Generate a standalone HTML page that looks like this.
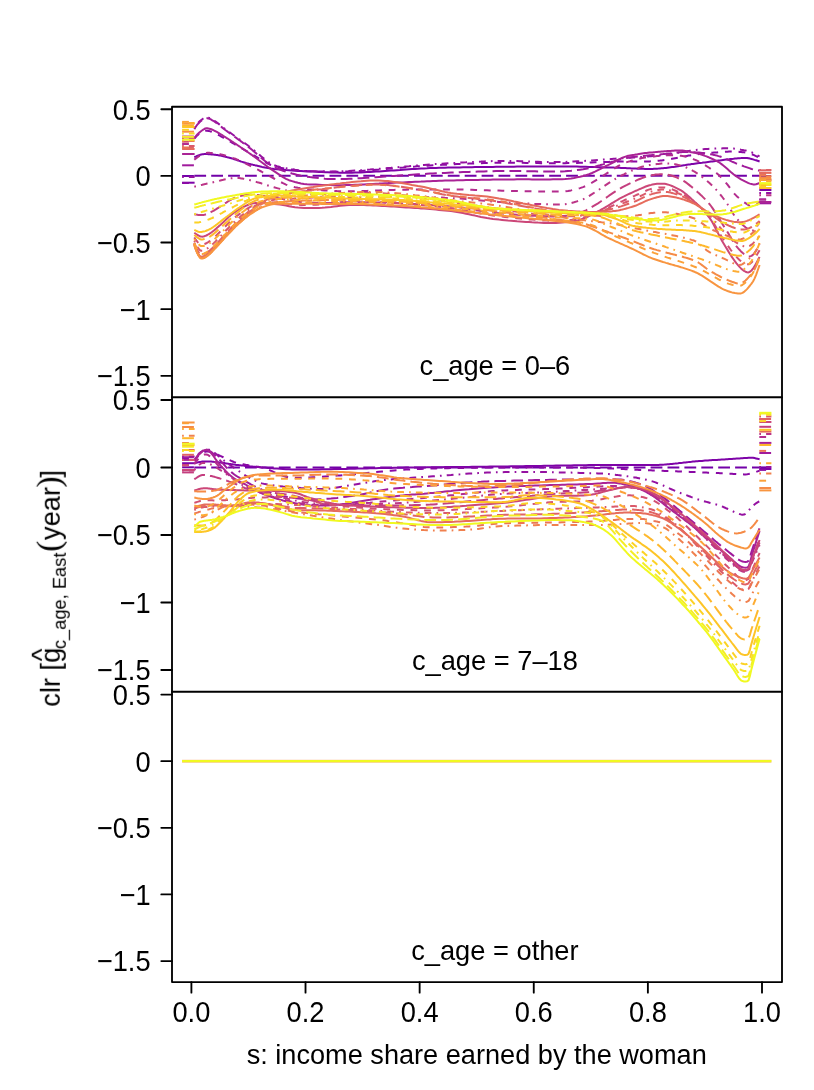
<!DOCTYPE html>
<html><head><meta charset="utf-8"><title>clr effects by year</title>
<style>html,body{margin:0;padding:0;background:#fff}svg{display:block}text{font-family:"Liberation Sans",sans-serif;font-size:27.25px;fill:#000}</style></head><body>
<svg width="814" height="1090" viewBox="0 0 814 1090">
<rect width="814" height="1090" fill="#fff"/>
<g fill="none" stroke-width="2.00" stroke-linecap="butt" stroke-linejoin="round">
<path d="M182.1 176.0H194.6" stroke="#7201A8" stroke-dasharray="11.8 5.1"/>
<path d="M194.3 175.8L195.3 175.8L196.3 175.8L197.3 175.8L198.3 175.8L199.3 175.8L200.3 175.8L201.3 175.8L202.3 175.8L203.3 175.8L204.3 175.8L205.3 175.8L206.3 175.8L207.3 175.8L208.3 175.8L209.3 175.8L210.3 175.8L211.3 175.8L212.3 175.8L213.3 175.8L214.3 175.8L215.3 175.8L216.3 175.8L217.3 175.8L218.3 175.8L219.3 175.8L220.3 175.8L221.3 175.8L222.3 175.8L223.3 175.8L224.3 175.8L225.3 175.8L226.3 175.8L227.3 175.8L228.3 175.8L229.3 175.8L230.3 175.8L231.3 175.8L232.3 175.8L233.3 175.8L234.3 175.8L235.3 175.8L236.3 175.8L237.3 175.8L238.3 175.8L239.3 175.8L240.3 175.8L241.3 175.8L242.3 175.8L243.3 175.8L244.3 175.8L245.3 175.8L246.3 175.8L247.3 175.8L248.3 175.8L249.3 175.8L250.3 175.8L251.3 175.8L252.3 175.8L253.3 175.8L254.3 175.8L255.3 175.8L256.3 175.8L257.3 175.8L258.3 175.8L259.3 175.8L260.3 175.8L261.3 175.8L262.0 175.8L265.0 175.8L268.0 175.8L271.0 175.8L274.0 175.8L277.0 175.8L280.0 175.8L283.0 175.8L286.0 175.8L289.0 175.8L292.0 175.8L295.0 175.8L298.0 175.8L301.0 175.8L304.0 175.8L307.0 175.8L310.0 175.8L313.0 175.8L316.0 175.8L319.0 175.8L322.0 175.8L325.0 175.8L328.0 175.8L331.0 175.8L334.0 175.8L337.0 175.8L340.0 175.8L343.0 175.8L346.0 175.8L349.0 175.8L352.0 175.8L355.0 175.8L358.0 175.8L361.0 175.8L364.0 175.8L367.0 175.8L370.0 175.8L373.0 175.8L376.0 175.8L379.0 175.8L382.0 175.8L385.0 175.8L388.0 175.8L391.0 175.8L394.0 175.8L397.0 175.8L400.0 175.8L403.0 175.8L406.0 175.8L409.0 175.8L412.0 175.8L415.0 175.8L418.0 175.8L421.0 175.8L424.0 175.8L427.0 175.8L430.0 175.8L433.0 175.8L436.0 175.8L439.0 175.8L442.0 175.8L445.0 175.8L448.0 175.8L451.0 175.8L454.0 175.8L457.0 175.8L460.0 175.8L463.0 175.8L466.0 175.8L469.0 175.8L472.0 175.8L475.0 175.8L478.0 175.8L481.0 175.8L484.0 175.8L487.0 175.8L490.0 175.8L493.0 175.8L496.0 175.8L499.0 175.8L502.0 175.8L505.0 175.8L508.0 175.8L511.0 175.8L514.0 175.8L517.0 175.8L520.0 175.8L523.0 175.8L526.0 175.8L529.0 175.8L532.0 175.8L535.0 175.8L538.0 175.8L541.0 175.8L544.0 175.8L547.0 175.8L550.0 175.8L553.0 175.8L556.0 175.8L559.0 175.8L562.0 175.8L565.0 175.8L568.0 175.8L571.0 175.8L574.0 175.8L577.0 175.8L580.0 175.8L583.0 175.8L586.0 175.8L589.0 175.8L592.0 175.8L595.0 175.8L598.0 175.8L600.0 175.8L601.5 175.8L603.0 175.8L604.5 175.8L606.0 175.8L607.5 175.8L609.0 175.8L610.5 175.8L612.0 175.8L613.5 175.8L615.0 175.8L616.5 175.8L618.0 175.8L619.5 175.8L621.0 175.8L622.5 175.8L624.0 175.8L625.5 175.8L627.0 175.8L628.5 175.8L630.0 175.8L631.5 175.8L633.0 175.8L634.5 175.8L636.0 175.8L637.5 175.8L639.0 175.8L640.5 175.8L642.0 175.8L643.5 175.8L645.0 175.8L646.5 175.8L648.0 175.8L649.5 175.8L651.0 175.8L652.5 175.8L654.0 175.8L655.5 175.8L657.0 175.8L658.5 175.8L660.0 175.8L661.5 175.8L663.0 175.8L664.5 175.8L666.0 175.8L667.5 175.8L669.0 175.8L670.5 175.8L672.0 175.8L673.5 175.8L675.0 175.8L676.5 175.8L678.0 175.8L679.5 175.8L681.0 175.8L682.5 175.8L684.0 175.8L685.5 175.8L687.0 175.8L688.5 175.8L690.0 175.8L691.5 175.8L693.0 175.8L694.5 175.8L696.0 175.8L697.5 175.8L699.0 175.8L700.5 175.8L702.0 175.8L703.5 175.8L705.0 175.8L706.5 175.8L708.0 175.8L709.5 175.8L711.0 175.8L712.5 175.8L714.0 175.8L715.5 175.8L717.0 175.8L718.5 175.8L720.0 175.8L721.5 175.8L723.0 175.8L724.5 175.8L726.0 175.8L727.5 175.8L729.0 175.8L730.5 175.8L732.0 175.8L733.5 175.8L735.0 175.8L736.5 175.8L738.0 175.8L739.5 175.8L741.0 175.8L742.5 175.8L744.0 175.8L745.5 175.8L747.0 175.8L748.5 175.8L750.0 175.8L751.5 175.8L753.0 175.8L754.5 175.8L756.0 175.8L757.5 175.8L759.0 175.8L759.6 175.8" stroke="#7201A8" stroke-dasharray="11.8 5.1"/>
<path d="M759.3 176.0H771.4" stroke="#7201A8" stroke-dasharray="11.8 5.1"/>
<path d="M182.1 182.7H194.6" stroke="#7E03A8"/>
<path d="M194.3 157.2L195.3 156.8L196.3 156.3L197.3 155.9L198.3 155.5L199.3 155.1L200.3 154.8L201.3 154.5L202.3 154.3L203.3 154.2L204.3 154.1L205.3 154.1L206.3 154.1L207.3 154.1L208.3 154.2L209.3 154.2L210.3 154.3L211.3 154.4L212.3 154.5L213.3 154.6L214.3 154.7L215.3 154.8L216.3 155.0L217.3 155.1L218.3 155.3L219.3 155.5L220.3 155.6L221.3 155.8L222.3 156.0L223.3 156.2L224.3 156.4L225.3 156.7L226.3 156.9L227.3 157.2L228.3 157.4L229.3 157.7L230.3 158.0L231.3 158.3L232.3 158.6L233.3 158.9L234.3 159.3L235.3 159.6L236.3 159.9L237.3 160.2L238.3 160.6L239.3 160.9L240.3 161.2L241.3 161.6L242.3 161.9L243.3 162.2L244.3 162.5L245.3 162.8L246.3 163.1L247.3 163.4L248.3 163.6L249.3 163.9L250.3 164.1L251.3 164.4L252.3 164.6L253.3 164.9L254.3 165.1L255.3 165.4L256.3 165.6L257.3 165.8L258.3 166.1L259.3 166.3L260.3 166.5L261.3 166.7L262.0 166.9L265.0 167.5L268.0 168.0L271.0 168.5L274.0 168.9L277.0 169.2L280.0 169.4L283.0 169.7L286.0 170.0L289.0 170.2L292.0 170.4L295.0 170.7L298.0 170.9L301.0 171.0L304.0 171.2L307.0 171.4L310.0 171.5L313.0 171.6L316.0 171.8L319.0 171.9L322.0 172.0L325.0 172.2L328.0 172.3L331.0 172.4L334.0 172.5L337.0 172.6L340.0 172.7L343.0 172.7L346.0 172.7L349.0 172.7L352.0 172.7L355.0 172.6L358.0 172.5L361.0 172.4L364.0 172.2L367.0 172.1L370.0 172.0L373.0 171.8L376.0 171.6L379.0 171.4L382.0 171.2L385.0 171.0L388.0 170.8L391.0 170.6L394.0 170.4L397.0 170.2L400.0 170.0L403.0 169.7L406.0 169.5L409.0 169.3L412.0 169.1L415.0 168.9L418.0 168.8L421.0 168.6L424.0 168.4L427.0 168.3L430.0 168.1L433.0 168.0L436.0 167.9L439.0 167.8L442.0 167.8L445.0 167.7L448.0 167.6L451.0 167.6L454.0 167.5L457.0 167.4L460.0 167.4L463.0 167.3L466.0 167.3L469.0 167.2L472.0 167.2L475.0 167.1L478.0 167.1L481.0 167.0L484.0 167.0L487.0 166.9L490.0 166.9L493.0 166.9L496.0 166.8L499.0 166.8L502.0 166.8L505.0 166.7L508.0 166.7L511.0 166.7L514.0 166.7L517.0 166.6L520.0 166.6L523.0 166.6L526.0 166.5L529.0 166.5L532.0 166.5L535.0 166.5L538.0 166.4L541.0 166.4L544.0 166.4L547.0 166.4L550.0 166.4L553.0 166.4L556.0 166.4L559.0 166.4L562.0 166.4L565.0 166.4L568.0 166.5L571.0 166.5L574.0 166.6L577.0 166.6L580.0 166.7L583.0 166.8L586.0 166.8L589.0 166.9L592.0 167.0L595.0 167.1L598.0 167.2L600.0 167.2L601.5 167.3L603.0 167.3L604.5 167.4L606.0 167.4L607.5 167.4L609.0 167.5L610.5 167.5L612.0 167.6L613.5 167.6L615.0 167.7L616.5 167.7L618.0 167.8L619.5 167.8L621.0 167.9L622.5 168.0L624.0 168.1L625.5 168.1L627.0 168.2L628.5 168.3L630.0 168.3L631.5 168.4L633.0 168.5L634.5 168.5L636.0 168.6L637.5 168.7L639.0 168.7L640.5 168.8L642.0 168.8L643.5 168.8L645.0 168.9L646.5 168.9L648.0 168.9L649.5 168.9L651.0 168.9L652.5 168.9L654.0 168.8L655.5 168.7L657.0 168.7L658.5 168.6L660.0 168.4L661.5 168.3L663.0 168.2L664.5 168.0L666.0 167.9L667.5 167.7L669.0 167.5L670.5 167.3L672.0 167.1L673.5 166.9L675.0 166.7L676.5 166.4L678.0 166.2L679.5 166.0L681.0 165.8L682.5 165.5L684.0 165.3L685.5 165.1L687.0 164.8L688.5 164.6L690.0 164.4L691.5 164.1L693.0 163.9L694.5 163.7L696.0 163.5L697.5 163.3L699.0 163.1L700.5 162.9L702.0 162.8L703.5 162.6L705.0 162.4L706.5 162.2L708.0 162.0L709.5 161.8L711.0 161.6L712.5 161.4L714.0 161.2L715.5 161.0L717.0 160.8L718.5 160.6L720.0 160.4L721.5 160.2L723.0 160.0L724.5 159.8L726.0 159.6L727.5 159.4L729.0 159.3L730.5 159.1L732.0 158.9L733.5 158.8L735.0 158.6L736.5 158.4L738.0 158.3L739.5 158.2L741.0 158.1L742.5 157.9L744.0 157.9L745.5 157.9L747.0 158.0L748.5 158.3L750.0 158.6L751.5 159.0L753.0 159.4L754.5 159.9L756.0 160.3L757.5 160.8L759.0 161.3L759.6 161.5" stroke="#7E03A8"/>
<path d="M759.3 190.0H771.4" stroke="#7E03A8"/>
<path d="M182.1 183.0H194.6" stroke="#8A09A5" stroke-dasharray="6.8 6.8"/>
<path d="M194.3 138.6L195.3 137.5L196.3 136.4L197.3 135.4L198.3 134.5L199.3 133.7L200.3 133.0L201.3 132.4L202.3 131.9L203.3 131.4L204.3 131.0L205.3 130.8L206.3 130.7L207.3 130.7L208.3 130.9L209.3 131.1L210.3 131.4L211.3 131.7L212.3 132.1L213.3 132.5L214.3 132.9L215.3 133.4L216.3 133.9L217.3 134.4L218.3 134.9L219.3 135.4L220.3 136.0L221.3 136.6L222.3 137.1L223.3 137.7L224.3 138.3L225.3 138.8L226.3 139.4L227.3 139.9L228.3 140.5L229.3 141.1L230.3 141.6L231.3 142.2L232.3 142.8L233.3 143.4L234.3 144.0L235.3 144.6L236.3 145.1L237.3 145.7L238.3 146.3L239.3 146.9L240.3 147.5L241.3 148.1L242.3 148.7L243.3 149.2L244.3 149.8L245.3 150.4L246.3 151.0L247.3 151.5L248.3 152.1L249.3 152.6L250.3 153.2L251.3 153.8L252.3 154.4L253.3 154.9L254.3 155.6L255.3 156.2L256.3 156.8L257.3 157.4L258.3 158.0L259.3 158.7L260.3 159.3L261.3 159.9L262.0 160.3L265.0 162.1L268.0 163.7L271.0 165.1L274.0 166.2L277.0 167.0L280.0 167.7L283.0 168.2L286.0 168.7L289.0 169.1L292.0 169.6L295.0 170.0L298.0 170.4L301.0 170.7L304.0 170.9L307.0 171.1L310.0 171.2L313.0 171.3L316.0 171.4L319.0 171.5L322.0 171.5L325.0 171.6L328.0 171.7L331.0 171.7L334.0 171.7L337.0 171.7L340.0 171.7L343.0 171.6L346.0 171.6L349.0 171.5L352.0 171.3L355.0 171.2L358.0 171.0L361.0 170.9L364.0 170.7L367.0 170.5L370.0 170.3L373.0 170.0L376.0 169.8L379.0 169.6L382.0 169.3L385.0 169.1L388.0 168.8L391.0 168.6L394.0 168.3L397.0 168.1L400.0 167.8L403.0 167.6L406.0 167.3L409.0 167.1L412.0 166.8L415.0 166.6L418.0 166.3L421.0 166.1L424.0 165.9L427.0 165.7L430.0 165.5L433.0 165.3L436.0 165.1L439.0 165.0L442.0 164.8L445.0 164.7L448.0 164.6L451.0 164.4L454.0 164.3L457.0 164.1L460.0 164.0L463.0 163.9L466.0 163.7L469.0 163.6L472.0 163.5L475.0 163.4L478.0 163.3L481.0 163.2L484.0 163.1L487.0 163.0L490.0 162.9L493.0 162.9L496.0 162.8L499.0 162.7L502.0 162.7L505.0 162.7L508.0 162.7L511.0 162.7L514.0 162.7L517.0 162.8L520.0 162.8L523.0 162.8L526.0 162.9L529.0 163.0L532.0 163.0L535.0 163.1L538.0 163.1L541.0 163.2L544.0 163.2L547.0 163.2L550.0 163.3L553.0 163.3L556.0 163.3L559.0 163.3L562.0 163.2L565.0 163.2L568.0 163.1L571.0 163.0L574.0 163.0L577.0 162.9L580.0 162.8L583.0 162.7L586.0 162.6L589.0 162.5L592.0 162.4L595.0 162.3L598.0 162.2L600.0 162.2L601.5 162.1L603.0 162.1L604.5 162.0L606.0 162.0L607.5 161.9L609.0 161.9L610.5 161.8L612.0 161.8L613.5 161.7L615.0 161.7L616.5 161.7L618.0 161.6L619.5 161.6L621.0 161.6L622.5 161.6L624.0 161.5L625.5 161.5L627.0 161.5L628.5 161.6L630.0 161.6L631.5 161.6L633.0 161.6L634.5 161.6L636.0 161.6L637.5 161.6L639.0 161.6L640.5 161.6L642.0 161.6L643.5 161.6L645.0 161.5L646.5 161.5L648.0 161.4L649.5 161.4L651.0 161.3L652.5 161.2L654.0 161.1L655.5 161.0L657.0 160.9L658.5 160.7L660.0 160.6L661.5 160.4L663.0 160.2L664.5 160.0L666.0 159.8L667.5 159.6L669.0 159.4L670.5 159.1L672.0 158.8L673.5 158.5L675.0 158.2L676.5 157.9L678.0 157.6L679.5 157.3L681.0 157.0L682.5 156.7L684.0 156.4L685.5 156.2L687.0 155.9L688.5 155.6L690.0 155.4L691.5 155.2L693.0 154.9L694.5 154.7L696.0 154.5L697.5 154.3L699.0 154.1L700.5 153.9L702.0 153.8L703.5 153.6L705.0 153.5L706.5 153.3L708.0 153.2L709.5 153.0L711.0 152.9L712.5 152.7L714.0 152.6L715.5 152.5L717.0 152.4L718.5 152.2L720.0 152.1L721.5 152.0L723.0 151.9L724.5 151.8L726.0 151.7L727.5 151.7L729.0 151.6L730.5 151.6L732.0 151.6L733.5 151.6L735.0 151.7L736.5 151.7L738.0 151.8L739.5 151.9L741.0 152.0L742.5 152.2L744.0 152.3L745.5 152.5L747.0 152.7L748.5 153.1L750.0 153.6L751.5 154.1L753.0 154.7L754.5 155.4L756.0 156.1L757.5 156.8L759.0 157.5L759.6 157.8" stroke="#8A09A5" stroke-dasharray="6.8 6.8"/>
<path d="M759.3 199.5H771.4" stroke="#8A09A5" stroke-dasharray="6.8 6.8"/>
<path d="M182.1 177.0H194.6" stroke="#9511A1" stroke-dasharray="1.7 5.1 6.8 5.1"/>
<path d="M194.3 128.3L195.3 126.8L196.3 125.3L197.3 123.9L198.3 122.7L199.3 121.6L200.3 120.8L201.3 120.0L202.3 119.2L203.3 118.5L204.3 117.9L205.3 117.5L206.3 117.3L207.3 117.4L208.3 117.6L209.3 117.9L210.3 118.4L211.3 118.9L212.3 119.5L213.3 120.1L214.3 120.7L215.3 121.4L216.3 122.1L217.3 122.8L218.3 123.6L219.3 124.4L220.3 125.2L221.3 126.0L222.3 126.8L223.3 127.6L224.3 128.4L225.3 129.1L226.3 129.9L227.3 130.6L228.3 131.4L229.3 132.1L230.3 132.8L231.3 133.5L232.3 134.3L233.3 135.0L234.3 135.7L235.3 136.4L236.3 137.1L237.3 137.9L238.3 138.6L239.3 139.3L240.3 140.0L241.3 140.7L242.3 141.4L243.3 142.2L244.3 142.9L245.3 143.6L246.3 144.3L247.3 145.0L248.3 145.8L249.3 146.5L250.3 147.2L251.3 148.0L252.3 148.8L253.3 149.6L254.3 150.4L255.3 151.3L256.3 152.1L257.3 153.0L258.3 153.9L259.3 154.7L260.3 155.6L261.3 156.5L262.0 157.0L265.0 159.5L268.0 161.7L271.0 163.6L274.0 165.1L277.0 166.2L280.0 167.0L283.0 167.7L286.0 168.2L289.0 168.7L292.0 169.2L295.0 169.8L298.0 170.2L301.0 170.6L304.0 170.9L307.0 171.0L310.0 171.1L313.0 171.2L316.0 171.3L319.0 171.3L322.0 171.4L325.0 171.4L328.0 171.4L331.0 171.4L334.0 171.4L337.0 171.4L340.0 171.3L343.0 171.2L346.0 171.1L349.0 171.0L352.0 170.8L355.0 170.6L358.0 170.4L361.0 170.2L364.0 170.0L367.0 169.8L370.0 169.6L373.0 169.3L376.0 169.1L379.0 168.8L382.0 168.6L385.0 168.3L388.0 168.0L391.0 167.8L394.0 167.5L397.0 167.2L400.0 167.0L403.0 166.7L406.0 166.4L409.0 166.2L412.0 165.9L415.0 165.6L418.0 165.4L421.0 165.1L424.0 164.9L427.0 164.7L430.0 164.5L433.0 164.2L436.0 164.0L439.0 163.9L442.0 163.7L445.0 163.5L448.0 163.3L451.0 163.1L454.0 163.0L457.0 162.8L460.0 162.6L463.0 162.4L466.0 162.3L469.0 162.1L472.0 162.0L475.0 161.8L478.0 161.7L481.0 161.6L484.0 161.4L487.0 161.3L490.0 161.2L493.0 161.1L496.0 161.1L499.0 161.0L502.0 161.0L505.0 161.0L508.0 161.0L511.0 161.0L514.0 161.1L517.0 161.1L520.0 161.2L523.0 161.3L526.0 161.4L529.0 161.5L532.0 161.6L535.0 161.7L538.0 161.8L541.0 161.9L544.0 162.0L547.0 162.0L550.0 162.0L553.0 162.1L556.0 162.1L559.0 162.0L562.0 162.0L565.0 161.9L568.0 161.8L571.0 161.6L574.0 161.5L577.0 161.3L580.0 161.2L583.0 161.0L586.0 160.8L589.0 160.6L592.0 160.4L595.0 160.2L598.0 160.0L600.0 159.8L601.5 159.7L603.0 159.6L604.5 159.5L606.0 159.4L607.5 159.3L609.0 159.2L610.5 159.1L612.0 158.9L613.5 158.8L615.0 158.7L616.5 158.6L618.0 158.5L619.5 158.4L621.0 158.3L622.5 158.2L624.0 158.1L625.5 158.0L627.0 157.9L628.5 157.8L630.0 157.7L631.5 157.6L633.0 157.5L634.5 157.4L636.0 157.3L637.5 157.2L639.0 157.1L640.5 157.0L642.0 156.9L643.5 156.8L645.0 156.7L646.5 156.6L648.0 156.5L649.5 156.3L651.0 156.2L652.5 156.1L654.0 156.0L655.5 155.8L657.0 155.7L658.5 155.5L660.0 155.4L661.5 155.2L663.0 155.1L664.5 154.9L666.0 154.7L667.5 154.5L669.0 154.3L670.5 154.0L672.0 153.8L673.5 153.6L675.0 153.3L676.5 153.1L678.0 152.8L679.5 152.5L681.0 152.3L682.5 152.0L684.0 151.8L685.5 151.5L687.0 151.3L688.5 151.0L690.0 150.8L691.5 150.6L693.0 150.4L694.5 150.2L696.0 150.0L697.5 149.8L699.0 149.7L700.5 149.5L702.0 149.4L703.5 149.3L705.0 149.1L706.5 149.0L708.0 148.9L709.5 148.8L711.0 148.8L712.5 148.7L714.0 148.6L715.5 148.6L717.0 148.5L718.5 148.5L720.0 148.4L721.5 148.4L723.0 148.3L724.5 148.3L726.0 148.3L727.5 148.3L729.0 148.3L730.5 148.4L732.0 148.5L733.5 148.6L735.0 148.8L736.5 149.0L738.0 149.2L739.5 149.4L741.0 149.7L742.5 149.9L744.0 150.2L745.5 150.4L747.0 150.7L748.5 151.1L750.0 151.7L751.5 152.3L753.0 152.9L754.5 153.7L756.0 154.5L757.5 155.3L759.0 156.1L759.6 156.4" stroke="#9511A1" stroke-dasharray="1.7 5.1 6.8 5.1"/>
<path d="M759.3 193.0H771.4" stroke="#9511A1" stroke-dasharray="1.7 5.1 6.8 5.1"/>
<path d="M182.1 165.3H194.6" stroke="#A01A9C" stroke-dasharray="11.8 5.1"/>
<path d="M194.3 129.1L195.3 127.5L196.3 126.0L197.3 124.7L198.3 123.6L199.3 122.5L200.3 121.6L201.3 120.7L202.3 119.9L203.3 119.3L204.3 118.7L205.3 118.3L206.3 118.1L207.3 118.2L208.3 118.4L209.3 118.7L210.3 119.2L211.3 119.7L212.3 120.3L213.3 120.8L214.3 121.5L215.3 122.2L216.3 122.9L217.3 123.6L218.3 124.4L219.3 125.2L220.3 126.0L221.3 126.8L222.3 127.6L223.3 128.4L224.3 129.2L225.3 130.0L226.3 130.7L227.3 131.4L228.3 132.2L229.3 132.9L230.3 133.6L231.3 134.3L232.3 135.1L233.3 135.8L234.3 136.5L235.3 137.2L236.3 137.9L237.3 138.7L238.3 139.4L239.3 140.1L240.3 140.8L241.3 141.6L242.3 142.3L243.3 143.1L244.3 143.8L245.3 144.6L246.3 145.4L247.3 146.1L248.3 146.9L249.3 147.7L250.3 148.4L251.3 149.2L252.3 150.0L253.3 150.9L254.3 151.8L255.3 152.6L256.3 153.5L257.3 154.4L258.3 155.3L259.3 156.2L260.3 157.0L261.3 157.9L262.0 158.5L265.0 161.0L268.0 163.3L271.0 165.3L274.0 167.0L277.0 168.4L280.0 169.6L283.0 170.7L286.0 171.7L289.0 172.6L292.0 173.5L295.0 174.3L298.0 175.1L301.0 175.7L304.0 176.2L307.0 176.7L310.0 177.1L313.0 177.4L316.0 177.7L319.0 178.0L322.0 178.3L325.0 178.7L328.0 179.0L331.0 179.1L334.0 179.1L337.0 179.1L340.0 179.0L343.0 179.0L346.0 178.9L349.0 178.8L352.0 178.7L355.0 178.5L358.0 178.3L361.0 178.2L364.0 178.0L367.0 177.8L370.0 177.6L373.0 177.4L376.0 177.2L379.0 177.0L382.0 176.8L385.0 176.6L388.0 176.4L391.0 176.1L394.0 175.9L397.0 175.7L400.0 175.5L403.0 175.3L406.0 175.1L409.0 174.9L412.0 174.7L415.0 174.5L418.0 174.3L421.0 174.2L424.0 174.0L427.0 173.8L430.0 173.6L433.0 173.5L436.0 173.3L439.0 173.2L442.0 173.0L445.0 172.9L448.0 172.7L451.0 172.6L454.0 172.5L457.0 172.4L460.0 172.2L463.0 172.1L466.0 172.0L469.0 171.9L472.0 171.8L475.0 171.7L478.0 171.6L481.0 171.5L484.0 171.4L487.0 171.3L490.0 171.3L493.0 171.2L496.0 171.1L499.0 171.1L502.0 171.0L505.0 171.0L508.0 171.0L511.0 171.0L514.0 171.0L517.0 171.0L520.0 171.1L523.0 171.1L526.0 171.2L529.0 171.2L532.0 171.3L535.0 171.3L538.0 171.4L541.0 171.4L544.0 171.5L547.0 171.5L550.0 171.5L553.0 171.5L556.0 171.5L559.0 171.5L562.0 171.4L565.0 171.3L568.0 171.0L571.0 170.8L574.0 170.5L577.0 170.1L580.0 169.7L583.0 169.3L586.0 168.8L589.0 168.2L592.0 167.5L595.0 166.7L598.0 165.8L600.0 165.3L601.5 164.8L603.0 164.4L604.5 163.9L606.0 163.5L607.5 163.1L609.0 162.7L610.5 162.3L612.0 161.8L613.5 161.4L615.0 160.9L616.5 160.5L618.0 160.0L619.5 159.6L621.0 159.2L622.5 158.8L624.0 158.4L625.5 158.1L627.0 157.9L628.5 157.6L630.0 157.4L631.5 157.2L633.0 157.0L634.5 156.8L636.0 156.7L637.5 156.5L639.0 156.3L640.5 156.2L642.0 156.0L643.5 155.9L645.0 155.7L646.5 155.6L648.0 155.4L649.5 155.3L651.0 155.2L652.5 155.0L654.0 154.9L655.5 154.7L657.0 154.6L658.5 154.5L660.0 154.4L661.5 154.2L663.0 154.1L664.5 153.9L666.0 153.8L667.5 153.6L669.0 153.4L670.5 153.3L672.0 153.1L673.5 152.9L675.0 152.8L676.5 152.6L678.0 152.5L679.5 152.3L681.0 152.2L682.5 152.1L684.0 152.1L685.5 152.1L687.0 152.1L688.5 152.1L690.0 152.1L691.5 152.2L693.0 152.2L694.5 152.3L696.0 152.4L697.5 152.5L699.0 152.6L700.5 152.7L702.0 152.9L703.5 153.1L705.0 153.3L706.5 153.5L708.0 153.8L709.5 154.1L711.0 154.3L712.5 154.6L714.0 154.9L715.5 155.3L717.0 155.6L718.5 156.1L720.0 156.5L721.5 157.0L723.0 157.6L724.5 158.2L726.0 158.9L727.5 159.5L729.0 160.2L730.5 160.9L732.0 161.6L733.5 162.2L735.0 162.9L736.5 163.6L738.0 164.1L739.5 164.7L741.0 165.3L742.5 165.8L744.0 166.4L745.5 166.9L747.0 167.4L748.5 167.9L750.0 168.4L751.5 169.0L753.0 169.4L754.5 169.9L756.0 170.2L757.5 170.4L759.0 170.5L759.6 170.5" stroke="#A01A9C" stroke-dasharray="11.8 5.1"/>
<path d="M759.3 203.3H771.4" stroke="#A01A9C" stroke-dasharray="11.8 5.1"/>
<path d="M182.1 154.0H194.6" stroke="#AA2395"/>
<path d="M194.3 138.2L195.3 136.9L196.3 135.7L197.3 134.5L198.3 133.5L199.3 132.6L200.3 131.8L201.3 131.0L202.3 130.3L203.3 129.6L204.3 129.0L205.3 128.5L206.3 128.3L207.3 128.3L208.3 128.5L209.3 128.7L210.3 129.0L211.3 129.3L212.3 129.7L213.3 130.2L214.3 130.7L215.3 131.1L216.3 131.7L217.3 132.2L218.3 132.8L219.3 133.4L220.3 134.0L221.3 134.6L222.3 135.2L223.3 135.9L224.3 136.5L225.3 137.1L226.3 137.8L227.3 138.4L228.3 139.0L229.3 139.7L230.3 140.3L231.3 141.0L232.3 141.7L233.3 142.3L234.3 143.0L235.3 143.6L236.3 144.3L237.3 145.0L238.3 145.7L239.3 146.3L240.3 147.0L241.3 147.7L242.3 148.4L243.3 149.1L244.3 149.8L245.3 150.4L246.3 151.1L247.3 151.8L248.3 152.5L249.3 153.2L250.3 153.9L251.3 154.6L252.3 155.3L253.3 156.1L254.3 156.8L255.3 157.5L256.3 158.3L257.3 159.0L258.3 159.8L259.3 160.5L260.3 161.3L261.3 162.0L262.0 162.5L265.0 164.8L268.0 167.0L271.0 169.1L274.0 171.1L277.0 173.1L280.0 175.1L283.0 177.1L286.0 178.8L289.0 180.2L292.0 181.1L295.0 182.0L298.0 182.8L301.0 183.4L304.0 183.9L307.0 184.3L310.0 184.4L313.0 184.5L316.0 184.6L319.0 184.7L322.0 184.9L325.0 184.9L328.0 185.0L331.0 185.1L334.0 185.2L337.0 185.2L340.0 185.2L343.0 185.2L346.0 185.1L349.0 185.0L352.0 184.9L355.0 184.8L358.0 184.7L361.0 184.5L364.0 184.4L367.0 184.2L370.0 184.0L373.0 183.9L376.0 183.7L379.0 183.6L382.0 183.4L385.0 183.2L388.0 183.1L391.0 182.9L394.0 182.8L397.0 182.6L400.0 182.5L403.0 182.4L406.0 182.2L409.0 182.1L412.0 182.0L415.0 181.8L418.0 181.7L421.0 181.6L424.0 181.4L427.0 181.3L430.0 181.2L433.0 181.1L436.0 181.0L439.0 180.8L442.0 180.7L445.0 180.6L448.0 180.6L451.0 180.5L454.0 180.4L457.0 180.3L460.0 180.3L463.0 180.2L466.0 180.1L469.0 180.1L472.0 180.0L475.0 179.9L478.0 179.9L481.0 179.8L484.0 179.8L487.0 179.7L490.0 179.7L493.0 179.6L496.0 179.6L499.0 179.5L502.0 179.5L505.0 179.4L508.0 179.4L511.0 179.4L514.0 179.4L517.0 179.3L520.0 179.3L523.0 179.3L526.0 179.3L529.0 179.3L532.0 179.4L535.0 179.4L538.0 179.4L541.0 179.4L544.0 179.4L547.0 179.4L550.0 179.4L553.0 179.3L556.0 179.3L559.0 179.3L562.0 179.3L565.0 179.1L568.0 178.8L571.0 178.4L574.0 177.9L577.0 177.3L580.0 176.7L583.0 176.0L586.0 175.2L589.0 174.2L592.0 173.0L595.0 171.6L598.0 170.1L600.0 169.1L601.5 168.3L603.0 167.6L604.5 166.8L606.0 166.0L607.5 165.3L609.0 164.6L610.5 163.9L612.0 163.1L613.5 162.3L615.0 161.5L616.5 160.7L618.0 159.9L619.5 159.1L621.0 158.4L622.5 157.7L624.0 157.1L625.5 156.6L627.0 156.1L628.5 155.8L630.0 155.5L631.5 155.2L633.0 154.9L634.5 154.7L636.0 154.4L637.5 154.2L639.0 153.9L640.5 153.7L642.0 153.5L643.5 153.3L645.0 153.1L646.5 153.0L648.0 152.8L649.5 152.6L651.0 152.5L652.5 152.4L654.0 152.2L655.5 152.1L657.0 151.9L658.5 151.8L660.0 151.7L661.5 151.6L663.0 151.5L664.5 151.3L666.0 151.2L667.5 151.1L669.0 151.0L670.5 150.9L672.0 150.8L673.5 150.7L675.0 150.6L676.5 150.6L678.0 150.5L679.5 150.5L681.0 150.5L682.5 150.6L684.0 150.8L685.5 151.0L687.0 151.2L688.5 151.5L690.0 151.9L691.5 152.2L693.0 152.5L694.5 152.8L696.0 153.1L697.5 153.5L699.0 153.9L700.5 154.4L702.0 154.8L703.5 155.3L705.0 155.9L706.5 156.4L708.0 157.0L709.5 157.7L711.0 158.3L712.5 159.0L714.0 159.7L715.5 160.4L717.0 161.2L718.5 162.0L720.0 163.0L721.5 164.1L723.0 165.3L724.5 166.5L726.0 167.8L727.5 169.1L729.0 170.4L730.5 171.8L732.0 173.0L733.5 174.3L735.0 175.4L736.5 176.5L738.0 177.5L739.5 178.4L741.0 179.3L742.5 180.1L744.0 180.9L745.5 181.7L747.0 182.4L748.5 183.1L750.0 183.6L751.5 184.0L753.0 184.4L754.5 184.5L756.0 184.3L757.5 183.8L759.0 183.2L759.6 183.0" stroke="#AA2395"/>
<path d="M759.3 202.0H771.4" stroke="#AA2395"/>
<path d="M182.1 144.0H194.6" stroke="#B32C8E" stroke-dasharray="6.8 6.8"/>
<path d="M194.3 159.7L195.3 158.9L196.3 158.1L197.3 157.4L198.3 156.7L199.3 156.0L200.3 155.5L201.3 155.0L202.3 154.4L203.3 153.9L204.3 153.5L205.3 153.1L206.3 152.9L207.3 152.8L208.3 152.8L209.3 152.8L210.3 152.9L211.3 152.9L212.3 153.1L213.3 153.2L214.3 153.3L215.3 153.5L216.3 153.6L217.3 153.8L218.3 154.0L219.3 154.1L220.3 154.3L221.3 154.6L222.3 154.8L223.3 155.0L224.3 155.3L225.3 155.6L226.3 155.8L227.3 156.1L228.3 156.4L229.3 156.7L230.3 157.1L231.3 157.4L232.3 157.7L233.3 158.1L234.3 158.4L235.3 158.8L236.3 159.2L237.3 159.6L238.3 160.0L239.3 160.4L240.3 160.9L241.3 161.3L242.3 161.8L243.3 162.3L244.3 162.8L245.3 163.3L246.3 163.8L247.3 164.3L248.3 164.8L249.3 165.3L250.3 165.9L251.3 166.4L252.3 166.9L253.3 167.4L254.3 167.9L255.3 168.4L256.3 168.9L257.3 169.4L258.3 169.9L259.3 170.5L260.3 171.0L261.3 171.5L262.0 171.9L265.0 173.5L268.0 175.2L271.0 176.9L274.0 178.5L277.0 180.1L280.0 181.7L283.0 183.2L286.0 184.6L289.0 185.6L292.0 186.5L295.0 187.2L298.0 187.8L301.0 188.3L304.0 188.8L307.0 189.1L310.0 189.4L313.0 189.6L316.0 189.8L319.0 190.0L322.0 190.2L325.0 190.4L328.0 190.6L331.0 190.7L334.0 190.9L337.0 191.1L340.0 191.2L343.0 191.3L346.0 191.3L349.0 191.3L352.0 191.3L355.0 191.2L358.0 191.2L361.0 191.1L364.0 191.0L367.0 190.9L370.0 190.7L373.0 190.6L376.0 190.5L379.0 190.4L382.0 190.3L385.0 190.2L388.0 190.1L391.0 190.0L394.0 189.9L397.0 189.8L400.0 189.7L403.0 189.7L406.0 189.7L409.0 189.6L412.0 189.6L415.0 189.5L418.0 189.5L421.0 189.5L424.0 189.5L427.0 189.4L430.0 189.4L433.0 189.4L436.0 189.4L439.0 189.4L442.0 189.4L445.0 189.4L448.0 189.4L451.0 189.4L454.0 189.5L457.0 189.5L460.0 189.6L463.0 189.6L466.0 189.7L469.0 189.8L472.0 189.8L475.0 189.9L478.0 190.0L481.0 190.1L484.0 190.2L487.0 190.3L490.0 190.4L493.0 190.5L496.0 190.6L499.0 190.6L502.0 190.7L505.0 190.8L508.0 190.8L511.0 190.9L514.0 191.0L517.0 191.0L520.0 191.1L523.0 191.1L526.0 191.2L529.0 191.3L532.0 191.3L535.0 191.3L538.0 191.4L541.0 191.4L544.0 191.5L547.0 191.5L550.0 191.5L553.0 191.5L556.0 191.6L559.0 191.6L562.0 191.6L565.0 191.4L568.0 191.0L571.0 190.4L574.0 189.7L577.0 188.9L580.0 188.1L583.0 187.1L586.0 185.9L589.0 184.4L592.0 182.7L595.0 180.9L598.0 179.1L600.0 177.8L601.5 176.8L603.0 175.8L604.5 174.8L606.0 173.9L607.5 172.9L609.0 172.0L610.5 171.1L612.0 170.1L613.5 169.1L615.0 168.2L616.5 167.2L618.0 166.2L619.5 165.4L621.0 164.7L622.5 163.9L624.0 163.3L625.5 162.6L627.0 162.1L628.5 161.6L630.0 161.2L631.5 160.7L633.0 160.3L634.5 159.9L636.0 159.5L637.5 159.1L639.0 158.8L640.5 158.4L642.0 158.1L643.5 157.8L645.0 157.6L646.5 157.4L648.0 157.2L649.5 157.0L651.0 156.8L652.5 156.6L654.0 156.4L655.5 156.3L657.0 156.1L658.5 156.0L660.0 155.8L661.5 155.7L663.0 155.6L664.5 155.5L666.0 155.4L667.5 155.3L669.0 155.2L670.5 155.2L672.0 155.2L673.5 155.2L675.0 155.3L676.5 155.4L678.0 155.5L679.5 155.6L681.0 155.8L682.5 156.0L684.0 156.3L685.5 156.6L687.0 157.0L688.5 157.4L690.0 157.8L691.5 158.3L693.0 159.0L694.5 159.6L696.0 160.2L697.5 160.9L699.0 161.7L700.5 162.5L702.0 163.4L703.5 164.3L705.0 165.2L706.5 166.1L708.0 167.0L709.5 168.0L711.0 169.1L712.5 170.1L714.0 171.2L715.5 172.3L717.0 173.5L718.5 174.8L720.0 176.3L721.5 177.8L723.0 179.4L724.5 181.1L726.0 182.9L727.5 184.7L729.0 186.7L730.5 188.7L732.0 190.7L733.5 192.6L735.0 194.4L736.5 195.9L738.0 197.3L739.5 198.6L741.0 199.8L742.5 201.0L744.0 202.2L745.5 203.2L747.0 204.2L748.5 205.1L750.0 205.8L751.5 206.3L753.0 206.6L754.5 206.4L756.0 205.4L757.5 203.8L759.0 202.1L759.6 201.3" stroke="#B32C8E" stroke-dasharray="6.8 6.8"/>
<path d="M759.3 199.5H771.4" stroke="#B32C8E" stroke-dasharray="6.8 6.8"/>
<path d="M182.1 138.3H194.6" stroke="#BC3587" stroke-dasharray="1.7 5.1 6.8 5.1"/>
<path d="M194.3 186.7L195.3 186.4L196.3 186.2L197.3 186.0L198.3 185.7L199.3 185.5L200.3 185.2L201.3 185.0L202.3 184.8L203.3 184.5L204.3 184.3L205.3 184.1L206.3 183.8L207.3 183.6L208.3 183.4L209.3 183.2L210.3 182.9L211.3 182.7L212.3 182.5L213.3 182.2L214.3 182.0L215.3 181.7L216.3 181.5L217.3 181.2L218.3 181.0L219.3 180.7L220.3 180.5L221.3 180.2L222.3 180.0L223.3 179.8L224.3 179.5L225.3 179.3L226.3 179.1L227.3 178.9L228.3 178.8L229.3 178.6L230.3 178.4L231.3 178.3L232.3 178.2L233.3 178.1L234.3 178.0L235.3 178.0L236.3 178.0L237.3 178.0L238.3 178.0L239.3 178.1L240.3 178.2L241.3 178.4L242.3 178.5L243.3 178.7L244.3 178.9L245.3 179.1L246.3 179.3L247.3 179.6L248.3 179.8L249.3 180.1L250.3 180.3L251.3 180.6L252.3 180.9L253.3 181.1L254.3 181.4L255.3 181.7L256.3 181.9L257.3 182.2L258.3 182.4L259.3 182.7L260.3 183.0L261.3 183.3L262.0 183.6L265.0 184.5L268.0 185.5L271.0 186.5L274.0 187.3L277.0 188.1L280.0 188.9L283.0 189.6L286.0 190.4L289.0 191.1L292.0 191.7L295.0 192.3L298.0 192.7L301.0 193.1L304.0 193.5L307.0 193.8L310.0 194.2L313.0 194.5L316.0 194.8L319.0 195.1L322.0 195.4L325.0 195.7L328.0 196.0L331.0 196.2L334.0 196.4L337.0 196.6L340.0 196.8L343.0 196.9L346.0 197.0L349.0 197.0L352.0 197.0L355.0 197.0L358.0 197.0L361.0 196.9L364.0 196.9L367.0 196.8L370.0 196.8L373.0 196.7L376.0 196.7L379.0 196.6L382.0 196.6L385.0 196.5L388.0 196.5L391.0 196.5L394.0 196.5L397.0 196.5L400.0 196.5L403.0 196.5L406.0 196.6L409.0 196.6L412.0 196.7L415.0 196.8L418.0 196.8L421.0 196.9L424.0 197.0L427.0 197.1L430.0 197.2L433.0 197.3L436.0 197.4L439.0 197.5L442.0 197.6L445.0 197.8L448.0 197.9L451.0 198.0L454.0 198.2L457.0 198.4L460.0 198.6L463.0 198.8L466.0 199.1L469.0 199.3L472.0 199.6L475.0 199.9L478.0 200.1L481.0 200.4L484.0 200.7L487.0 200.9L490.0 201.2L493.0 201.5L496.0 201.7L499.0 201.9L502.0 202.1L505.0 202.3L508.0 202.5L511.0 202.7L514.0 202.9L517.0 203.1L520.0 203.2L523.0 203.4L526.0 203.5L529.0 203.6L532.0 203.8L535.0 203.9L538.0 204.0L541.0 204.1L544.0 204.2L547.0 204.3L550.0 204.3L553.0 204.4L556.0 204.4L559.0 204.5L562.0 204.5L565.0 204.2L568.0 203.7L571.0 203.1L574.0 202.3L577.0 201.4L580.0 200.5L583.0 199.4L586.0 197.9L589.0 196.1L592.0 194.2L595.0 192.2L598.0 190.3L600.0 189.0L601.5 188.0L603.0 187.0L604.5 185.9L606.0 184.9L607.5 183.9L609.0 182.9L610.5 181.9L612.0 181.0L613.5 180.1L615.0 179.2L616.5 178.3L618.0 177.5L619.5 176.6L621.0 175.8L622.5 175.0L624.0 174.3L625.5 173.5L627.0 172.8L628.5 172.1L630.0 171.5L631.5 170.8L633.0 170.2L634.5 169.6L636.0 169.0L637.5 168.4L639.0 167.8L640.5 167.3L642.0 166.8L643.5 166.4L645.0 166.0L646.5 165.7L648.0 165.4L649.5 165.1L651.0 164.9L652.5 164.6L654.0 164.4L655.5 164.2L657.0 164.0L658.5 163.9L660.0 163.7L661.5 163.6L663.0 163.5L664.5 163.5L666.0 163.4L667.5 163.4L669.0 163.5L670.5 163.5L672.0 163.7L673.5 163.9L675.0 164.2L676.5 164.5L678.0 164.9L679.5 165.3L681.0 165.8L682.5 166.2L684.0 166.7L685.5 167.2L687.0 167.8L688.5 168.5L690.0 169.2L691.5 170.0L693.0 170.9L694.5 171.7L696.0 172.6L697.5 173.6L699.0 174.6L700.5 175.8L702.0 176.9L703.5 178.1L705.0 179.3L706.5 180.5L708.0 181.8L709.5 183.1L711.0 184.5L712.5 185.9L714.0 187.4L715.5 189.0L717.0 190.6L718.5 192.3L720.0 194.2L721.5 196.0L723.0 198.0L724.5 200.0L726.0 202.0L727.5 204.2L729.0 206.7L730.5 209.3L732.0 211.9L733.5 214.3L735.0 216.5L736.5 218.3L738.0 220.0L739.5 221.7L741.0 223.2L742.5 224.7L744.0 226.0L745.5 227.2L747.0 228.3L748.5 229.3L750.0 230.0L751.5 230.4L753.0 230.4L754.5 229.7L756.0 227.9L757.5 225.4L759.0 222.6L759.6 221.5" stroke="#BC3587" stroke-dasharray="1.7 5.1 6.8 5.1"/>
<path d="M759.3 195.3H771.4" stroke="#BC3587" stroke-dasharray="1.7 5.1 6.8 5.1"/>
<path d="M182.1 136.5H194.6" stroke="#C43E7F" stroke-dasharray="11.8 5.1"/>
<path d="M194.3 214.3L195.3 214.4L196.3 214.6L197.3 214.7L198.3 214.9L199.3 215.0L200.3 215.0L201.3 215.1L202.3 215.1L203.3 215.0L204.3 214.8L205.3 214.5L206.3 214.1L207.3 213.8L208.3 213.3L209.3 212.9L210.3 212.4L211.3 211.9L212.3 211.4L213.3 210.9L214.3 210.3L215.3 209.7L216.3 209.1L217.3 208.4L218.3 207.8L219.3 207.2L220.3 206.5L221.3 205.9L222.3 205.2L223.3 204.6L224.3 203.9L225.3 203.2L226.3 202.6L227.3 201.9L228.3 201.2L229.3 200.6L230.3 200.0L231.3 199.5L232.3 198.9L233.3 198.5L234.3 198.0L235.3 197.7L236.3 197.3L237.3 197.0L238.3 196.6L239.3 196.3L240.3 196.1L241.3 195.8L242.3 195.6L243.3 195.4L244.3 195.2L245.3 195.0L246.3 194.8L247.3 194.7L248.3 194.6L249.3 194.5L250.3 194.5L251.3 194.5L252.3 194.5L253.3 194.5L254.3 194.6L255.3 194.7L256.3 194.8L257.3 195.0L258.3 195.1L259.3 195.3L260.3 195.5L261.3 195.8L262.0 195.8L265.0 196.3L268.0 196.7L271.0 197.2L274.0 197.6L277.0 198.1L280.0 198.6L283.0 199.1L286.0 199.6L289.0 200.2L292.0 200.8L295.0 201.3L298.0 201.7L301.0 201.9L304.0 202.2L307.0 202.4L310.0 202.6L313.0 202.7L316.0 202.9L319.0 203.0L322.0 203.0L325.0 203.1L328.0 203.0L331.0 203.0L334.0 202.8L337.0 202.7L340.0 202.5L343.0 202.4L346.0 202.3L349.0 202.2L352.0 202.2L355.0 202.2L358.0 202.2L361.0 202.2L364.0 202.2L367.0 202.3L370.0 202.3L373.0 202.4L376.0 202.5L379.0 202.5L382.0 202.6L385.0 202.7L388.0 202.8L391.0 202.9L394.0 203.0L397.0 203.1L400.0 203.2L403.0 203.4L406.0 203.5L409.0 203.6L412.0 203.8L415.0 203.9L418.0 204.1L421.0 204.3L424.0 204.5L427.0 204.6L430.0 204.8L433.0 205.0L436.0 205.3L439.0 205.5L442.0 205.7L445.0 205.9L448.0 206.2L451.0 206.5L454.0 206.8L457.0 207.1L460.0 207.5L463.0 208.0L466.0 208.4L469.0 208.9L472.0 209.4L475.0 209.9L478.0 210.4L481.0 210.9L484.0 211.4L487.0 211.8L490.0 212.2L493.0 212.6L496.0 212.9L499.0 213.2L502.0 213.5L505.0 213.8L508.0 214.0L511.0 214.3L514.0 214.5L517.0 214.7L520.0 214.9L523.0 215.1L526.0 215.3L529.0 215.5L532.0 215.7L535.0 215.8L538.0 215.9L541.0 216.1L544.0 216.2L547.0 216.3L550.0 216.4L553.0 216.4L556.0 216.4L559.0 216.3L562.0 216.1L565.0 215.9L568.0 215.5L571.0 215.0L574.0 214.4L577.0 213.7L580.0 212.8L583.0 211.7L586.0 210.3L589.0 208.7L592.0 206.9L595.0 205.1L598.0 203.3L600.0 202.0L601.5 201.0L603.0 200.0L604.5 198.9L606.0 197.9L607.5 196.8L609.0 195.7L610.5 194.7L612.0 193.7L613.5 192.7L615.0 191.7L616.5 190.7L618.0 189.8L619.5 188.9L621.0 188.0L622.5 187.2L624.0 186.4L625.5 185.6L627.0 184.9L628.5 184.1L630.0 183.4L631.5 182.7L633.0 181.9L634.5 181.2L636.0 180.6L637.5 179.9L639.0 179.3L640.5 178.7L642.0 178.1L643.5 177.5L645.0 177.0L646.5 176.5L648.0 176.1L649.5 175.7L651.0 175.4L652.5 175.1L654.0 174.9L655.5 174.6L657.0 174.5L658.5 174.4L660.0 174.3L661.5 174.2L663.0 174.2L664.5 174.3L666.0 174.4L667.5 174.7L669.0 175.0L670.5 175.3L672.0 175.7L673.5 176.2L675.0 176.8L676.5 177.4L678.0 178.1L679.5 178.8L681.0 179.5L682.5 180.3L684.0 181.2L685.5 182.2L687.0 183.2L688.5 184.4L690.0 185.6L691.5 186.8L693.0 188.0L694.5 189.3L696.0 190.5L697.5 191.9L699.0 193.2L700.5 194.7L702.0 196.1L703.5 197.6L705.0 199.1L706.5 200.7L708.0 202.4L709.5 204.1L711.0 206.0L712.5 208.1L714.0 210.4L715.5 212.7L717.0 215.1L718.5 217.6L720.0 220.1L721.5 222.6L723.0 225.0L724.5 227.3L726.0 229.6L727.5 232.1L729.0 234.6L730.5 237.2L732.0 239.7L733.5 242.1L735.0 244.3L736.5 246.3L738.0 248.1L739.5 249.8L741.0 251.4L742.5 252.8L744.0 254.1L745.5 255.1L747.0 255.9L748.5 256.4L750.0 256.4L751.5 255.9L753.0 254.8L754.5 253.1L756.0 250.8L757.5 248.0L759.0 245.0L759.6 243.8" stroke="#C43E7F" stroke-dasharray="11.8 5.1"/>
<path d="M759.3 188.0H771.4" stroke="#C43E7F" stroke-dasharray="11.8 5.1"/>
<path d="M182.1 137.5H194.6" stroke="#CC4778"/>
<path d="M194.3 232.8L195.3 233.5L196.3 234.2L197.3 234.8L198.3 235.4L199.3 236.0L200.3 236.4L201.3 236.6L202.3 236.7L203.3 236.5L204.3 236.3L205.3 235.9L206.3 235.5L207.3 235.0L208.3 234.4L209.3 233.8L210.3 233.2L211.3 232.5L212.3 231.8L213.3 231.0L214.3 230.2L215.3 229.4L216.3 228.5L217.3 227.6L218.3 226.7L219.3 225.8L220.3 225.0L221.3 224.1L222.3 223.1L223.3 222.2L224.3 221.2L225.3 220.3L226.3 219.3L227.3 218.3L228.3 217.4L229.3 216.4L230.3 215.6L231.3 214.7L232.3 213.9L233.3 213.1L234.3 212.4L235.3 211.8L236.3 211.2L237.3 210.6L238.3 210.0L239.3 209.4L240.3 208.8L241.3 208.2L242.3 207.7L243.3 207.1L244.3 206.6L245.3 206.1L246.3 205.6L247.3 205.2L248.3 204.8L249.3 204.4L250.3 204.1L251.3 203.8L252.3 203.5L253.3 203.3L254.3 203.2L255.3 203.1L256.3 203.0L257.3 203.0L258.3 203.0L259.3 203.0L260.3 203.0L261.3 203.0L262.0 203.1L265.0 203.2L268.0 203.4L271.0 203.6L274.0 203.9L277.0 204.2L280.0 204.6L283.0 205.1L286.0 205.6L289.0 206.2L292.0 206.8L295.0 207.3L298.0 207.6L301.0 207.8L304.0 208.0L307.0 208.1L310.0 208.1L313.0 208.1L316.0 208.0L319.0 207.9L322.0 207.8L325.0 207.6L328.0 207.3L331.0 207.0L334.0 206.6L337.0 206.2L340.0 205.8L343.0 205.5L346.0 205.2L349.0 205.0L352.0 205.0L355.0 205.0L358.0 205.0L361.0 205.0L364.0 205.1L367.0 205.2L370.0 205.3L373.0 205.4L376.0 205.6L379.0 205.8L382.0 205.9L385.0 206.1L388.0 206.3L391.0 206.5L394.0 206.6L397.0 206.8L400.0 207.0L403.0 207.2L406.0 207.4L409.0 207.5L412.0 207.7L415.0 207.9L418.0 208.1L421.0 208.4L424.0 208.6L427.0 208.8L430.0 209.1L433.0 209.3L436.0 209.6L439.0 209.9L442.0 210.2L445.0 210.5L448.0 210.8L451.0 211.1L454.0 211.5L457.0 212.0L460.0 212.5L463.0 213.1L466.0 213.7L469.0 214.3L472.0 215.0L475.0 215.6L478.0 216.3L481.0 216.9L484.0 217.4L487.0 218.0L490.0 218.5L493.0 218.9L496.0 219.2L499.0 219.6L502.0 219.9L505.0 220.2L508.0 220.5L511.0 220.7L514.0 221.0L517.0 221.3L520.0 221.5L523.0 221.7L526.0 221.9L529.0 222.1L532.0 222.3L535.0 222.4L538.0 222.6L541.0 222.7L544.0 222.9L547.0 223.0L550.0 223.0L553.0 223.0L556.0 222.9L559.0 222.8L562.0 222.5L565.0 222.2L568.0 221.9L571.0 221.5L574.0 221.1L577.0 220.6L580.0 219.8L583.0 218.8L586.0 217.5L589.0 216.1L592.0 214.5L595.0 212.9L598.0 211.3L600.0 210.3L601.5 209.5L603.0 208.7L604.5 207.8L606.0 206.9L607.5 206.0L609.0 205.1L610.5 204.2L612.0 203.2L613.5 202.3L615.0 201.4L616.5 200.5L618.0 199.6L619.5 198.7L621.0 197.9L622.5 197.1L624.0 196.4L625.5 195.6L627.0 194.9L628.5 194.2L630.0 193.5L631.5 192.8L633.0 192.1L634.5 191.4L636.0 190.7L637.5 190.1L639.0 189.4L640.5 188.8L642.0 188.1L643.5 187.5L645.0 186.8L646.5 186.2L648.0 185.7L649.5 185.2L651.0 184.9L652.5 184.5L654.0 184.2L655.5 184.0L657.0 183.8L658.5 183.7L660.0 183.7L661.5 183.7L663.0 183.7L664.5 183.8L666.0 184.1L667.5 184.4L669.0 184.9L670.5 185.4L672.0 186.0L673.5 186.7L675.0 187.4L676.5 188.1L678.0 188.8L679.5 189.6L681.0 190.4L682.5 191.4L684.0 192.5L685.5 193.7L687.0 194.9L688.5 196.2L690.0 197.6L691.5 199.0L693.0 200.3L694.5 201.7L696.0 203.0L697.5 204.4L699.0 205.8L700.5 207.3L702.0 208.8L703.5 210.4L705.0 212.1L706.5 213.9L708.0 215.8L709.5 217.8L711.0 220.1L712.5 222.6L714.0 225.3L715.5 228.2L717.0 231.1L718.5 234.1L720.0 237.0L721.5 239.9L723.0 242.5L724.5 245.0L726.0 247.5L727.5 249.9L729.0 252.4L730.5 254.8L732.0 257.1L733.5 259.3L735.0 261.4L736.5 263.4L738.0 265.2L739.5 266.9L741.0 268.4L742.5 269.8L744.0 270.9L745.5 271.7L747.0 272.2L748.5 272.4L750.0 271.8L751.5 270.5L753.0 268.7L754.5 266.4L756.0 263.7L757.5 260.9L759.0 258.0L759.6 256.9" stroke="#CC4778"/>
<path d="M759.3 180.0H771.4" stroke="#CC4778"/>
<path d="M182.1 141.7H194.6" stroke="#D35171" stroke-dasharray="6.8 6.8"/>
<path d="M194.3 237.4L195.3 239.0L196.3 240.4L197.3 241.7L198.3 242.8L199.3 243.7L200.3 244.4L201.3 244.7L202.3 244.7L203.3 244.5L204.3 244.1L205.3 243.7L206.3 243.3L207.3 242.7L208.3 242.1L209.3 241.4L210.3 240.7L211.3 239.9L212.3 239.1L213.3 238.3L214.3 237.4L215.3 236.4L216.3 235.5L217.3 234.5L218.3 233.5L219.3 232.5L220.3 231.6L221.3 230.6L222.3 229.6L223.3 228.5L224.3 227.5L225.3 226.5L226.3 225.5L227.3 224.4L228.3 223.4L229.3 222.4L230.3 221.5L231.3 220.5L232.3 219.6L233.3 218.8L234.3 217.9L235.3 217.1L236.3 216.4L237.3 215.6L238.3 214.9L239.3 214.1L240.3 213.4L241.3 212.7L242.3 211.9L243.3 211.2L244.3 210.6L245.3 209.9L246.3 209.3L247.3 208.6L248.3 208.0L249.3 207.5L250.3 206.9L251.3 206.4L252.3 206.0L253.3 205.5L254.3 205.1L255.3 204.7L256.3 204.4L257.3 204.1L258.3 203.8L259.3 203.5L260.3 203.3L261.3 203.0L262.0 203.0L265.0 202.8L268.0 202.7L271.0 202.6L274.0 202.6L277.0 202.7L280.0 202.8L283.0 203.1L286.0 203.5L289.0 203.9L292.0 204.2L295.0 204.6L298.0 204.8L301.0 204.9L304.0 204.9L307.0 204.9L310.0 204.9L313.0 204.8L316.0 204.7L319.0 204.5L322.0 204.3L325.0 204.1L328.0 203.8L331.0 203.5L334.0 203.1L337.0 202.7L340.0 202.3L343.0 202.0L346.0 201.7L349.0 201.5L352.0 201.4L355.0 201.3L358.0 201.3L361.0 201.3L364.0 201.3L367.0 201.4L370.0 201.5L373.0 201.6L376.0 201.7L379.0 201.8L382.0 202.0L385.0 202.2L388.0 202.4L391.0 202.6L394.0 202.8L397.0 203.0L400.0 203.2L403.0 203.4L406.0 203.7L409.0 203.9L412.0 204.2L415.0 204.4L418.0 204.7L421.0 205.0L424.0 205.2L427.0 205.5L430.0 205.8L433.0 206.2L436.0 206.5L439.0 206.8L442.0 207.2L445.0 207.6L448.0 207.9L451.0 208.3L454.0 208.7L457.0 209.1L460.0 209.6L463.0 210.2L466.0 210.7L469.0 211.3L472.0 211.9L475.0 212.5L478.0 213.0L481.0 213.6L484.0 214.1L487.0 214.7L490.0 215.1L493.0 215.5L496.0 215.9L499.0 216.3L502.0 216.6L505.0 217.0L508.0 217.3L511.0 217.6L514.0 218.0L517.0 218.3L520.0 218.6L523.0 218.8L526.0 219.1L529.0 219.4L532.0 219.6L535.0 219.8L538.0 220.1L541.0 220.3L544.0 220.5L547.0 220.6L550.0 220.8L553.0 220.9L556.0 220.8L559.0 220.8L562.0 220.6L565.0 220.4L568.0 220.2L571.0 219.9L574.0 219.6L577.0 219.2L580.0 218.6L583.0 217.7L586.0 216.6L589.0 215.4L592.0 214.1L595.0 212.8L598.0 211.6L600.0 210.9L601.5 210.3L603.0 209.8L604.5 209.2L606.0 208.6L607.5 208.0L609.0 207.3L610.5 206.6L612.0 206.0L613.5 205.3L615.0 204.6L616.5 203.8L618.0 203.1L619.5 202.4L621.0 201.7L622.5 201.1L624.0 200.4L625.5 199.7L627.0 199.1L628.5 198.4L630.0 197.8L631.5 197.1L633.0 196.5L634.5 195.9L636.0 195.2L637.5 194.5L639.0 193.9L640.5 193.2L642.0 192.5L643.5 191.8L645.0 191.2L646.5 190.5L648.0 189.9L649.5 189.4L651.0 189.0L652.5 188.6L654.0 188.3L655.5 188.0L657.0 187.8L658.5 187.6L660.0 187.5L661.5 187.4L663.0 187.4L664.5 187.5L666.0 187.7L667.5 188.0L669.0 188.3L670.5 188.8L672.0 189.3L673.5 189.9L675.0 190.5L676.5 191.1L678.0 191.8L679.5 192.4L681.0 193.1L682.5 194.0L684.0 194.9L685.5 195.8L687.0 196.9L688.5 198.0L690.0 199.1L691.5 200.2L693.0 201.4L694.5 202.5L696.0 203.6L697.5 204.8L699.0 206.1L700.5 207.4L702.0 208.8L703.5 210.3L705.0 211.9L706.5 213.5L708.0 215.2L709.5 217.0L711.0 219.1L712.5 221.3L714.0 223.7L715.5 226.3L717.0 228.9L718.5 231.5L720.0 234.0L721.5 236.5L723.0 238.8L724.5 241.0L726.0 243.2L727.5 245.3L729.0 247.4L730.5 249.5L732.0 251.5L733.5 253.4L735.0 255.2L736.5 256.9L738.0 258.5L739.5 259.9L741.0 261.2L742.5 262.3L744.0 263.2L745.5 263.8L747.0 264.2L748.5 264.3L750.0 263.7L751.5 262.5L753.0 260.8L754.5 258.7L756.0 256.3L757.5 253.8L759.0 251.3L759.6 250.3" stroke="#D35171" stroke-dasharray="6.8 6.8"/>
<path d="M759.3 172.9H771.4" stroke="#D35171" stroke-dasharray="6.8 6.8"/>
<path d="M182.1 146.1H194.6" stroke="#DA5A6A" stroke-dasharray="1.7 5.1 6.8 5.1"/>
<path d="M194.3 240.6L195.3 242.9L196.3 245.0L197.3 246.7L198.3 248.2L199.3 249.5L200.3 250.5L201.3 250.7L202.3 250.6L203.3 250.3L204.3 249.9L205.3 249.5L206.3 249.0L207.3 248.4L208.3 247.8L209.3 247.1L210.3 246.3L211.3 245.5L212.3 244.6L213.3 243.6L214.3 242.6L215.3 241.7L216.3 240.6L217.3 239.6L218.3 238.6L219.3 237.5L220.3 236.5L221.3 235.4L222.3 234.3L223.3 233.3L224.3 232.2L225.3 231.1L226.3 230.0L227.3 229.0L228.3 228.0L229.3 226.9L230.3 225.9L231.3 224.9L232.3 223.9L233.3 222.9L234.3 222.0L235.3 221.1L236.3 220.2L237.3 219.3L238.3 218.4L239.3 217.6L240.3 216.7L241.3 215.8L242.3 215.0L243.3 214.2L244.3 213.4L245.3 212.6L246.3 211.8L247.3 211.0L248.3 210.3L249.3 209.6L250.3 208.9L251.3 208.2L252.3 207.5L253.3 206.9L254.3 206.3L255.3 205.7L256.3 205.2L257.3 204.7L258.3 204.2L259.3 203.8L260.3 203.4L261.3 203.0L262.0 202.8L265.0 202.0L268.0 201.2L271.0 200.5L274.0 199.8L277.0 199.3L280.0 199.0L283.0 198.8L286.0 198.7L289.0 198.7L292.0 198.7L295.0 198.6L298.0 198.5L301.0 198.4L304.0 198.2L307.0 198.0L310.0 197.8L313.0 197.5L316.0 197.3L319.0 197.0L322.0 196.8L325.0 196.5L328.0 196.1L331.0 195.8L334.0 195.4L337.0 195.0L340.0 194.6L343.0 194.3L346.0 194.0L349.0 193.7L352.0 193.5L355.0 193.4L358.0 193.3L361.0 193.1L364.0 193.1L367.0 193.0L370.0 193.0L373.0 193.0L376.0 193.0L379.0 193.1L382.0 193.3L385.0 193.5L388.0 193.7L391.0 194.0L394.0 194.3L397.0 194.6L400.0 194.9L403.0 195.2L406.0 195.6L409.0 195.9L412.0 196.3L415.0 196.7L418.0 197.1L421.0 197.4L424.0 197.8L427.0 198.3L430.0 198.7L433.0 199.2L436.0 199.7L439.0 200.2L442.0 200.7L445.0 201.2L448.0 201.6L451.0 202.0L454.0 202.5L457.0 202.9L460.0 203.3L463.0 203.8L466.0 204.2L469.0 204.6L472.0 205.1L475.0 205.5L478.0 206.0L481.0 206.4L484.0 206.9L487.0 207.3L490.0 207.7L493.0 208.2L496.0 208.6L499.0 209.0L502.0 209.4L505.0 209.9L508.0 210.3L511.0 210.8L514.0 211.2L517.0 211.7L520.0 212.1L523.0 212.5L526.0 213.0L529.0 213.4L532.0 213.7L535.0 214.1L538.0 214.5L541.0 214.8L544.0 215.2L547.0 215.5L550.0 215.8L553.0 216.1L556.0 216.2L559.0 216.3L562.0 216.4L565.0 216.4L568.0 216.3L571.0 216.3L574.0 216.2L577.0 216.0L580.0 215.7L583.0 215.3L586.0 214.7L589.0 214.0L592.0 213.3L595.0 212.5L598.0 211.6L600.0 211.1L601.5 210.7L603.0 210.3L604.5 209.9L606.0 209.4L607.5 208.9L609.0 208.5L610.5 208.0L612.0 207.5L613.5 207.0L615.0 206.4L616.5 205.9L618.0 205.3L619.5 204.7L621.0 204.1L622.5 203.5L624.0 202.9L625.5 202.3L627.0 201.7L628.5 201.1L630.0 200.5L631.5 199.9L633.0 199.3L634.5 198.7L636.0 198.1L637.5 197.4L639.0 196.7L640.5 196.0L642.0 195.3L643.5 194.6L645.0 193.9L646.5 193.2L648.0 192.6L649.5 192.1L651.0 191.6L652.5 191.2L654.0 190.8L655.5 190.5L657.0 190.2L658.5 189.9L660.0 189.7L661.5 189.6L663.0 189.5L664.5 189.6L666.0 189.7L667.5 189.9L669.0 190.3L670.5 190.6L672.0 191.1L673.5 191.6L675.0 192.1L676.5 192.7L678.0 193.3L679.5 193.8L681.0 194.5L682.5 195.2L684.0 196.0L685.5 196.9L687.0 197.8L688.5 198.7L690.0 199.7L691.5 200.8L693.0 201.8L694.5 202.8L696.0 203.9L697.5 205.0L699.0 206.2L700.5 207.4L702.0 208.6L703.5 209.9L705.0 211.3L706.5 212.6L708.0 214.0L709.5 215.4L711.0 216.9L712.5 218.5L714.0 220.2L715.5 222.0L717.0 223.8L718.5 225.6L720.0 227.4L721.5 229.1L723.0 230.7L724.5 232.2L726.0 233.7L727.5 235.1L729.0 236.5L730.5 237.9L732.0 239.2L733.5 240.5L735.0 241.6L736.5 242.7L738.0 243.7L739.5 244.6L741.0 245.3L742.5 245.9L744.0 246.3L745.5 246.5L747.0 246.6L748.5 246.3L750.0 245.7L751.5 244.7L753.0 243.4L754.5 241.8L756.0 240.1L757.5 238.3L759.0 236.4L759.6 235.7" stroke="#DA5A6A" stroke-dasharray="1.7 5.1 6.8 5.1"/>
<path d="M759.3 170.0H771.4" stroke="#DA5A6A" stroke-dasharray="1.7 5.1 6.8 5.1"/>
<path d="M182.1 148.0H194.6" stroke="#E06363" stroke-dasharray="11.8 5.1"/>
<path d="M194.3 242.6L195.3 245.4L196.3 247.9L197.3 250.0L198.3 251.7L199.3 253.4L200.3 254.5L201.3 254.8L202.3 254.6L203.3 254.2L204.3 253.8L205.3 253.3L206.3 252.8L207.3 252.3L208.3 251.6L209.3 250.9L210.3 250.0L211.3 249.1L212.3 248.1L213.3 247.1L214.3 246.1L215.3 245.1L216.3 244.0L217.3 243.0L218.3 241.9L219.3 240.8L220.3 239.7L221.3 238.6L222.3 237.5L223.3 236.4L224.3 235.3L225.3 234.2L226.3 233.1L227.3 232.0L228.3 231.0L229.3 229.9L230.3 228.9L231.3 227.8L232.3 226.8L233.3 225.8L234.3 224.8L235.3 223.8L236.3 222.8L237.3 221.8L238.3 220.8L239.3 219.9L240.3 219.0L241.3 218.0L242.3 217.1L243.3 216.2L244.3 215.3L245.3 214.4L246.3 213.6L247.3 212.7L248.3 211.9L249.3 211.0L250.3 210.2L251.3 209.4L252.3 208.7L253.3 207.9L254.3 207.2L255.3 206.5L256.3 205.8L257.3 205.1L258.3 204.5L259.3 204.0L260.3 203.4L261.3 203.0L262.0 202.6L265.0 201.1L268.0 199.7L271.0 198.3L274.0 197.1L277.0 196.0L280.0 195.1L283.0 194.5L286.0 194.0L289.0 193.6L292.0 193.1L295.0 192.7L298.0 192.3L301.0 191.9L304.0 191.5L307.0 191.0L310.0 190.6L313.0 190.3L316.0 189.9L319.0 189.5L322.0 189.2L325.0 188.8L328.0 188.5L331.0 188.1L334.0 187.7L337.0 187.3L340.0 186.9L343.0 186.6L346.0 186.3L349.0 186.0L352.0 185.7L355.0 185.4L358.0 185.2L361.0 185.0L364.0 184.8L367.0 184.6L370.0 184.5L373.0 184.4L376.0 184.4L379.0 184.5L382.0 184.6L385.0 184.8L388.0 185.1L391.0 185.4L394.0 185.7L397.0 186.1L400.0 186.5L403.0 187.0L406.0 187.5L409.0 188.0L412.0 188.4L415.0 188.9L418.0 189.4L421.0 189.9L424.0 190.4L427.0 191.0L430.0 191.6L433.0 192.2L436.0 192.9L439.0 193.5L442.0 194.2L445.0 194.8L448.0 195.3L451.0 195.8L454.0 196.2L457.0 196.6L460.0 197.0L463.0 197.3L466.0 197.7L469.0 198.0L472.0 198.3L475.0 198.6L478.0 198.9L481.0 199.3L484.0 199.6L487.0 200.0L490.0 200.4L493.0 200.8L496.0 201.3L499.0 201.8L502.0 202.3L505.0 202.8L508.0 203.4L511.0 203.9L514.0 204.5L517.0 205.1L520.0 205.7L523.0 206.2L526.0 206.8L529.0 207.4L532.0 207.9L535.0 208.4L538.0 208.9L541.0 209.4L544.0 209.9L547.0 210.4L550.0 210.8L553.0 211.3L556.0 211.6L559.0 211.9L562.0 212.1L565.0 212.3L568.0 212.5L571.0 212.6L574.0 212.8L577.0 212.9L580.0 212.9L583.0 212.8L586.0 212.8L589.0 212.6L592.0 212.4L595.0 212.2L598.0 211.7L600.0 211.4L601.5 211.1L603.0 210.8L604.5 210.5L606.0 210.2L607.5 209.9L609.0 209.5L610.5 209.2L612.0 208.9L613.5 208.5L615.0 208.2L616.5 207.8L618.0 207.3L619.5 206.8L621.0 206.4L622.5 205.9L624.0 205.4L625.5 204.8L627.0 204.3L628.5 203.8L630.0 203.2L631.5 202.7L633.0 202.1L634.5 201.6L636.0 201.0L637.5 200.3L639.0 199.6L640.5 198.9L642.0 198.1L643.5 197.4L645.0 196.7L646.5 196.0L648.0 195.4L649.5 194.8L651.0 194.4L652.5 193.9L654.0 193.5L655.5 193.1L657.0 192.7L658.5 192.4L660.0 192.2L661.5 192.0L663.0 191.9L664.5 191.8L666.0 191.9L667.5 192.1L669.0 192.3L670.5 192.6L672.0 193.0L673.5 193.4L675.0 193.9L676.5 194.3L678.0 194.8L679.5 195.3L681.0 195.9L682.5 196.5L684.0 197.1L685.5 197.9L687.0 198.7L688.5 199.5L690.0 200.4L691.5 201.3L693.0 202.2L694.5 203.1L696.0 204.1L697.5 205.1L699.0 206.2L700.5 207.4L702.0 208.5L703.5 209.6L705.0 210.7L706.5 211.7L708.0 212.7L709.5 213.7L711.0 214.7L712.5 215.7L714.0 216.7L715.5 217.8L717.0 218.8L718.5 219.8L720.0 220.8L721.5 221.7L723.0 222.6L724.5 223.4L726.0 224.2L727.5 225.0L729.0 225.7L730.5 226.3L732.0 227.0L733.5 227.5L735.0 228.1L736.5 228.5L738.0 228.9L739.5 229.2L741.0 229.4L742.5 229.5L744.0 229.4L745.5 229.2L747.0 228.9L748.5 228.4L750.0 227.8L751.5 227.0L753.0 226.0L754.5 225.0L756.0 223.8L757.5 222.7L759.0 221.5L759.6 221.0" stroke="#E06363" stroke-dasharray="11.8 5.1"/>
<path d="M759.3 170.3H771.4" stroke="#E06363" stroke-dasharray="11.8 5.1"/>
<path d="M182.1 149.0H194.6" stroke="#E66C5C"/>
<path d="M194.3 243.5L195.3 246.6L196.3 249.3L197.3 251.6L198.3 253.5L199.3 255.3L200.3 256.5L201.3 256.8L202.3 256.6L203.3 256.3L204.3 255.8L205.3 255.3L206.3 254.8L207.3 254.2L208.3 253.6L209.3 252.8L210.3 251.9L211.3 250.9L212.3 249.9L213.3 248.9L214.3 247.8L215.3 246.8L216.3 245.7L217.3 244.6L218.3 243.5L219.3 242.4L220.3 241.3L221.3 240.2L222.3 239.1L223.3 237.9L224.3 236.8L225.3 235.7L226.3 234.6L227.3 233.6L228.3 232.5L229.3 231.5L230.3 230.4L231.3 229.4L232.3 228.3L233.3 227.3L234.3 226.3L235.3 225.2L236.3 224.2L237.3 223.2L238.3 222.3L239.3 221.3L240.3 220.4L241.3 219.4L242.3 218.5L243.3 217.5L244.3 216.6L245.3 215.7L246.3 214.8L247.3 213.9L248.3 213.1L249.3 212.2L250.3 211.4L251.3 210.6L252.3 209.8L253.3 209.0L254.3 208.2L255.3 207.4L256.3 206.6L257.3 205.8L258.3 205.1L259.3 204.4L260.3 203.7L261.3 203.0L262.0 202.5L265.0 200.7L268.0 199.0L271.0 197.3L274.0 195.8L277.0 194.4L280.0 193.3L283.0 192.6L286.0 191.9L289.0 191.2L292.0 190.6L295.0 190.0L298.0 189.5L301.0 188.9L304.0 188.4L307.0 187.9L310.0 187.4L313.0 187.0L316.0 186.5L319.0 186.1L322.0 185.7L325.0 185.3L328.0 185.0L331.0 184.6L334.0 184.2L337.0 183.8L340.0 183.5L343.0 183.1L346.0 182.8L349.0 182.4L352.0 182.1L355.0 181.8L358.0 181.5L361.0 181.3L364.0 181.0L367.0 180.8L370.0 180.6L373.0 180.5L376.0 180.5L379.0 180.5L382.0 180.7L385.0 180.9L388.0 181.1L391.0 181.5L394.0 181.9L397.0 182.3L400.0 182.8L403.0 183.3L406.0 183.8L409.0 184.3L412.0 184.9L415.0 185.4L418.0 186.0L421.0 186.5L424.0 187.1L427.0 187.7L430.0 188.4L433.0 189.1L436.0 189.8L439.0 190.5L442.0 191.2L445.0 191.9L448.0 192.5L451.0 193.0L454.0 193.4L457.0 193.8L460.0 194.1L463.0 194.4L466.0 194.7L469.0 195.0L472.0 195.2L475.0 195.5L478.0 195.7L481.0 196.0L484.0 196.3L487.0 196.6L490.0 197.0L493.0 197.4L496.0 197.9L499.0 198.5L502.0 199.0L505.0 199.6L508.0 200.2L511.0 200.8L514.0 201.5L517.0 202.1L520.0 202.7L523.0 203.4L526.0 204.0L529.0 204.6L532.0 205.2L535.0 205.8L538.0 206.3L541.0 206.9L544.0 207.5L547.0 208.1L550.0 208.6L553.0 209.1L556.0 209.5L559.0 209.9L562.0 210.2L565.0 210.5L568.0 210.8L571.0 211.0L574.0 211.2L577.0 211.4L580.0 211.6L583.0 211.7L586.0 211.9L589.0 212.0L592.0 212.0L595.0 212.0L598.0 212.0L600.0 211.9L601.5 211.9L603.0 211.8L604.5 211.7L606.0 211.7L607.5 211.6L609.0 211.5L610.5 211.4L612.0 211.3L613.5 211.1L615.0 211.0L616.5 210.7L618.0 210.5L619.5 210.2L621.0 209.8L622.5 209.5L624.0 209.1L625.5 208.7L627.0 208.3L628.5 207.9L630.0 207.4L631.5 207.0L633.0 206.5L634.5 206.0L636.0 205.5L637.5 204.9L639.0 204.2L640.5 203.5L642.0 202.8L643.5 202.1L645.0 201.4L646.5 200.7L648.0 200.1L649.5 199.6L651.0 199.1L652.5 198.6L654.0 198.1L655.5 197.7L657.0 197.3L658.5 196.9L660.0 196.6L661.5 196.3L663.0 196.1L664.5 196.0L666.0 196.0L667.5 196.1L669.0 196.2L670.5 196.4L672.0 196.7L673.5 197.0L675.0 197.3L676.5 197.6L678.0 198.0L679.5 198.4L681.0 198.8L682.5 199.2L684.0 199.6L685.5 200.2L687.0 200.7L688.5 201.3L690.0 201.9L691.5 202.6L693.0 203.2L694.5 203.9L696.0 204.7L697.5 205.6L699.0 206.5L700.5 207.5L702.0 208.5L703.5 209.4L705.0 210.4L706.5 211.3L708.0 212.2L709.5 212.9L711.0 213.7L712.5 214.4L714.0 215.1L715.5 215.8L717.0 216.5L718.5 217.2L720.0 217.8L721.5 218.4L723.0 218.9L724.5 219.4L726.0 219.9L727.5 220.3L729.0 220.7L730.5 221.1L732.0 221.4L733.5 221.7L735.0 221.9L736.5 222.0L738.0 222.2L739.5 222.2L741.0 222.2L742.5 222.0L744.0 221.8L745.5 221.4L747.0 220.9L748.5 220.3L750.0 219.6L751.5 218.9L753.0 218.1L754.5 217.3L756.0 216.5L757.5 215.6L759.0 214.7L759.6 214.4" stroke="#E66C5C"/>
<path d="M759.3 172.9H771.4" stroke="#E66C5C"/>
<path d="M182.1 147.5H194.6" stroke="#EB7655" stroke-dasharray="6.8 6.8"/>
<path d="M194.3 243.8L195.3 246.9L196.3 249.9L197.3 252.2L198.3 254.2L199.3 256.0L200.3 257.2L201.3 257.6L202.3 257.4L203.3 257.2L204.3 256.8L205.3 256.3L206.3 255.8L207.3 255.2L208.3 254.4L209.3 253.6L210.3 252.7L211.3 251.7L212.3 250.6L213.3 249.5L214.3 248.4L215.3 247.4L216.3 246.3L217.3 245.2L218.3 244.1L219.3 243.0L220.3 241.9L221.3 240.7L222.3 239.6L223.3 238.5L224.3 237.4L225.3 236.3L226.3 235.2L227.3 234.2L228.3 233.1L229.3 232.1L230.3 231.1L231.3 230.0L232.3 229.0L233.3 228.0L234.3 227.0L235.3 226.0L236.3 225.0L237.3 224.0L238.3 223.1L239.3 222.1L240.3 221.2L241.3 220.3L242.3 219.4L243.3 218.4L244.3 217.5L245.3 216.7L246.3 215.8L247.3 214.9L248.3 214.1L249.3 213.3L250.3 212.5L251.3 211.7L252.3 211.0L253.3 210.2L254.3 209.4L255.3 208.7L256.3 208.0L257.3 207.2L258.3 206.5L259.3 205.8L260.3 205.0L261.3 204.3L262.0 203.9L265.0 202.2L268.0 200.6L271.0 199.0L274.0 197.5L277.0 196.2L280.0 195.2L283.0 194.5L286.0 193.9L289.0 193.4L292.0 192.8L295.0 192.3L298.0 191.9L301.0 191.4L304.0 191.0L307.0 190.5L310.0 190.1L313.0 189.8L316.0 189.4L319.0 189.1L322.0 188.8L325.0 188.5L328.0 188.2L331.0 187.9L334.0 187.6L337.0 187.3L340.0 187.0L343.0 186.7L346.0 186.4L349.0 186.2L352.0 185.9L355.0 185.7L358.0 185.5L361.0 185.3L364.0 185.1L367.0 184.9L370.0 184.8L373.0 184.7L376.0 184.7L379.0 184.8L382.0 184.9L385.0 185.1L388.0 185.3L391.0 185.6L394.0 185.9L397.0 186.3L400.0 186.7L403.0 187.1L406.0 187.6L409.0 188.0L412.0 188.5L415.0 189.0L418.0 189.5L421.0 189.9L424.0 190.4L427.0 190.9L430.0 191.5L433.0 192.1L436.0 192.7L439.0 193.3L442.0 193.9L445.0 194.5L448.0 195.0L451.0 195.5L454.0 195.9L457.0 196.3L460.0 196.6L463.0 196.9L466.0 197.2L469.0 197.5L472.0 197.8L475.0 198.1L478.0 198.3L481.0 198.6L484.0 199.0L487.0 199.3L490.0 199.7L493.0 200.1L496.0 200.6L499.0 201.1L502.0 201.6L505.0 202.1L508.0 202.7L511.0 203.3L514.0 203.9L517.0 204.5L520.0 205.1L523.0 205.7L526.0 206.3L529.0 206.9L532.0 207.5L535.0 208.1L538.0 208.7L541.0 209.3L544.0 209.9L547.0 210.5L550.0 211.1L553.0 211.7L556.0 212.2L559.0 212.7L562.0 213.1L565.0 213.4L568.0 213.8L571.0 214.1L574.0 214.4L577.0 214.7L580.0 214.9L583.0 215.1L586.0 215.3L589.0 215.5L592.0 215.6L595.0 215.7L598.0 215.8L600.0 215.9L601.5 216.0L603.0 216.0L604.5 216.1L606.0 216.2L607.5 216.2L609.0 216.3L610.5 216.4L612.0 216.5L613.5 216.5L615.0 216.6L616.5 216.6L618.0 216.6L619.5 216.6L621.0 216.6L622.5 216.5L624.0 216.5L625.5 216.4L627.0 216.3L628.5 216.3L630.0 216.2L631.5 216.1L633.0 215.9L634.5 215.8L636.0 215.6L637.5 215.4L639.0 215.1L640.5 214.9L642.0 214.6L643.5 214.3L645.0 214.0L646.5 213.7L648.0 213.5L649.5 213.3L651.0 213.1L652.5 213.0L654.0 212.8L655.5 212.6L657.0 212.5L658.5 212.4L660.0 212.3L661.5 212.2L663.0 212.2L664.5 212.2L666.0 212.3L667.5 212.4L669.0 212.6L670.5 212.8L672.0 213.0L673.5 213.3L675.0 213.5L676.5 213.8L678.0 214.1L679.5 214.4L681.0 214.7L682.5 215.0L684.0 215.4L685.5 215.8L687.0 216.2L688.5 216.6L690.0 217.0L691.5 217.5L693.0 218.0L694.5 218.5L696.0 219.1L697.5 220.0L699.0 221.0L700.5 222.0L702.0 223.2L703.5 224.4L705.0 225.5L706.5 226.6L708.0 227.6L709.5 228.4L711.0 229.1L712.5 229.8L714.0 230.5L715.5 231.2L717.0 231.9L718.5 232.5L720.0 233.1L721.5 233.7L723.0 234.3L724.5 234.8L726.0 235.4L727.5 236.0L729.0 236.5L730.5 237.1L732.0 237.7L733.5 238.2L735.0 238.6L736.5 239.0L738.0 239.3L739.5 239.4L741.0 239.2L742.5 238.8L744.0 238.2L745.5 237.4L747.0 236.6L748.5 235.7L750.0 234.8L751.5 233.8L753.0 232.6L754.5 231.4L756.0 230.0L757.5 228.6L759.0 227.2L759.6 226.7" stroke="#EB7655" stroke-dasharray="6.8 6.8"/>
<path d="M759.3 175.0H771.4" stroke="#EB7655" stroke-dasharray="6.8 6.8"/>
<path d="M182.1 141.0H194.6" stroke="#F0804E" stroke-dasharray="1.7 5.1 6.8 5.1"/>
<path d="M194.3 244.0L195.3 247.3L196.3 250.2L197.3 252.6L198.3 254.5L199.3 256.4L200.3 257.7L201.3 258.0L202.3 257.9L203.3 257.7L204.3 257.3L205.3 256.8L206.3 256.3L207.3 255.6L208.3 254.9L209.3 254.0L210.3 253.1L211.3 252.1L212.3 251.0L213.3 249.9L214.3 248.8L215.3 247.8L216.3 246.7L217.3 245.6L218.3 244.5L219.3 243.4L220.3 242.2L221.3 241.1L222.3 240.0L223.3 238.9L224.3 237.8L225.3 236.7L226.3 235.6L227.3 234.6L228.3 233.5L229.3 232.5L230.3 231.5L231.3 230.4L232.3 229.4L233.3 228.4L234.3 227.4L235.3 226.4L236.3 225.4L237.3 224.5L238.3 223.5L239.3 222.6L240.3 221.7L241.3 220.8L242.3 219.9L243.3 219.0L244.3 218.1L245.3 217.3L246.3 216.4L247.3 215.6L248.3 214.8L249.3 214.0L250.3 213.3L251.3 212.6L252.3 211.9L253.3 211.2L254.3 210.5L255.3 209.8L256.3 209.2L257.3 208.5L258.3 207.9L259.3 207.3L260.3 206.8L261.3 206.2L262.0 205.8L265.0 204.4L268.0 203.0L271.0 201.6L274.0 200.3L277.0 199.2L280.0 198.4L283.0 197.9L286.0 197.5L289.0 197.1L292.0 196.7L295.0 196.4L298.0 196.0L301.0 195.7L304.0 195.4L307.0 195.2L310.0 194.9L313.0 194.7L316.0 194.5L319.0 194.3L322.0 194.1L325.0 193.9L328.0 193.8L331.0 193.6L334.0 193.4L337.0 193.3L340.0 193.1L343.0 192.9L346.0 192.8L349.0 192.6L352.0 192.5L355.0 192.4L358.0 192.2L361.0 192.1L364.0 192.1L367.0 192.0L370.0 192.0L373.0 192.0L376.0 192.0L379.0 192.0L382.0 192.1L385.0 192.3L388.0 192.4L391.0 192.6L394.0 192.9L397.0 193.2L400.0 193.5L403.0 193.8L406.0 194.1L409.0 194.5L412.0 194.8L415.0 195.2L418.0 195.5L421.0 195.9L424.0 196.2L427.0 196.6L430.0 197.1L433.0 197.5L436.0 198.0L439.0 198.4L442.0 198.9L445.0 199.3L448.0 199.7L451.0 200.1L454.0 200.5L457.0 200.9L460.0 201.2L463.0 201.5L466.0 201.8L469.0 202.1L472.0 202.4L475.0 202.8L478.0 203.1L481.0 203.4L484.0 203.7L487.0 204.1L490.0 204.5L493.0 204.9L496.0 205.3L499.0 205.7L502.0 206.2L505.0 206.7L508.0 207.2L511.0 207.7L514.0 208.2L517.0 208.8L520.0 209.3L523.0 209.9L526.0 210.4L529.0 211.0L532.0 211.5L535.0 212.1L538.0 212.7L541.0 213.3L544.0 213.9L547.0 214.5L550.0 215.1L553.0 215.7L556.0 216.3L559.0 216.8L562.0 217.3L565.0 217.8L568.0 218.2L571.0 218.6L574.0 219.0L577.0 219.4L580.0 219.8L583.0 220.1L586.0 220.5L589.0 220.9L592.0 221.2L595.0 221.6L598.0 221.9L600.0 222.1L601.5 222.3L603.0 222.4L604.5 222.6L606.0 222.8L607.5 222.9L609.0 223.1L610.5 223.3L612.0 223.6L613.5 223.8L615.0 224.1L616.5 224.3L618.0 224.6L619.5 225.0L621.0 225.3L622.5 225.6L624.0 225.9L625.5 226.3L627.0 226.6L628.5 226.9L630.0 227.2L631.5 227.6L633.0 227.9L634.5 228.2L636.0 228.4L637.5 228.7L639.0 229.0L640.5 229.3L642.0 229.6L643.5 229.9L645.0 230.1L646.5 230.4L648.0 230.7L649.5 231.0L651.0 231.3L652.5 231.6L654.0 231.9L655.5 232.1L657.0 232.4L658.5 232.7L660.0 232.9L661.5 233.2L663.0 233.5L664.5 233.8L666.0 234.0L667.5 234.3L669.0 234.6L670.5 234.9L672.0 235.2L673.5 235.5L675.0 235.8L676.5 236.1L678.0 236.4L679.5 236.7L681.0 237.1L682.5 237.4L684.0 237.8L685.5 238.2L687.0 238.6L688.5 239.0L690.0 239.4L691.5 239.9L693.0 240.3L694.5 240.8L696.0 241.5L697.5 242.4L699.0 243.6L700.5 244.9L702.0 246.2L703.5 247.6L705.0 248.9L706.5 250.1L708.0 251.2L709.5 252.1L711.0 252.9L712.5 253.6L714.0 254.3L715.5 255.0L717.0 255.7L718.5 256.3L720.0 257.0L721.5 257.6L723.0 258.3L724.5 258.9L726.0 259.6L727.5 260.3L729.0 261.0L730.5 261.8L732.0 262.6L733.5 263.3L735.0 264.0L736.5 264.6L738.0 265.0L739.5 265.1L741.0 264.8L742.5 264.1L744.0 263.1L745.5 261.9L747.0 260.6L748.5 259.3L750.0 258.0L751.5 256.6L753.0 254.9L754.5 252.9L756.0 250.7L757.5 248.4L759.0 246.0L759.6 245.0" stroke="#F0804E" stroke-dasharray="1.7 5.1 6.8 5.1"/>
<path d="M759.3 176.2H771.4" stroke="#F0804E" stroke-dasharray="1.7 5.1 6.8 5.1"/>
<path d="M182.1 131.7H194.6" stroke="#F58B47" stroke-dasharray="11.8 5.1"/>
<path d="M194.3 244.8L195.3 247.9L196.3 250.7L197.3 253.0L198.3 254.9L199.3 256.7L200.3 258.0L201.3 258.4L202.3 258.3L203.3 258.1L204.3 257.7L205.3 257.2L206.3 256.5L207.3 255.8L208.3 255.0L209.3 254.2L210.3 253.2L211.3 252.3L212.3 251.2L213.3 250.2L214.3 249.1L215.3 248.1L216.3 247.0L217.3 245.9L218.3 244.9L219.3 243.7L220.3 242.6L221.3 241.5L222.3 240.4L223.3 239.3L224.3 238.2L225.3 237.1L226.3 236.0L227.3 235.0L228.3 233.9L229.3 232.9L230.3 231.8L231.3 230.8L232.3 229.8L233.3 228.7L234.3 227.7L235.3 226.7L236.3 225.8L237.3 224.8L238.3 223.9L239.3 223.0L240.3 222.1L241.3 221.2L242.3 220.3L243.3 219.4L244.3 218.6L245.3 217.7L246.3 216.9L247.3 216.1L248.3 215.4L249.3 214.6L250.3 213.9L251.3 213.2L252.3 212.6L253.3 211.9L254.3 211.3L255.3 210.6L256.3 210.0L257.3 209.4L258.3 208.8L259.3 208.3L260.3 207.7L261.3 207.2L262.0 206.9L265.0 205.7L268.0 204.5L271.0 203.5L274.0 202.6L277.0 202.1L280.0 201.7L283.0 201.5L286.0 201.4L289.0 201.2L292.0 201.1L295.0 200.9L298.0 200.8L301.0 200.7L304.0 200.6L307.0 200.5L310.0 200.4L313.0 200.3L316.0 200.2L319.0 200.2L322.0 200.1L325.0 200.1L328.0 200.0L331.0 200.0L334.0 199.9L337.0 199.9L340.0 199.8L343.0 199.7L346.0 199.7L349.0 199.7L352.0 199.6L355.0 199.6L358.0 199.6L361.0 199.6L364.0 199.6L367.0 199.6L370.0 199.7L373.0 199.7L376.0 199.8L379.0 199.9L382.0 200.0L385.0 200.2L388.0 200.3L391.0 200.5L394.0 200.7L397.0 200.9L400.0 201.1L403.0 201.3L406.0 201.5L409.0 201.8L412.0 202.0L415.0 202.3L418.0 202.6L421.0 202.9L424.0 203.1L427.0 203.5L430.0 203.8L433.0 204.1L436.0 204.5L439.0 204.8L442.0 205.1L445.0 205.5L448.0 205.8L451.0 206.2L454.0 206.5L457.0 206.8L460.0 207.1L463.0 207.5L466.0 207.8L469.0 208.1L472.0 208.4L475.0 208.8L478.0 209.1L481.0 209.5L484.0 209.8L487.0 210.1L490.0 210.5L493.0 210.9L496.0 211.2L499.0 211.6L502.0 212.0L505.0 212.4L508.0 212.7L511.0 213.1L514.0 213.5L517.0 213.9L520.0 214.3L523.0 214.7L526.0 215.1L529.0 215.5L532.0 215.9L535.0 216.3L538.0 216.7L541.0 217.2L544.0 217.6L547.0 218.1L550.0 218.5L553.0 219.0L556.0 219.4L559.0 219.8L562.0 220.2L565.0 220.6L568.0 221.1L571.0 221.5L574.0 222.0L577.0 222.5L580.0 223.1L583.0 223.7L586.0 224.3L589.0 225.2L592.0 226.2L595.0 227.2L598.0 228.3L600.0 229.1L601.5 229.6L603.0 230.2L604.5 230.8L606.0 231.3L607.5 231.8L609.0 232.4L610.5 232.9L612.0 233.4L613.5 233.9L615.0 234.4L616.5 235.0L618.0 235.5L619.5 236.1L621.0 236.6L622.5 237.2L624.0 237.7L625.5 238.3L627.0 238.9L628.5 239.5L630.0 240.0L631.5 240.6L633.0 241.2L634.5 241.8L636.0 242.4L637.5 243.0L639.0 243.6L640.5 244.2L642.0 244.8L643.5 245.4L645.0 246.0L646.5 246.6L648.0 247.2L649.5 247.7L651.0 248.2L652.5 248.7L654.0 249.2L655.5 249.6L657.0 250.1L658.5 250.5L660.0 250.9L661.5 251.4L663.0 251.8L664.5 252.2L666.0 252.6L667.5 252.9L669.0 253.3L670.5 253.7L672.0 254.1L673.5 254.4L675.0 254.8L676.5 255.2L678.0 255.5L679.5 255.9L681.0 256.3L682.5 256.7L684.0 257.2L685.5 257.6L687.0 258.0L688.5 258.5L690.0 259.0L691.5 259.5L693.0 260.0L694.5 260.5L696.0 261.2L697.5 262.0L699.0 263.0L700.5 264.0L702.0 265.1L703.5 266.2L705.0 267.4L706.5 268.5L708.0 269.5L709.5 270.5L711.0 271.4L712.5 272.3L714.0 273.2L715.5 274.1L717.0 274.9L718.5 275.7L720.0 276.5L721.5 277.3L723.0 278.0L724.5 278.7L726.0 279.3L727.5 280.0L729.0 280.6L730.5 281.2L732.0 281.8L733.5 282.3L735.0 282.8L736.5 283.2L738.0 283.5L739.5 283.6L741.0 283.4L742.5 282.7L744.0 281.7L745.5 280.5L747.0 279.0L748.5 277.4L750.0 275.8L751.5 274.0L753.0 272.1L754.5 269.5L756.0 266.4L757.5 263.0L759.0 259.5L759.6 258.0" stroke="#F58B47" stroke-dasharray="11.8 5.1"/>
<path d="M759.3 177.4H771.4" stroke="#F58B47" stroke-dasharray="11.8 5.1"/>
<path d="M182.1 123.7H194.6" stroke="#F89540"/>
<path d="M194.3 245.5L195.3 248.3L196.3 250.9L197.3 253.1L198.3 255.0L199.3 256.8L200.3 258.1L201.3 258.5L202.3 258.5L203.3 258.3L204.3 257.9L205.3 257.3L206.3 256.7L207.3 255.9L208.3 255.1L209.3 254.2L210.3 253.3L211.3 252.3L212.3 251.3L213.3 250.3L214.3 249.3L215.3 248.3L216.3 247.2L217.3 246.1L218.3 245.0L219.3 243.9L220.3 242.8L221.3 241.7L222.3 240.6L223.3 239.5L224.3 238.4L225.3 237.3L226.3 236.2L227.3 235.2L228.3 234.1L229.3 233.1L230.3 232.0L231.3 231.0L232.3 229.9L233.3 228.9L234.3 227.9L235.3 226.9L236.3 225.9L237.3 225.0L238.3 224.0L239.3 223.1L240.3 222.2L241.3 221.4L242.3 220.5L243.3 219.6L244.3 218.8L245.3 218.0L246.3 217.2L247.3 216.4L248.3 215.6L249.3 214.9L250.3 214.2L251.3 213.6L252.3 212.9L253.3 212.3L254.3 211.6L255.3 211.0L256.3 210.4L257.3 209.8L258.3 209.2L259.3 208.7L260.3 208.2L261.3 207.7L262.0 207.4L265.0 206.4L268.0 205.4L271.0 204.5L274.0 203.9L277.0 203.8L280.0 203.8L283.0 203.8L286.0 203.8L289.0 203.8L292.0 203.8L295.0 203.8L298.0 203.8L301.0 203.8L304.0 203.8L307.0 203.8L310.0 203.8L313.0 203.8L316.0 203.8L319.0 203.8L322.0 203.9L325.0 203.9L328.0 203.9L331.0 203.9L334.0 203.9L337.0 203.9L340.0 203.9L343.0 204.0L346.0 204.0L349.0 204.0L352.0 204.0L355.0 204.1L358.0 204.1L361.0 204.2L364.0 204.2L367.0 204.3L370.0 204.4L373.0 204.5L376.0 204.7L379.0 204.8L382.0 204.9L385.0 205.1L388.0 205.2L391.0 205.3L394.0 205.5L397.0 205.6L400.0 205.8L403.0 206.0L406.0 206.1L409.0 206.3L412.0 206.5L415.0 206.8L418.0 207.0L421.0 207.3L424.0 207.5L427.0 207.8L430.0 208.1L433.0 208.4L436.0 208.6L439.0 208.9L442.0 209.2L445.0 209.5L448.0 209.8L451.0 210.1L454.0 210.4L457.0 210.7L460.0 211.0L463.0 211.3L466.0 211.7L469.0 212.0L472.0 212.3L475.0 212.7L478.0 213.0L481.0 213.4L484.0 213.7L487.0 214.1L490.0 214.4L493.0 214.7L496.0 215.1L499.0 215.4L502.0 215.7L505.0 216.0L508.0 216.3L511.0 216.6L514.0 216.9L517.0 217.2L520.0 217.5L523.0 217.8L526.0 218.1L529.0 218.4L532.0 218.6L535.0 218.9L538.0 219.2L541.0 219.5L544.0 219.8L547.0 220.1L550.0 220.4L553.0 220.7L556.0 221.1L559.0 221.4L562.0 221.7L565.0 222.1L568.0 222.5L571.0 223.0L574.0 223.5L577.0 224.1L580.0 224.8L583.0 225.6L586.0 226.4L589.0 227.6L592.0 229.0L595.0 230.5L598.0 232.2L600.0 233.4L601.5 234.3L603.0 235.1L604.5 236.0L606.0 236.8L607.5 237.6L609.0 238.3L610.5 239.0L612.0 239.7L613.5 240.4L615.0 241.1L616.5 241.8L618.0 242.4L619.5 243.1L621.0 243.8L622.5 244.4L624.0 245.1L625.5 245.8L627.0 246.4L628.5 247.1L630.0 247.8L631.5 248.5L633.0 249.2L634.5 249.9L636.0 250.6L637.5 251.4L639.0 252.1L640.5 252.9L642.0 253.7L643.5 254.5L645.0 255.2L646.5 255.9L648.0 256.6L649.5 257.3L651.0 257.9L652.5 258.5L654.0 259.0L655.5 259.5L657.0 260.0L658.5 260.5L660.0 261.0L661.5 261.5L663.0 262.0L664.5 262.4L666.0 262.9L667.5 263.3L669.0 263.8L670.5 264.2L672.0 264.6L673.5 265.0L675.0 265.5L676.5 265.9L678.0 266.3L679.5 266.7L681.0 267.2L682.5 267.6L684.0 268.1L685.5 268.6L687.0 269.1L688.5 269.6L690.0 270.1L691.5 270.6L693.0 271.2L694.5 271.8L696.0 272.5L697.5 273.2L699.0 274.0L700.5 274.8L702.0 275.7L703.5 276.7L705.0 277.6L706.5 278.6L708.0 279.6L709.5 280.6L711.0 281.7L712.5 282.7L714.0 283.7L715.5 284.7L717.0 285.6L718.5 286.6L720.0 287.4L721.5 288.3L723.0 289.1L724.5 289.8L726.0 290.4L727.5 291.0L729.0 291.5L730.5 292.0L732.0 292.4L733.5 292.7L735.0 293.0L736.5 293.2L738.0 293.4L739.5 293.5L741.0 293.4L742.5 292.9L744.0 291.9L745.5 290.6L747.0 289.1L748.5 287.3L750.0 285.5L751.5 283.6L753.0 281.5L754.5 278.6L756.0 275.1L757.5 271.0L759.0 266.7L759.6 265.0" stroke="#F89540"/>
<path d="M759.3 178.8H771.4" stroke="#F89540"/>
<path d="M182.1 121.9H194.6" stroke="#FBA139" stroke-dasharray="6.8 6.8"/>
<path d="M194.3 243.2L195.3 245.5L196.3 247.5L197.3 249.3L198.3 250.9L199.3 252.4L200.3 253.5L201.3 254.0L202.3 254.0L203.3 253.8L204.3 253.5L205.3 253.0L206.3 252.5L207.3 251.8L208.3 251.1L209.3 250.4L210.3 249.5L211.3 248.6L212.3 247.7L213.3 246.7L214.3 245.7L215.3 244.7L216.3 243.7L217.3 242.7L218.3 241.6L219.3 240.6L220.3 239.5L221.3 238.4L222.3 237.4L223.3 236.3L224.3 235.2L225.3 234.1L226.3 233.1L227.3 232.1L228.3 231.0L229.3 230.0L230.3 228.9L231.3 227.9L232.3 226.8L233.3 225.8L234.3 224.7L235.3 223.7L236.3 222.7L237.3 221.8L238.3 220.9L239.3 220.0L240.3 219.1L241.3 218.2L242.3 217.3L243.3 216.5L244.3 215.7L245.3 214.9L246.3 214.1L247.3 213.4L248.3 212.6L249.3 211.9L250.3 211.3L251.3 210.7L252.3 210.0L253.3 209.4L254.3 208.8L255.3 208.2L256.3 207.6L257.3 207.0L258.3 206.4L259.3 205.9L260.3 205.4L261.3 205.0L262.0 204.8L265.0 203.9L268.0 203.2L271.0 202.5L274.0 202.1L277.0 201.9L280.0 201.9L283.0 202.0L286.0 202.0L289.0 202.1L292.0 202.2L295.0 202.3L298.0 202.3L301.0 202.4L304.0 202.4L307.0 202.5L310.0 202.5L313.0 202.5L316.0 202.6L319.0 202.6L322.0 202.7L325.0 202.7L328.0 202.8L331.0 202.8L334.0 202.8L337.0 202.9L340.0 202.9L343.0 203.0L346.0 203.0L349.0 203.1L352.0 203.1L355.0 203.2L358.0 203.2L361.0 203.3L364.0 203.4L367.0 203.5L370.0 203.6L373.0 203.7L376.0 203.8L379.0 203.9L382.0 204.0L385.0 204.1L388.0 204.2L391.0 204.4L394.0 204.5L397.0 204.6L400.0 204.8L403.0 204.9L406.0 205.1L409.0 205.3L412.0 205.5L415.0 205.7L418.0 206.0L421.0 206.3L424.0 206.5L427.0 206.8L430.0 207.1L433.0 207.4L436.0 207.7L439.0 208.0L442.0 208.3L445.0 208.6L448.0 208.9L451.0 209.2L454.0 209.5L457.0 209.8L460.0 210.1L463.0 210.4L466.0 210.8L469.0 211.1L472.0 211.4L475.0 211.7L478.0 212.1L481.0 212.4L484.0 212.7L487.0 213.0L490.0 213.4L493.0 213.7L496.0 214.0L499.0 214.3L502.0 214.6L505.0 214.9L508.0 215.2L511.0 215.5L514.0 215.8L517.0 216.0L520.0 216.3L523.0 216.6L526.0 216.9L529.0 217.1L532.0 217.4L535.0 217.7L538.0 218.0L541.0 218.2L544.0 218.5L547.0 218.8L550.0 219.1L553.0 219.4L556.0 219.6L559.0 219.9L562.0 220.2L565.0 220.5L568.0 220.8L571.0 221.1L574.0 221.5L577.0 221.8L580.0 222.3L583.0 222.7L586.0 223.3L589.0 224.1L592.0 225.1L595.0 226.3L598.0 227.8L600.0 228.9L601.5 229.7L603.0 230.5L604.5 231.3L606.0 232.1L607.5 232.8L609.0 233.5L610.5 234.2L612.0 234.8L613.5 235.5L615.0 236.1L616.5 236.8L618.0 237.4L619.5 238.1L621.0 238.7L622.5 239.4L624.0 240.0L625.5 240.7L627.0 241.3L628.5 241.9L630.0 242.6L631.5 243.2L633.0 243.9L634.5 244.5L636.0 245.2L637.5 245.9L639.0 246.6L640.5 247.3L642.0 248.0L643.5 248.6L645.0 249.3L646.5 250.0L648.0 250.6L649.5 251.2L651.0 251.8L652.5 252.3L654.0 252.9L655.5 253.4L657.0 253.9L658.5 254.5L660.0 255.0L661.5 255.5L663.0 256.0L664.5 256.6L666.0 257.1L667.5 257.6L669.0 258.0L670.5 258.5L672.0 259.0L673.5 259.5L675.0 260.0L676.5 260.4L678.0 260.9L679.5 261.4L681.0 261.9L682.5 262.4L684.0 262.9L685.5 263.4L687.0 263.9L688.5 264.4L690.0 265.0L691.5 265.5L693.0 266.1L694.5 266.7L696.0 267.3L697.5 268.0L699.0 268.6L700.5 269.4L702.0 270.1L703.5 270.9L705.0 271.7L706.5 272.5L708.0 273.4L709.5 274.2L711.0 275.0L712.5 275.9L714.0 276.8L715.5 277.6L717.0 278.4L718.5 279.3L720.0 280.0L721.5 280.8L723.0 281.5L724.5 282.2L726.0 282.8L727.5 283.4L729.0 283.9L730.5 284.3L732.0 284.7L733.5 285.1L735.0 285.3L736.5 285.6L738.0 285.7L739.5 285.8L741.0 285.5L742.5 284.8L744.0 283.7L745.5 282.4L747.0 280.8L748.5 279.0L750.0 277.2L751.5 275.3L753.0 272.9L754.5 269.8L756.0 266.1L757.5 262.1L759.0 257.9L759.6 256.1" stroke="#FBA139" stroke-dasharray="6.8 6.8"/>
<path d="M759.3 180.0H771.4" stroke="#FBA139" stroke-dasharray="6.8 6.8"/>
<path d="M182.1 123.0H194.6" stroke="#FDAC33" stroke-dasharray="1.7 5.1 6.8 5.1"/>
<path d="M194.3 239.0L195.3 240.4L196.3 241.6L197.3 242.8L198.3 243.9L199.3 244.9L200.3 245.7L201.3 246.1L202.3 246.1L203.3 246.1L204.3 245.8L205.3 245.5L206.3 245.1L207.3 244.6L208.3 244.1L209.3 243.4L210.3 242.7L211.3 241.9L212.3 241.1L213.3 240.2L214.3 239.3L215.3 238.4L216.3 237.4L217.3 236.5L218.3 235.5L219.3 234.6L220.3 233.6L221.3 232.6L222.3 231.6L223.3 230.6L224.3 229.6L225.3 228.6L226.3 227.6L227.3 226.6L228.3 225.6L229.3 224.6L230.3 223.6L231.3 222.5L232.3 221.5L233.3 220.5L234.3 219.5L235.3 218.5L236.3 217.5L237.3 216.6L238.3 215.7L239.3 214.8L240.3 214.0L241.3 213.2L242.3 212.3L243.3 211.5L244.3 210.8L245.3 210.0L246.3 209.3L247.3 208.6L248.3 207.9L249.3 207.2L250.3 206.6L251.3 206.1L252.3 205.5L253.3 204.9L254.3 204.4L255.3 203.8L256.3 203.3L257.3 202.8L258.3 202.3L259.3 201.8L260.3 201.4L261.3 201.1L262.0 200.9L265.0 200.3L268.0 199.9L271.0 199.5L274.0 199.2L277.0 199.0L280.0 199.0L283.0 199.1L286.0 199.3L289.0 199.5L292.0 199.6L295.0 199.8L298.0 199.9L301.0 200.0L304.0 200.1L307.0 200.2L310.0 200.3L313.0 200.4L316.0 200.5L319.0 200.6L322.0 200.7L325.0 200.8L328.0 200.9L331.0 200.9L334.0 201.0L337.0 201.1L340.0 201.2L343.0 201.3L346.0 201.4L349.0 201.5L352.0 201.6L355.0 201.6L358.0 201.7L361.0 201.8L364.0 201.9L367.0 202.0L370.0 202.0L373.0 202.1L376.0 202.2L379.0 202.3L382.0 202.4L385.0 202.5L388.0 202.5L391.0 202.6L394.0 202.8L397.0 202.9L400.0 203.0L403.0 203.1L406.0 203.3L409.0 203.5L412.0 203.7L415.0 204.0L418.0 204.3L421.0 204.5L424.0 204.8L427.0 205.1L430.0 205.4L433.0 205.8L436.0 206.1L439.0 206.4L442.0 206.7L445.0 207.0L448.0 207.3L451.0 207.6L454.0 207.9L457.0 208.2L460.0 208.5L463.0 208.8L466.0 209.1L469.0 209.4L472.0 209.7L475.0 210.0L478.0 210.3L481.0 210.6L484.0 210.9L487.0 211.2L490.0 211.5L493.0 211.8L496.0 212.1L499.0 212.4L502.0 212.7L505.0 213.0L508.0 213.2L511.0 213.5L514.0 213.7L517.0 214.0L520.0 214.3L523.0 214.5L526.0 214.8L529.0 215.0L532.0 215.3L535.0 215.5L538.0 215.8L541.0 216.0L544.0 216.2L547.0 216.5L550.0 216.7L553.0 217.0L556.0 217.2L559.0 217.4L562.0 217.6L565.0 217.8L568.0 217.9L571.0 218.0L574.0 218.1L577.0 218.2L580.0 218.3L583.0 218.4L586.0 218.6L589.0 218.9L592.0 219.3L595.0 220.1L598.0 221.2L600.0 222.1L601.5 222.7L603.0 223.4L604.5 224.1L606.0 224.7L607.5 225.4L609.0 226.0L610.5 226.6L612.0 227.2L613.5 227.8L615.0 228.4L616.5 229.0L618.0 229.7L619.5 230.3L621.0 230.9L622.5 231.5L624.0 232.2L625.5 232.8L627.0 233.4L628.5 234.0L630.0 234.6L631.5 235.2L633.0 235.7L634.5 236.3L636.0 236.8L637.5 237.4L639.0 237.9L640.5 238.4L642.0 238.9L643.5 239.5L645.0 240.0L646.5 240.5L648.0 241.0L649.5 241.5L651.0 242.0L652.5 242.5L654.0 243.0L655.5 243.5L657.0 244.0L658.5 244.5L660.0 245.0L661.5 245.5L663.0 246.0L664.5 246.5L666.0 247.1L667.5 247.6L669.0 248.1L670.5 248.6L672.0 249.1L673.5 249.6L675.0 250.1L676.5 250.6L678.0 251.1L679.5 251.6L681.0 252.1L682.5 252.7L684.0 253.2L685.5 253.7L687.0 254.2L688.5 254.7L690.0 255.2L691.5 255.7L693.0 256.3L694.5 256.8L696.0 257.3L697.5 257.8L699.0 258.4L700.5 258.9L702.0 259.4L703.5 260.0L705.0 260.5L706.5 261.1L708.0 261.6L709.5 262.2L711.0 262.8L712.5 263.4L714.0 264.0L715.5 264.6L717.0 265.3L718.5 265.9L720.0 266.5L721.5 267.2L723.0 267.7L724.5 268.3L726.0 268.9L727.5 269.4L729.0 269.8L730.5 270.2L732.0 270.6L733.5 271.0L735.0 271.2L736.5 271.5L738.0 271.7L739.5 271.7L741.0 271.2L742.5 270.4L744.0 269.2L745.5 267.8L747.0 266.3L748.5 264.6L750.0 263.0L751.5 261.0L753.0 258.5L754.5 255.4L756.0 252.0L757.5 248.3L759.0 244.5L759.6 243.0" stroke="#FDAC33" stroke-dasharray="1.7 5.1 6.8 5.1"/>
<path d="M759.3 181.0H771.4" stroke="#FDAC33" stroke-dasharray="1.7 5.1 6.8 5.1"/>
<path d="M182.1 125.6H194.6" stroke="#FEB82C" stroke-dasharray="11.8 5.1"/>
<path d="M194.3 234.9L195.3 235.8L196.3 236.6L197.3 237.4L198.3 238.1L199.3 238.8L200.3 239.2L201.3 239.4L202.3 239.4L203.3 239.3L204.3 239.1L205.3 238.8L206.3 238.4L207.3 238.0L208.3 237.5L209.3 236.9L210.3 236.3L211.3 235.6L212.3 234.9L213.3 234.1L214.3 233.3L215.3 232.4L216.3 231.6L217.3 230.7L218.3 229.8L219.3 228.9L220.3 228.0L221.3 227.1L222.3 226.2L223.3 225.2L224.3 224.3L225.3 223.4L226.3 222.6L227.3 221.7L228.3 220.8L229.3 219.8L230.3 218.9L231.3 218.0L232.3 217.1L233.3 216.2L234.3 215.3L235.3 214.4L236.3 213.5L237.3 212.7L238.3 211.8L239.3 211.1L240.3 210.3L241.3 209.5L242.3 208.8L243.3 208.0L244.3 207.3L245.3 206.5L246.3 205.8L247.3 205.1L248.3 204.5L249.3 203.8L250.3 203.2L251.3 202.6L252.3 202.1L253.3 201.6L254.3 201.1L255.3 200.7L256.3 200.3L257.3 200.0L258.3 199.6L259.3 199.3L260.3 199.1L261.3 198.8L262.0 198.7L265.0 198.2L268.0 197.8L271.0 197.4L274.0 197.2L277.0 197.0L280.0 197.1L283.0 197.2L286.0 197.4L289.0 197.6L292.0 197.7L295.0 197.9L298.0 198.1L301.0 198.2L304.0 198.3L307.0 198.4L310.0 198.6L313.0 198.7L316.0 198.8L319.0 198.9L322.0 199.0L325.0 199.1L328.0 199.2L331.0 199.3L334.0 199.4L337.0 199.5L340.0 199.6L343.0 199.8L346.0 199.9L349.0 200.0L352.0 200.1L355.0 200.2L358.0 200.3L361.0 200.3L364.0 200.4L367.0 200.5L370.0 200.6L373.0 200.6L376.0 200.7L379.0 200.8L382.0 200.9L385.0 200.9L388.0 201.0L391.0 201.1L394.0 201.2L397.0 201.4L400.0 201.5L403.0 201.6L406.0 201.8L409.0 202.0L412.0 202.2L415.0 202.4L418.0 202.7L421.0 202.9L424.0 203.2L427.0 203.5L430.0 203.8L433.0 204.1L436.0 204.4L439.0 204.7L442.0 204.9L445.0 205.2L448.0 205.5L451.0 205.8L454.0 206.1L457.0 206.4L460.0 206.6L463.0 206.9L466.0 207.2L469.0 207.5L472.0 207.8L475.0 208.1L478.0 208.4L481.0 208.7L484.0 209.0L487.0 209.3L490.0 209.6L493.0 209.8L496.0 210.1L499.0 210.4L502.0 210.6L505.0 210.9L508.0 211.1L511.0 211.4L514.0 211.6L517.0 211.9L520.0 212.1L523.0 212.3L526.0 212.6L529.0 212.8L532.0 213.0L535.0 213.2L538.0 213.4L541.0 213.7L544.0 213.9L547.0 214.1L550.0 214.3L553.0 214.5L556.0 214.7L559.0 214.9L562.0 215.0L565.0 215.1L568.0 215.2L571.0 215.2L574.0 215.2L577.0 215.2L580.0 215.2L583.0 215.2L586.0 215.2L589.0 215.3L592.0 215.5L595.0 215.9L598.0 216.4L600.0 216.9L601.5 217.3L603.0 217.8L604.5 218.3L606.0 218.9L607.5 219.5L609.0 220.1L610.5 220.7L612.0 221.3L613.5 221.8L615.0 222.4L616.5 223.0L618.0 223.7L619.5 224.4L621.0 225.1L622.5 225.8L624.0 226.6L625.5 227.3L627.0 228.0L628.5 228.7L630.0 229.3L631.5 229.8L633.0 230.3L634.5 230.7L636.0 231.1L637.5 231.5L639.0 231.8L640.5 232.2L642.0 232.5L643.5 232.8L645.0 233.1L646.5 233.5L648.0 233.8L649.5 234.1L651.0 234.4L652.5 234.7L654.0 235.0L655.5 235.3L657.0 235.6L658.5 235.9L660.0 236.2L661.5 236.5L663.0 236.9L664.5 237.2L666.0 237.5L667.5 237.8L669.0 238.1L670.5 238.4L672.0 238.7L673.5 239.0L675.0 239.3L676.5 239.6L678.0 239.9L679.5 240.2L681.0 240.5L682.5 240.8L684.0 241.1L685.5 241.4L687.0 241.8L688.5 242.1L690.0 242.4L691.5 242.7L693.0 243.1L694.5 243.4L696.0 243.8L697.5 244.2L699.0 244.6L700.5 245.0L702.0 245.4L703.5 245.8L705.0 246.3L706.5 246.7L708.0 247.2L709.5 247.6L711.0 248.1L712.5 248.6L714.0 249.1L715.5 249.6L717.0 250.1L718.5 250.6L720.0 251.1L721.5 251.6L723.0 252.1L724.5 252.5L726.0 253.0L727.5 253.4L729.0 253.8L730.5 254.2L732.0 254.6L733.5 254.9L735.0 255.2L736.5 255.5L738.0 255.7L739.5 255.8L741.0 255.6L742.5 255.2L744.0 254.4L745.5 253.4L747.0 252.2L748.5 251.0L750.0 249.7L751.5 248.2L753.0 246.4L754.5 244.2L756.0 241.8L757.5 239.2L759.0 236.6L759.6 235.5" stroke="#FEB82C" stroke-dasharray="11.8 5.1"/>
<path d="M759.3 185.0H771.4" stroke="#FEB82C" stroke-dasharray="11.8 5.1"/>
<path d="M182.1 127.0H194.6" stroke="#FDC527"/>
<path d="M194.3 229.8L195.3 230.3L196.3 230.8L197.3 231.3L198.3 231.7L199.3 231.9L200.3 232.0L201.3 232.0L202.3 231.8L203.3 231.6L204.3 231.4L205.3 231.1L206.3 230.7L207.3 230.3L208.3 229.8L209.3 229.4L210.3 228.8L211.3 228.3L212.3 227.7L213.3 227.0L214.3 226.3L215.3 225.6L216.3 224.8L217.3 224.1L218.3 223.3L219.3 222.5L220.3 221.7L221.3 220.9L222.3 220.1L223.3 219.3L224.3 218.5L225.3 217.8L226.3 217.0L227.3 216.3L228.3 215.5L229.3 214.8L230.3 214.0L231.3 213.2L232.3 212.5L233.3 211.7L234.3 211.0L235.3 210.2L236.3 209.5L237.3 208.8L238.3 208.1L239.3 207.5L240.3 206.8L241.3 206.2L242.3 205.5L243.3 204.8L244.3 204.2L245.3 203.5L246.3 202.8L247.3 202.2L248.3 201.6L249.3 201.0L250.3 200.4L251.3 199.9L252.3 199.4L253.3 199.0L254.3 198.6L255.3 198.3L256.3 198.1L257.3 197.9L258.3 197.7L259.3 197.5L260.3 197.3L261.3 197.2L262.0 197.0L265.0 196.6L268.0 196.1L271.0 195.8L274.0 195.6L277.0 195.5L280.0 195.5L283.0 195.6L286.0 195.8L289.0 195.9L292.0 196.1L295.0 196.3L298.0 196.4L301.0 196.5L304.0 196.7L307.0 196.8L310.0 196.9L313.0 197.0L316.0 197.2L319.0 197.3L322.0 197.4L325.0 197.5L328.0 197.7L331.0 197.8L334.0 197.9L337.0 198.0L340.0 198.1L343.0 198.2L346.0 198.4L349.0 198.5L352.0 198.6L355.0 198.7L358.0 198.8L361.0 198.8L364.0 198.9L367.0 199.0L370.0 199.1L373.0 199.2L376.0 199.2L379.0 199.3L382.0 199.4L385.0 199.5L388.0 199.6L391.0 199.7L394.0 199.8L397.0 199.9L400.0 200.0L403.0 200.1L406.0 200.3L409.0 200.5L412.0 200.7L415.0 200.9L418.0 201.1L421.0 201.4L424.0 201.6L427.0 201.9L430.0 202.2L433.0 202.4L436.0 202.7L439.0 203.0L442.0 203.3L445.0 203.5L448.0 203.8L451.0 204.1L454.0 204.4L457.0 204.7L460.0 205.0L463.0 205.3L466.0 205.6L469.0 205.9L472.0 206.2L475.0 206.5L478.0 206.9L481.0 207.2L484.0 207.5L487.0 207.8L490.0 208.1L493.0 208.4L496.0 208.7L499.0 208.9L502.0 209.2L505.0 209.4L508.0 209.6L511.0 209.9L514.0 210.1L517.0 210.3L520.0 210.5L523.0 210.7L526.0 210.9L529.0 211.1L532.0 211.3L535.0 211.5L538.0 211.7L541.0 211.9L544.0 212.1L547.0 212.3L550.0 212.4L553.0 212.6L556.0 212.8L559.0 212.9L562.0 213.1L565.0 213.2L568.0 213.3L571.0 213.3L574.0 213.3L577.0 213.3L580.0 213.3L583.0 213.3L586.0 213.4L589.0 213.4L592.0 213.5L595.0 213.6L598.0 213.8L600.0 214.1L601.5 214.3L603.0 214.7L604.5 215.1L606.0 215.5L607.5 216.0L609.0 216.5L610.5 217.0L612.0 217.5L613.5 218.0L615.0 218.5L616.5 219.0L618.0 219.6L619.5 220.3L621.0 220.9L622.5 221.7L624.0 222.4L625.5 223.1L627.0 223.8L628.5 224.4L630.0 225.0L631.5 225.5L633.0 225.9L634.5 226.1L636.0 226.4L637.5 226.6L639.0 226.9L640.5 227.1L642.0 227.3L643.5 227.5L645.0 227.6L646.5 227.8L648.0 227.9L649.5 228.1L651.0 228.2L652.5 228.4L654.0 228.5L655.5 228.6L657.0 228.8L658.5 228.9L660.0 229.0L661.5 229.1L663.0 229.2L664.5 229.3L666.0 229.4L667.5 229.5L669.0 229.5L670.5 229.6L672.0 229.7L673.5 229.7L675.0 229.8L676.5 229.9L678.0 229.9L679.5 230.0L681.0 230.1L682.5 230.1L684.0 230.2L685.5 230.3L687.0 230.4L688.5 230.5L690.0 230.7L691.5 230.8L693.0 231.0L694.5 231.1L696.0 231.3L697.5 231.6L699.0 231.8L700.5 232.1L702.0 232.4L703.5 232.8L705.0 233.1L706.5 233.5L708.0 233.9L709.5 234.2L711.0 234.6L712.5 235.0L714.0 235.4L715.5 235.8L717.0 236.2L718.5 236.6L720.0 237.0L721.5 237.3L723.0 237.6L724.5 238.0L726.0 238.3L727.5 238.6L729.0 239.0L730.5 239.3L732.0 239.6L733.5 239.9L735.0 240.2L736.5 240.4L738.0 240.7L739.5 240.8L741.0 241.0L742.5 241.0L744.0 240.6L745.5 240.0L747.0 239.2L748.5 238.3L750.0 237.3L751.5 236.3L753.0 235.3L754.5 234.1L756.0 232.7L757.5 231.2L759.0 229.6L759.6 228.9" stroke="#FDC527"/>
<path d="M759.3 188.0H771.4" stroke="#FDC527"/>
<path d="M182.1 129.8H194.6" stroke="#FCD225" stroke-dasharray="6.8 6.8"/>
<path d="M194.3 222.4L195.3 222.4L196.3 222.4L197.3 222.4L198.3 222.4L199.3 222.3L200.3 222.1L201.3 221.8L202.3 221.6L203.3 221.3L204.3 221.0L205.3 220.7L206.3 220.4L207.3 220.0L208.3 219.6L209.3 219.2L210.3 218.8L211.3 218.4L212.3 218.0L213.3 217.5L214.3 217.0L215.3 216.5L216.3 216.0L217.3 215.5L218.3 214.9L219.3 214.4L220.3 213.8L221.3 213.3L222.3 212.8L223.3 212.2L224.3 211.7L225.3 211.2L226.3 210.7L227.3 210.2L228.3 209.6L229.3 209.1L230.3 208.6L231.3 208.0L232.3 207.5L233.3 207.0L234.3 206.4L235.3 205.9L236.3 205.4L237.3 204.9L238.3 204.4L239.3 203.9L240.3 203.4L241.3 202.9L242.3 202.5L243.3 202.0L244.3 201.5L245.3 201.0L246.3 200.6L247.3 200.1L248.3 199.7L249.3 199.2L250.3 198.8L251.3 198.5L252.3 198.1L253.3 197.8L254.3 197.5L255.3 197.3L256.3 197.0L257.3 196.9L258.3 196.7L259.3 196.5L260.3 196.4L261.3 196.2L262.0 196.1L265.0 195.6L268.0 195.1L271.0 194.8L274.0 194.5L277.0 194.4L280.0 194.4L283.0 194.4L286.0 194.5L289.0 194.7L292.0 194.8L295.0 194.9L298.0 195.0L301.0 195.1L304.0 195.3L307.0 195.4L310.0 195.5L313.0 195.6L316.0 195.7L319.0 195.9L322.0 196.0L325.0 196.1L328.0 196.2L331.0 196.4L334.0 196.5L337.0 196.6L340.0 196.8L343.0 196.9L346.0 197.0L349.0 197.1L352.0 197.3L355.0 197.4L358.0 197.5L361.0 197.5L364.0 197.6L367.0 197.7L370.0 197.8L373.0 197.8L376.0 197.9L379.0 198.0L382.0 198.1L385.0 198.1L388.0 198.2L391.0 198.3L394.0 198.4L397.0 198.5L400.0 198.7L403.0 198.8L406.0 199.0L409.0 199.2L412.0 199.4L415.0 199.6L418.0 199.8L421.0 200.1L424.0 200.4L427.0 200.6L430.0 200.9L433.0 201.2L436.0 201.5L439.0 201.8L442.0 202.1L445.0 202.4L448.0 202.7L451.0 203.0L454.0 203.3L457.0 203.7L460.0 204.0L463.0 204.3L466.0 204.7L469.0 205.0L472.0 205.4L475.0 205.8L478.0 206.2L481.0 206.6L484.0 206.9L487.0 207.3L490.0 207.7L493.0 208.0L496.0 208.3L499.0 208.6L502.0 208.8L505.0 209.0L508.0 209.2L511.0 209.5L514.0 209.7L517.0 209.9L520.0 210.0L523.0 210.2L526.0 210.4L529.0 210.6L532.0 210.8L535.0 211.0L538.0 211.2L541.0 211.3L544.0 211.5L547.0 211.7L550.0 211.8L553.0 212.0L556.0 212.2L559.0 212.4L562.0 212.5L565.0 212.7L568.0 212.8L571.0 212.9L574.0 213.0L577.0 213.1L580.0 213.2L583.0 213.3L586.0 213.4L589.0 213.5L592.0 213.7L595.0 213.8L598.0 214.1L600.0 214.3L601.5 214.5L603.0 214.7L604.5 215.0L606.0 215.4L607.5 215.7L609.0 216.1L610.5 216.4L612.0 216.8L613.5 217.2L615.0 217.6L616.5 218.0L618.0 218.4L619.5 218.8L621.0 219.3L622.5 219.8L624.0 220.3L625.5 220.7L627.0 221.2L628.5 221.6L630.0 222.0L631.5 222.4L633.0 222.6L634.5 222.8L636.0 223.0L637.5 223.2L639.0 223.4L640.5 223.6L642.0 223.7L643.5 223.9L645.0 224.1L646.5 224.2L648.0 224.4L649.5 224.5L651.0 224.6L652.5 224.8L654.0 224.9L655.5 225.0L657.0 225.1L658.5 225.2L660.0 225.2L661.5 225.3L663.0 225.3L664.5 225.3L666.0 225.3L667.5 225.2L669.0 225.2L670.5 225.1L672.0 225.1L673.5 225.1L675.0 225.0L676.5 225.0L678.0 225.0L679.5 225.1L681.0 225.1L682.5 225.2L684.0 225.2L685.5 225.3L687.0 225.4L688.5 225.4L690.0 225.5L691.5 225.6L693.0 225.7L694.5 225.9L696.0 226.0L697.5 226.1L699.0 226.3L700.5 226.5L702.0 226.7L703.5 226.9L705.0 227.1L706.5 227.3L708.0 227.5L709.5 227.7L711.0 227.9L712.5 228.2L714.0 228.4L715.5 228.7L717.0 228.9L718.5 229.2L720.0 229.5L721.5 229.7L723.0 230.0L724.5 230.3L726.0 230.5L727.5 230.8L729.0 231.1L730.5 231.4L732.0 231.6L733.5 231.9L735.0 232.1L736.5 232.3L738.0 232.5L739.5 232.7L741.0 232.8L742.5 232.8L744.0 232.6L745.5 232.0L747.0 231.3L748.5 230.5L750.0 229.6L751.5 228.7L753.0 227.9L754.5 227.0L756.0 225.9L757.5 224.8L759.0 223.6L759.6 223.1" stroke="#FCD225" stroke-dasharray="6.8 6.8"/>
<path d="M759.3 186.6H771.4" stroke="#FCD225" stroke-dasharray="6.8 6.8"/>
<path d="M182.1 133.4H194.6" stroke="#F8DF25" stroke-dasharray="1.7 5.1 6.8 5.1"/>
<path d="M194.3 214.3L195.3 214.0L196.3 213.7L197.3 213.4L198.3 213.1L199.3 212.7L200.3 212.4L201.3 212.1L202.3 211.8L203.3 211.5L204.3 211.2L205.3 210.9L206.3 210.6L207.3 210.3L208.3 210.0L209.3 209.7L210.3 209.4L211.3 209.1L212.3 208.8L213.3 208.5L214.3 208.2L215.3 207.9L216.3 207.6L217.3 207.3L218.3 207.0L219.3 206.7L220.3 206.4L221.3 206.1L222.3 205.8L223.3 205.5L224.3 205.2L225.3 204.9L226.3 204.6L227.3 204.3L228.3 204.0L229.3 203.7L230.3 203.4L231.3 203.1L232.3 202.7L233.3 202.4L234.3 202.1L235.3 201.8L236.3 201.5L237.3 201.1L238.3 200.8L239.3 200.5L240.3 200.2L241.3 199.9L242.3 199.6L243.3 199.3L244.3 199.0L245.3 198.7L246.3 198.4L247.3 198.1L248.3 197.9L249.3 197.6L250.3 197.3L251.3 197.1L252.3 196.9L253.3 196.7L254.3 196.4L255.3 196.3L256.3 196.1L257.3 195.9L258.3 195.7L259.3 195.6L260.3 195.4L261.3 195.2L262.0 195.1L265.0 194.7L268.0 194.3L271.0 193.9L274.0 193.7L277.0 193.5L280.0 193.5L283.0 193.5L286.0 193.6L289.0 193.7L292.0 193.7L295.0 193.8L298.0 193.9L301.0 194.0L304.0 194.2L307.0 194.3L310.0 194.4L313.0 194.5L316.0 194.6L319.0 194.8L322.0 194.9L325.0 195.0L328.0 195.1L331.0 195.2L334.0 195.4L337.0 195.5L340.0 195.6L343.0 195.7L346.0 195.8L349.0 196.0L352.0 196.1L355.0 196.2L358.0 196.3L361.0 196.4L364.0 196.4L367.0 196.5L370.0 196.6L373.0 196.7L376.0 196.7L379.0 196.8L382.0 196.9L385.0 197.0L388.0 197.1L391.0 197.2L394.0 197.3L397.0 197.4L400.0 197.5L403.0 197.6L406.0 197.8L409.0 198.0L412.0 198.2L415.0 198.5L418.0 198.7L421.0 199.0L424.0 199.3L427.0 199.6L430.0 199.9L433.0 200.2L436.0 200.5L439.0 200.8L442.0 201.1L445.0 201.5L448.0 201.8L451.0 202.1L454.0 202.5L457.0 202.8L460.0 203.2L463.0 203.7L466.0 204.1L469.0 204.5L472.0 205.0L475.0 205.4L478.0 205.9L481.0 206.3L484.0 206.7L487.0 207.1L490.0 207.5L493.0 207.8L496.0 208.1L499.0 208.4L502.0 208.7L505.0 208.9L508.0 209.1L511.0 209.3L514.0 209.5L517.0 209.7L520.0 209.9L523.0 210.0L526.0 210.2L529.0 210.3L532.0 210.5L535.0 210.7L538.0 210.8L541.0 211.0L544.0 211.1L547.0 211.3L550.0 211.4L553.0 211.6L556.0 211.8L559.0 211.9L562.0 212.1L565.0 212.3L568.0 212.5L571.0 212.6L574.0 212.8L577.0 212.9L580.0 213.1L583.0 213.3L586.0 213.5L589.0 213.7L592.0 213.9L595.0 214.1L598.0 214.3L600.0 214.5L601.5 214.6L603.0 214.8L604.5 215.0L606.0 215.2L607.5 215.4L609.0 215.7L610.5 215.9L612.0 216.2L613.5 216.5L615.0 216.8L616.5 217.1L618.0 217.4L619.5 217.7L621.0 217.9L622.5 218.2L624.0 218.5L625.5 218.8L627.0 219.0L628.5 219.3L630.0 219.5L631.5 219.7L633.0 219.9L634.5 220.1L636.0 220.3L637.5 220.4L639.0 220.6L640.5 220.8L642.0 220.9L643.5 221.1L645.0 221.3L646.5 221.4L648.0 221.5L649.5 221.6L651.0 221.8L652.5 221.8L654.0 221.9L655.5 222.0L657.0 222.0L658.5 222.0L660.0 222.0L661.5 222.0L663.0 221.9L664.5 221.8L666.0 221.6L667.5 221.5L669.0 221.3L670.5 221.1L672.0 221.0L673.5 220.8L675.0 220.7L676.5 220.6L678.0 220.5L679.5 220.5L681.0 220.5L682.5 220.5L684.0 220.5L685.5 220.5L687.0 220.6L688.5 220.6L690.0 220.6L691.5 220.7L693.0 220.8L694.5 220.8L696.0 220.9L697.5 221.0L699.0 221.0L700.5 221.1L702.0 221.2L703.5 221.2L705.0 221.3L706.5 221.4L708.0 221.5L709.5 221.5L711.0 221.6L712.5 221.7L714.0 221.8L715.5 221.9L717.0 222.1L718.5 222.2L720.0 222.3L721.5 222.5L723.0 222.6L724.5 222.8L726.0 222.9L727.5 223.1L729.0 223.2L730.5 223.4L732.0 223.5L733.5 223.6L735.0 223.7L736.5 223.8L738.0 223.9L739.5 224.0L741.0 224.0L742.5 223.9L744.0 223.6L745.5 223.1L747.0 222.5L748.5 221.7L750.0 221.0L751.5 220.2L753.0 219.5L754.5 218.8L756.0 218.0L757.5 217.2L759.0 216.3L759.6 216.0" stroke="#F8DF25" stroke-dasharray="1.7 5.1 6.8 5.1"/>
<path d="M759.3 185.0H771.4" stroke="#F8DF25" stroke-dasharray="1.7 5.1 6.8 5.1"/>
<path d="M182.1 136.9H194.6" stroke="#F4ED27" stroke-dasharray="11.8 5.1"/>
<path d="M194.3 207.7L195.3 207.4L196.3 207.2L197.3 206.9L198.3 206.7L199.3 206.4L200.3 206.1L201.3 205.9L202.3 205.6L203.3 205.4L204.3 205.1L205.3 204.9L206.3 204.6L207.3 204.4L208.3 204.1L209.3 203.9L210.3 203.6L211.3 203.4L212.3 203.2L213.3 202.9L214.3 202.7L215.3 202.5L216.3 202.2L217.3 202.0L218.3 201.8L219.3 201.6L220.3 201.3L221.3 201.1L222.3 200.9L223.3 200.7L224.3 200.5L225.3 200.3L226.3 200.0L227.3 199.8L228.3 199.6L229.3 199.4L230.3 199.2L231.3 199.0L232.3 198.8L233.3 198.6L234.3 198.4L235.3 198.2L236.3 198.0L237.3 197.8L238.3 197.5L239.3 197.3L240.3 197.1L241.3 196.9L242.3 196.7L243.3 196.5L244.3 196.3L245.3 196.1L246.3 195.9L247.3 195.7L248.3 195.5L249.3 195.3L250.3 195.1L251.3 195.0L252.3 194.8L253.3 194.6L254.3 194.5L255.3 194.3L256.3 194.2L257.3 194.1L258.3 194.0L259.3 193.9L260.3 193.8L261.3 193.7L262.0 193.6L265.0 193.5L268.0 193.3L271.0 193.2L274.0 193.1L277.0 193.0L280.0 192.9L283.0 192.9L286.0 192.9L289.0 193.0L292.0 193.1L295.0 193.2L298.0 193.3L301.0 193.4L304.0 193.5L307.0 193.6L310.0 193.7L313.0 193.9L316.0 194.0L319.0 194.1L322.0 194.2L325.0 194.3L328.0 194.4L331.0 194.5L334.0 194.6L337.0 194.7L340.0 194.8L343.0 194.8L346.0 194.9L349.0 195.0L352.0 195.1L355.0 195.1L358.0 195.2L361.0 195.3L364.0 195.4L367.0 195.5L370.0 195.6L373.0 195.7L376.0 195.7L379.0 195.8L382.0 195.9L385.0 196.0L388.0 196.1L391.0 196.3L394.0 196.4L397.0 196.5L400.0 196.6L403.0 196.8L406.0 196.9L409.0 197.1L412.0 197.3L415.0 197.5L418.0 197.8L421.0 198.0L424.0 198.3L427.0 198.6L430.0 198.9L433.0 199.2L436.0 199.5L439.0 199.8L442.0 200.1L445.0 200.4L448.0 200.8L451.0 201.1L454.0 201.5L457.0 202.0L460.0 202.5L463.0 203.1L466.0 203.7L469.0 204.4L472.0 205.0L475.0 205.6L478.0 206.2L481.0 206.8L484.0 207.3L487.0 207.8L490.0 208.1L493.0 208.4L496.0 208.6L499.0 208.8L502.0 209.0L505.0 209.2L508.0 209.3L511.0 209.5L514.0 209.6L517.0 209.7L520.0 209.9L523.0 210.0L526.0 210.1L529.0 210.2L532.0 210.3L535.0 210.5L538.0 210.6L541.0 210.7L544.0 210.8L547.0 211.0L550.0 211.1L553.0 211.2L556.0 211.4L559.0 211.5L562.0 211.6L565.0 211.7L568.0 211.8L571.0 212.0L574.0 212.1L577.0 212.2L580.0 212.3L583.0 212.5L586.0 212.6L589.0 212.7L592.0 212.9L595.0 213.1L598.0 213.2L600.0 213.4L601.5 213.5L603.0 213.6L604.5 213.7L606.0 213.8L607.5 214.0L609.0 214.2L610.5 214.4L612.0 214.6L613.5 214.8L615.0 215.0L616.5 215.2L618.0 215.5L619.5 215.7L621.0 215.9L622.5 216.1L624.0 216.3L625.5 216.6L627.0 216.8L628.5 216.9L630.0 217.1L631.5 217.3L633.0 217.5L634.5 217.7L636.0 217.9L637.5 218.1L639.0 218.3L640.5 218.4L642.0 218.6L643.5 218.7L645.0 218.8L646.5 218.9L648.0 219.0L649.5 219.0L651.0 219.0L652.5 218.9L654.0 218.8L655.5 218.6L657.0 218.4L658.5 218.2L660.0 217.9L661.5 217.7L663.0 217.3L664.5 217.0L666.0 216.7L667.5 216.3L669.0 215.9L670.5 215.5L672.0 215.1L673.5 214.8L675.0 214.4L676.5 214.0L678.0 213.7L679.5 213.3L681.0 213.0L682.5 212.7L684.0 212.4L685.5 212.2L687.0 212.0L688.5 211.8L690.0 211.7L691.5 211.6L693.0 211.5L694.5 211.4L696.0 211.4L697.5 211.4L699.0 211.3L700.5 211.3L702.0 211.3L703.5 211.3L705.0 211.4L706.5 211.4L708.0 211.4L709.5 211.4L711.0 211.4L712.5 211.3L714.0 211.3L715.5 211.3L717.0 211.2L718.5 211.1L720.0 210.9L721.5 210.8L723.0 210.6L724.5 210.4L726.0 210.1L727.5 209.7L729.0 209.3L730.5 208.8L732.0 208.3L733.5 207.8L735.0 207.2L736.5 206.7L738.0 206.1L739.5 205.6L741.0 205.1L742.5 204.6L744.0 204.2L745.5 203.9L747.0 203.5L748.5 203.2L750.0 202.9L751.5 202.7L753.0 202.4L754.5 202.2L756.0 202.0L757.5 201.8L759.0 201.6L759.6 201.6" stroke="#F4ED27" stroke-dasharray="11.8 5.1"/>
<path d="M759.3 183.6H771.4" stroke="#F4ED27" stroke-dasharray="11.8 5.1"/>
<path d="M182.1 139.7H194.6" stroke="#F0F921"/>
<path d="M194.3 204.5L195.3 204.2L196.3 204.0L197.3 203.7L198.3 203.4L199.3 203.1L200.3 202.9L201.3 202.6L202.3 202.3L203.3 202.1L204.3 201.8L205.3 201.6L206.3 201.3L207.3 201.0L208.3 200.8L209.3 200.5L210.3 200.3L211.3 200.0L212.3 199.8L213.3 199.6L214.3 199.3L215.3 199.1L216.3 198.9L217.3 198.6L218.3 198.4L219.3 198.2L220.3 198.0L221.3 197.8L222.3 197.6L223.3 197.4L224.3 197.2L225.3 197.0L226.3 196.8L227.3 196.6L228.3 196.4L229.3 196.2L230.3 196.1L231.3 195.9L232.3 195.7L233.3 195.5L234.3 195.4L235.3 195.2L236.3 195.0L237.3 194.8L238.3 194.7L239.3 194.5L240.3 194.3L241.3 194.1L242.3 194.0L243.3 193.8L244.3 193.6L245.3 193.5L246.3 193.3L247.3 193.2L248.3 193.0L249.3 192.9L250.3 192.7L251.3 192.6L252.3 192.5L253.3 192.3L254.3 192.2L255.3 192.1L256.3 192.0L257.3 191.9L258.3 191.8L259.3 191.7L260.3 191.7L261.3 191.6L262.0 191.6L265.0 191.5L268.0 191.4L271.0 191.3L274.0 191.3L277.0 191.3L280.0 191.3L283.0 191.3L286.0 191.4L289.0 191.5L292.0 191.6L295.0 191.7L298.0 191.9L301.0 192.0L304.0 192.2L307.0 192.4L310.0 192.6L313.0 192.7L316.0 192.9L319.0 193.1L322.0 193.2L325.0 193.3L328.0 193.4L331.0 193.5L334.0 193.6L337.0 193.6L340.0 193.7L343.0 193.7L346.0 193.7L349.0 193.8L352.0 193.8L355.0 193.9L358.0 194.0L361.0 194.1L364.0 194.1L367.0 194.2L370.0 194.3L373.0 194.4L376.0 194.5L379.0 194.6L382.0 194.7L385.0 194.8L388.0 194.9L391.0 195.0L394.0 195.2L397.0 195.3L400.0 195.4L403.0 195.6L406.0 195.7L409.0 195.9L412.0 196.2L415.0 196.4L418.0 196.7L421.0 196.9L424.0 197.2L427.0 197.5L430.0 197.9L433.0 198.2L436.0 198.5L439.0 198.9L442.0 199.2L445.0 199.6L448.0 200.0L451.0 200.3L454.0 200.8L457.0 201.3L460.0 201.9L463.0 202.5L466.0 203.2L469.0 203.9L472.0 204.6L475.0 205.3L478.0 205.9L481.0 206.5L484.0 207.1L487.0 207.6L490.0 208.0L493.0 208.3L496.0 208.5L499.0 208.7L502.0 208.9L505.0 209.1L508.0 209.3L511.0 209.4L514.0 209.6L517.0 209.7L520.0 209.8L523.0 209.9L526.0 210.1L529.0 210.2L532.0 210.3L535.0 210.4L538.0 210.5L541.0 210.7L544.0 210.8L547.0 211.0L550.0 211.1L553.0 211.2L556.0 211.4L559.0 211.5L562.0 211.7L565.0 211.8L568.0 211.9L571.0 212.1L574.0 212.2L577.0 212.3L580.0 212.5L583.0 212.6L586.0 212.8L589.0 212.9L592.0 213.1L595.0 213.3L598.0 213.5L600.0 213.7L601.5 213.8L603.0 213.9L604.5 214.0L606.0 214.2L607.5 214.4L609.0 214.6L610.5 214.8L612.0 215.0L613.5 215.3L615.0 215.5L616.5 215.8L618.0 216.0L619.5 216.3L621.0 216.6L622.5 216.8L624.0 217.1L625.5 217.3L627.0 217.5L628.5 217.7L630.0 217.9L631.5 218.1L633.0 218.4L634.5 218.6L636.0 218.8L637.5 219.0L639.0 219.2L640.5 219.4L642.0 219.6L643.5 219.8L645.0 219.9L646.5 220.1L648.0 220.2L649.5 220.3L651.0 220.4L652.5 220.5L654.0 220.5L655.5 220.5L657.0 220.4L658.5 220.3L660.0 220.1L661.5 219.9L663.0 219.6L664.5 219.3L666.0 219.0L667.5 218.6L669.0 218.3L670.5 217.9L672.0 217.5L673.5 217.1L675.0 216.7L676.5 216.3L678.0 215.9L679.5 215.5L681.0 215.2L682.5 214.9L684.0 214.6L685.5 214.4L687.0 214.2L688.5 214.1L690.0 214.0L691.5 213.9L693.0 213.9L694.5 213.8L696.0 213.9L697.5 213.9L699.0 213.9L700.5 214.0L702.0 214.1L703.5 214.2L705.0 214.3L706.5 214.3L708.0 214.4L709.5 214.5L711.0 214.6L712.5 214.6L714.0 214.6L715.5 214.7L717.0 214.6L718.5 214.6L720.0 214.5L721.5 214.4L723.0 214.3L724.5 214.1L726.0 213.9L727.5 213.6L729.0 213.3L730.5 212.9L732.0 212.5L733.5 212.1L735.0 211.7L736.5 211.2L738.0 210.7L739.5 210.3L741.0 209.8L742.5 209.3L744.0 208.8L745.5 208.4L747.0 207.9L748.5 207.5L750.0 207.0L751.5 206.5L753.0 206.0L754.5 205.6L756.0 205.0L757.5 204.5L759.0 204.0L759.6 203.8" stroke="#F0F921"/>
<path d="M759.3 183.2H771.4" stroke="#F0F921"/>
<path d="M182.1 467.3H194.6" stroke="#7201A8" stroke-dasharray="11.8 5.1"/>
<path d="M194.3 467.5L195.3 467.5L196.3 467.5L197.3 467.5L198.3 467.5L199.3 467.5L200.3 467.5L201.3 467.5L202.3 467.5L203.3 467.5L204.3 467.5L205.3 467.5L206.3 467.5L207.3 467.5L208.3 467.5L209.3 467.5L210.3 467.5L211.3 467.5L212.3 467.5L213.3 467.5L214.3 467.5L215.3 467.5L216.3 467.5L217.3 467.5L218.3 467.5L219.3 467.5L220.3 467.5L221.3 467.5L222.3 467.5L223.3 467.5L224.3 467.5L225.3 467.5L226.3 467.5L227.3 467.5L228.3 467.5L229.3 467.5L230.3 467.5L231.3 467.5L232.3 467.5L233.3 467.5L234.3 467.5L235.3 467.5L236.3 467.5L237.3 467.5L238.3 467.5L239.3 467.5L240.3 467.5L241.3 467.5L242.3 467.5L243.3 467.5L244.3 467.5L245.3 467.5L246.3 467.5L247.3 467.5L248.3 467.5L249.3 467.5L250.3 467.5L251.3 467.5L252.3 467.5L253.3 467.5L254.3 467.5L255.3 467.5L256.3 467.5L257.3 467.5L258.3 467.5L259.3 467.5L260.3 467.5L261.3 467.5L262.0 467.5L265.0 467.5L268.0 467.5L271.0 467.5L274.0 467.5L277.0 467.5L280.0 467.5L283.0 467.5L286.0 467.5L289.0 467.5L292.0 467.5L295.0 467.5L298.0 467.5L301.0 467.5L304.0 467.5L307.0 467.5L310.0 467.5L313.0 467.5L316.0 467.5L319.0 467.5L322.0 467.5L325.0 467.5L328.0 467.5L331.0 467.5L334.0 467.5L337.0 467.5L340.0 467.5L343.0 467.5L346.0 467.5L349.0 467.5L352.0 467.5L355.0 467.5L358.0 467.5L361.0 467.5L364.0 467.5L367.0 467.5L370.0 467.5L373.0 467.5L376.0 467.5L379.0 467.5L382.0 467.5L385.0 467.5L388.0 467.5L391.0 467.5L394.0 467.5L397.0 467.5L400.0 467.5L403.0 467.5L406.0 467.5L409.0 467.5L412.0 467.5L415.0 467.5L418.0 467.5L421.0 467.5L424.0 467.5L427.0 467.5L430.0 467.5L433.0 467.5L436.0 467.5L439.0 467.5L442.0 467.5L445.0 467.5L448.0 467.5L451.0 467.5L454.0 467.5L457.0 467.5L460.0 467.5L463.0 467.5L466.0 467.5L469.0 467.5L472.0 467.5L475.0 467.5L478.0 467.5L481.0 467.5L484.0 467.5L487.0 467.5L490.0 467.5L493.0 467.5L496.0 467.5L499.0 467.5L502.0 467.5L505.0 467.5L508.0 467.5L511.0 467.5L514.0 467.5L517.0 467.5L520.0 467.5L523.0 467.5L526.0 467.5L529.0 467.5L532.0 467.5L535.0 467.5L538.0 467.5L541.0 467.5L544.0 467.5L547.0 467.5L550.0 467.5L553.0 467.5L556.0 467.5L559.0 467.5L562.0 467.5L565.0 467.5L568.0 467.5L571.0 467.5L574.0 467.5L577.0 467.5L580.0 467.5L583.0 467.5L586.0 467.5L589.0 467.5L592.0 467.5L595.0 467.5L598.0 467.5L600.0 467.5L601.5 467.5L603.0 467.5L604.5 467.5L606.0 467.5L607.5 467.5L609.0 467.5L610.5 467.5L612.0 467.5L613.5 467.5L615.0 467.5L616.5 467.5L618.0 467.5L619.5 467.5L621.0 467.5L622.5 467.5L624.0 467.5L625.5 467.5L627.0 467.5L628.5 467.5L630.0 467.5L631.5 467.5L633.0 467.5L634.5 467.5L636.0 467.5L637.5 467.5L639.0 467.5L640.5 467.5L642.0 467.5L643.5 467.5L645.0 467.5L646.5 467.5L648.0 467.5L649.5 467.5L651.0 467.5L652.5 467.5L654.0 467.5L655.5 467.5L657.0 467.5L658.5 467.5L660.0 467.5L661.5 467.5L663.0 467.5L664.5 467.5L666.0 467.5L667.5 467.5L669.0 467.5L670.5 467.5L672.0 467.5L673.5 467.5L675.0 467.5L676.5 467.5L678.0 467.5L679.5 467.5L681.0 467.5L682.5 467.5L684.0 467.5L685.5 467.5L687.0 467.5L688.5 467.5L690.0 467.5L691.5 467.5L693.0 467.5L694.5 467.5L696.0 467.5L697.5 467.5L699.0 467.5L700.5 467.5L702.0 467.5L703.5 467.5L705.0 467.5L706.5 467.5L708.0 467.5L709.5 467.5L711.0 467.5L712.5 467.5L714.0 467.5L715.5 467.5L717.0 467.5L718.5 467.5L720.0 467.5L721.5 467.5L723.0 467.5L724.5 467.5L726.0 467.5L727.5 467.5L729.0 467.5L730.5 467.5L732.0 467.5L733.5 467.5L735.0 467.5L736.5 467.5L738.0 467.5L739.5 467.5L741.0 467.5L742.5 467.5L744.0 467.5L745.5 467.5L747.0 467.5L748.5 467.5L750.0 467.5L751.5 467.5L753.0 467.5L754.5 467.5L756.0 467.5L757.5 467.5L759.0 467.5L759.6 467.5" stroke="#7201A8" stroke-dasharray="11.8 5.1"/>
<path d="M759.3 467.4H771.4" stroke="#7201A8" stroke-dasharray="11.8 5.1"/>
<path d="M182.1 463.2H194.6" stroke="#7E03A8"/>
<path d="M194.3 463.2L195.3 463.0L196.3 462.7L197.3 462.5L198.3 462.3L199.3 462.1L200.3 461.9L201.3 461.7L202.3 461.6L203.3 461.5L204.3 461.4L205.3 461.4L206.3 461.4L207.3 461.4L208.3 461.5L209.3 461.5L210.3 461.6L211.3 461.6L212.3 461.7L213.3 461.8L214.3 461.9L215.3 462.0L216.3 462.1L217.3 462.2L218.3 462.3L219.3 462.4L220.3 462.5L221.3 462.7L222.3 462.8L223.3 462.9L224.3 463.1L225.3 463.3L226.3 463.4L227.3 463.6L228.3 463.7L229.3 463.9L230.3 464.0L231.3 464.2L232.3 464.3L233.3 464.5L234.3 464.6L235.3 464.7L236.3 464.9L237.3 465.0L238.3 465.1L239.3 465.2L240.3 465.3L241.3 465.4L242.3 465.5L243.3 465.6L244.3 465.7L245.3 465.9L246.3 466.0L247.3 466.1L248.3 466.2L249.3 466.3L250.3 466.4L251.3 466.5L252.3 466.6L253.3 466.7L254.3 466.7L255.3 466.8L256.3 466.9L257.3 467.0L258.3 467.1L259.3 467.2L260.3 467.3L261.3 467.4L262.0 467.4L265.0 467.6L268.0 467.9L271.0 468.1L274.0 468.4L277.0 468.6L280.0 468.8L283.0 469.0L286.0 469.2L289.0 469.3L292.0 469.4L295.0 469.5L298.0 469.5L301.0 469.5L304.0 469.5L307.0 469.5L310.0 469.5L313.0 469.4L316.0 469.4L319.0 469.4L322.0 469.3L325.0 469.3L328.0 469.2L331.0 469.2L334.0 469.1L337.0 469.1L340.0 469.0L343.0 468.9L346.0 468.9L349.0 468.8L352.0 468.7L355.0 468.7L358.0 468.6L361.0 468.5L364.0 468.5L367.0 468.4L370.0 468.3L373.0 468.3L376.0 468.2L379.0 468.1L382.0 468.0L385.0 468.0L388.0 467.9L391.0 467.9L394.0 467.8L397.0 467.7L400.0 467.7L403.0 467.7L406.0 467.6L409.0 467.6L412.0 467.5L415.0 467.5L418.0 467.4L421.0 467.4L424.0 467.4L427.0 467.3L430.0 467.3L433.0 467.3L436.0 467.2L439.0 467.2L442.0 467.2L445.0 467.1L448.0 467.1L451.0 467.1L454.0 467.0L457.0 467.0L460.0 467.0L463.0 466.9L466.0 466.9L469.0 466.9L472.0 466.8L475.0 466.8L478.0 466.8L481.0 466.7L484.0 466.7L487.0 466.7L490.0 466.6L493.0 466.6L496.0 466.6L499.0 466.5L502.0 466.5L505.0 466.4L508.0 466.4L511.0 466.3L514.0 466.3L517.0 466.2L520.0 466.2L523.0 466.2L526.0 466.1L529.0 466.1L532.0 466.0L535.0 466.0L538.0 465.9L541.0 465.9L544.0 465.8L547.0 465.8L550.0 465.7L553.0 465.7L556.0 465.6L559.0 465.6L562.0 465.5L565.0 465.5L568.0 465.4L571.0 465.4L574.0 465.3L577.0 465.3L580.0 465.2L583.0 465.2L586.0 465.2L589.0 465.1L592.0 465.1L595.0 465.0L598.0 465.0L600.0 465.0L601.5 465.0L603.0 465.0L604.5 465.0L606.0 465.0L607.5 465.0L609.0 465.0L610.5 465.0L612.0 465.0L613.5 465.0L615.0 465.0L616.5 465.0L618.0 465.1L619.5 465.1L621.0 465.1L622.5 465.1L624.0 465.1L625.5 465.1L627.0 465.1L628.5 465.1L630.0 465.1L631.5 465.1L633.0 465.1L634.5 465.1L636.0 465.1L637.5 465.1L639.0 465.1L640.5 465.1L642.0 465.1L643.5 465.1L645.0 465.1L646.5 465.1L648.0 465.1L649.5 465.1L651.0 465.1L652.5 465.0L654.0 465.0L655.5 465.0L657.0 465.0L658.5 464.9L660.0 464.8L661.5 464.7L663.0 464.7L664.5 464.6L666.0 464.4L667.5 464.3L669.0 464.2L670.5 464.0L672.0 463.9L673.5 463.7L675.0 463.6L676.5 463.4L678.0 463.3L679.5 463.1L681.0 462.9L682.5 462.8L684.0 462.6L685.5 462.4L687.0 462.2L688.5 462.1L690.0 461.9L691.5 461.8L693.0 461.6L694.5 461.5L696.0 461.3L697.5 461.2L699.0 461.1L700.5 461.0L702.0 460.9L703.5 460.7L705.0 460.6L706.5 460.5L708.0 460.4L709.5 460.3L711.0 460.2L712.5 460.1L714.0 460.0L715.5 459.9L717.0 459.9L718.5 459.8L720.0 459.7L721.5 459.6L723.0 459.5L724.5 459.4L726.0 459.3L727.5 459.2L729.0 459.1L730.5 459.0L732.0 458.9L733.5 458.8L735.0 458.7L736.5 458.6L738.0 458.5L739.5 458.4L741.0 458.3L742.5 458.2L744.0 458.1L745.5 458.0L747.0 457.9L748.5 457.8L750.0 457.7L751.5 457.7L753.0 457.8L754.5 458.1L756.0 458.4L757.5 458.7L759.0 459.1L759.6 459.2" stroke="#7E03A8"/>
<path d="M759.3 469.0H771.4" stroke="#7E03A8"/>
<path d="M182.1 458.0H194.6" stroke="#8A09A5" stroke-dasharray="6.8 6.8"/>
<path d="M194.3 461.0L195.3 459.6L196.3 458.3L197.3 457.0L198.3 455.9L199.3 455.0L200.3 454.3L201.3 453.7L202.3 453.1L203.3 452.6L204.3 452.1L205.3 451.7L206.3 451.5L207.3 451.5L208.3 451.6L209.3 451.8L210.3 452.0L211.3 452.3L212.3 452.6L213.3 453.0L214.3 453.3L215.3 453.7L216.3 454.1L217.3 454.5L218.3 455.0L219.3 455.4L220.3 455.9L221.3 456.3L222.3 456.8L223.3 457.2L224.3 457.7L225.3 458.1L226.3 458.6L227.3 459.0L228.3 459.5L229.3 460.0L230.3 460.4L231.3 460.9L232.3 461.3L233.3 461.7L234.3 462.1L235.3 462.4L236.3 462.7L237.3 463.0L238.3 463.2L239.3 463.5L240.3 463.7L241.3 463.9L242.3 464.1L243.3 464.3L244.3 464.5L245.3 464.7L246.3 464.9L247.3 465.0L248.3 465.2L249.3 465.4L250.3 465.5L251.3 465.7L252.3 465.8L253.3 466.0L254.3 466.1L255.3 466.3L256.3 466.5L257.3 466.7L258.3 466.8L259.3 467.0L260.3 467.3L261.3 467.5L262.0 467.6L265.0 468.4L268.0 469.5L271.0 470.7L274.0 472.1L277.0 473.5L280.0 474.8L283.0 475.9L286.0 476.8L289.0 477.4L292.0 477.6L295.0 477.8L298.0 477.8L301.0 477.8L304.0 477.8L307.0 477.7L310.0 477.5L313.0 477.3L316.0 477.1L319.0 476.9L322.0 476.7L325.0 476.5L328.0 476.3L331.0 476.1L334.0 475.9L337.0 475.6L340.0 475.4L343.0 475.2L346.0 474.9L349.0 474.7L352.0 474.4L355.0 474.2L358.0 473.9L361.0 473.6L364.0 473.3L367.0 473.0L370.0 472.7L373.0 472.4L376.0 472.1L379.0 471.8L382.0 471.5L385.0 471.2L388.0 470.9L391.0 470.7L394.0 470.4L397.0 470.2L400.0 470.0L403.0 469.8L406.0 469.6L409.0 469.5L412.0 469.3L415.0 469.2L418.0 469.0L421.0 468.9L424.0 468.8L427.0 468.7L430.0 468.6L433.0 468.5L436.0 468.4L439.0 468.3L442.0 468.3L445.0 468.2L448.0 468.2L451.0 468.1L454.0 468.1L457.0 468.0L460.0 468.0L463.0 467.9L466.0 467.9L469.0 467.8L472.0 467.8L475.0 467.7L478.0 467.7L481.0 467.7L484.0 467.6L487.0 467.6L490.0 467.6L493.0 467.5L496.0 467.5L499.0 467.5L502.0 467.5L505.0 467.5L508.0 467.5L511.0 467.4L514.0 467.4L517.0 467.4L520.0 467.4L523.0 467.4L526.0 467.4L529.0 467.4L532.0 467.4L535.0 467.4L538.0 467.4L541.0 467.4L544.0 467.4L547.0 467.4L550.0 467.4L553.0 467.4L556.0 467.4L559.0 467.5L562.0 467.5L565.0 467.5L568.0 467.5L571.0 467.6L574.0 467.6L577.0 467.6L580.0 467.7L583.0 467.7L586.0 467.7L589.0 467.8L592.0 467.8L595.0 467.9L598.0 468.0L600.0 468.1L601.5 468.1L603.0 468.2L604.5 468.2L606.0 468.3L607.5 468.3L609.0 468.4L610.5 468.5L612.0 468.6L613.5 468.6L615.0 468.7L616.5 468.8L618.0 468.8L619.5 468.9L621.0 469.0L622.5 469.1L624.0 469.1L625.5 469.2L627.0 469.3L628.5 469.4L630.0 469.4L631.5 469.5L633.0 469.6L634.5 469.7L636.0 469.7L637.5 469.8L639.0 469.9L640.5 469.9L642.0 470.0L643.5 470.0L645.0 470.1L646.5 470.2L648.0 470.2L649.5 470.3L651.0 470.3L652.5 470.4L654.0 470.5L655.5 470.5L657.0 470.6L658.5 470.6L660.0 470.7L661.5 470.8L663.0 470.8L664.5 470.9L666.0 470.9L667.5 471.0L669.0 471.0L670.5 471.1L672.0 471.2L673.5 471.2L675.0 471.3L676.5 471.3L678.0 471.4L679.5 471.5L681.0 471.5L682.5 471.6L684.0 471.6L685.5 471.7L687.0 471.8L688.5 471.8L690.0 471.9L691.5 471.9L693.0 472.0L694.5 472.1L696.0 472.1L697.5 472.2L699.0 472.3L700.5 472.3L702.0 472.4L703.5 472.5L705.0 472.5L706.5 472.6L708.0 472.7L709.5 472.7L711.0 472.8L712.5 472.9L714.0 472.9L715.5 473.0L717.0 473.1L718.5 473.1L720.0 473.2L721.5 473.3L723.0 473.3L724.5 473.4L726.0 473.5L727.5 473.6L729.0 473.7L730.5 473.7L732.0 473.8L733.5 473.9L735.0 474.0L736.5 474.1L738.0 474.1L739.5 474.2L741.0 474.3L742.5 474.3L744.0 474.4L745.5 474.4L747.0 474.3L748.5 474.1L750.0 473.8L751.5 473.5L753.0 473.0L754.5 472.5L756.0 472.0L757.5 471.4L759.0 470.9L759.6 470.7" stroke="#8A09A5" stroke-dasharray="6.8 6.8"/>
<path d="M759.3 469.9H771.4" stroke="#8A09A5" stroke-dasharray="6.8 6.8"/>
<path d="M182.1 456.6H194.6" stroke="#9511A1" stroke-dasharray="1.7 5.1 6.8 5.1"/>
<path d="M194.3 460.2L195.3 458.6L196.3 457.1L197.3 455.7L198.3 454.4L199.3 453.4L200.3 452.6L201.3 451.8L202.3 451.1L203.3 450.4L204.3 449.8L205.3 449.4L206.3 449.2L207.3 449.2L208.3 449.5L209.3 449.8L210.3 450.3L211.3 450.8L212.3 451.4L213.3 452.0L214.3 452.7L215.3 453.4L216.3 454.2L217.3 455.0L218.3 455.9L219.3 456.8L220.3 457.6L221.3 458.4L222.3 459.2L223.3 460.0L224.3 460.8L225.3 461.5L226.3 462.3L227.3 463.0L228.3 463.7L229.3 464.5L230.3 465.2L231.3 465.9L232.3 466.6L233.3 467.3L234.3 468.0L235.3 468.7L236.3 469.4L237.3 470.1L238.3 470.8L239.3 471.4L240.3 472.1L241.3 472.8L242.3 473.4L243.3 474.1L244.3 474.7L245.3 475.4L246.3 476.0L247.3 476.5L248.3 477.1L249.3 477.6L250.3 478.2L251.3 478.7L252.3 479.2L253.3 479.7L254.3 480.2L255.3 480.7L256.3 481.2L257.3 481.6L258.3 482.1L259.3 482.5L260.3 482.9L261.3 483.2L262.0 483.4L265.0 484.1L268.0 484.6L271.0 485.0L274.0 485.5L277.0 485.9L280.0 486.2L283.0 486.6L286.0 486.9L289.0 487.2L292.0 487.4L295.0 487.6L298.0 487.8L301.0 488.1L304.0 488.3L307.0 488.6L310.0 488.8L313.0 488.9L316.0 489.1L319.0 489.1L322.0 489.1L325.0 488.9L328.0 488.7L331.0 488.4L334.0 488.0L337.0 487.5L340.0 487.0L343.0 486.5L346.0 486.0L349.0 485.5L352.0 485.0L355.0 484.5L358.0 484.0L361.0 483.5L364.0 483.0L367.0 482.5L370.0 482.0L373.0 481.6L376.0 481.1L379.0 480.7L382.0 480.3L385.0 480.0L388.0 479.7L391.0 479.4L394.0 479.1L397.0 478.9L400.0 478.6L403.0 478.4L406.0 478.2L409.0 478.0L412.0 477.7L415.0 477.5L418.0 477.3L421.0 477.1L424.0 476.9L427.0 476.7L430.0 476.5L433.0 476.3L436.0 476.1L439.0 475.9L442.0 475.6L445.0 475.4L448.0 475.2L451.0 475.0L454.0 474.7L457.0 474.5L460.0 474.3L463.0 474.0L466.0 473.8L469.0 473.6L472.0 473.4L475.0 473.3L478.0 473.1L481.0 472.9L484.0 472.8L487.0 472.6L490.0 472.5L493.0 472.4L496.0 472.3L499.0 472.2L502.0 472.2L505.0 472.1L508.0 472.1L511.0 472.0L514.0 472.0L517.0 472.0L520.0 472.0L523.0 472.0L526.0 472.0L529.0 472.0L532.0 472.0L535.0 472.0L538.0 472.0L541.0 472.1L544.0 472.1L547.0 472.1L550.0 472.2L553.0 472.2L556.0 472.3L559.0 472.4L562.0 472.4L565.0 472.5L568.0 472.6L571.0 472.6L574.0 472.7L577.0 472.8L580.0 472.9L583.0 473.0L586.0 473.1L589.0 473.2L592.0 473.2L595.0 473.3L598.0 473.4L600.0 473.5L601.5 473.6L603.0 473.6L604.5 473.7L606.0 473.8L607.5 474.0L609.0 474.1L610.5 474.3L612.0 474.4L613.5 474.6L615.0 474.7L616.5 474.9L618.0 475.1L619.5 475.2L621.0 475.4L622.5 475.6L624.0 475.8L625.5 476.0L627.0 476.2L628.5 476.4L630.0 476.6L631.5 476.8L633.0 477.1L634.5 477.4L636.0 477.6L637.5 477.9L639.0 478.2L640.5 478.5L642.0 478.8L643.5 479.1L645.0 479.5L646.5 479.8L648.0 480.2L649.5 480.6L651.0 481.0L652.5 481.4L654.0 481.9L655.5 482.4L657.0 483.0L658.5 483.5L660.0 484.1L661.5 484.8L663.0 485.4L664.5 486.1L666.0 486.7L667.5 487.4L669.0 488.1L670.5 488.8L672.0 489.5L673.5 490.1L675.0 490.8L676.5 491.4L678.0 492.0L679.5 492.6L681.0 493.2L682.5 493.7L684.0 494.3L685.5 494.9L687.0 495.4L688.5 496.0L690.0 496.5L691.5 497.1L693.0 497.6L694.5 498.1L696.0 498.7L697.5 499.2L699.0 499.7L700.5 500.2L702.0 500.6L703.5 501.1L705.0 501.5L706.5 501.9L708.0 502.3L709.5 502.7L711.0 503.1L712.5 503.5L714.0 503.9L715.5 504.3L717.0 504.7L718.5 505.2L720.0 505.7L721.5 506.2L723.0 506.8L724.5 507.5L726.0 508.2L727.5 508.8L729.0 509.5L730.5 510.2L732.0 510.9L733.5 511.6L735.0 512.3L736.5 512.9L738.0 513.5L739.5 514.0L741.0 514.4L742.5 514.7L744.0 514.6L745.5 513.9L747.0 512.7L748.5 510.8L750.0 509.0L751.5 507.2L753.0 505.8L754.5 504.5L756.0 503.3L757.5 502.3L759.0 501.5L759.6 501.2" stroke="#9511A1" stroke-dasharray="1.7 5.1 6.8 5.1"/>
<path d="M759.3 467.0H771.4" stroke="#9511A1" stroke-dasharray="1.7 5.1 6.8 5.1"/>
<path d="M182.1 457.2H194.6" stroke="#A01A9C" stroke-dasharray="11.8 5.1"/>
<path d="M194.3 460.5L195.3 458.9L196.3 457.4L197.3 456.0L198.3 454.7L199.3 453.6L200.3 452.8L201.3 451.9L202.3 451.2L203.3 450.5L204.3 449.9L205.3 449.6L206.3 449.5L207.3 449.7L208.3 450.1L209.3 450.7L210.3 451.4L211.3 452.1L212.3 452.9L213.3 453.7L214.3 454.6L215.3 455.5L216.3 456.5L217.3 457.5L218.3 458.5L219.3 459.6L220.3 460.6L221.3 461.7L222.3 462.8L223.3 463.9L224.3 465.0L225.3 466.2L226.3 467.3L227.3 468.3L228.3 469.3L229.3 470.2L230.3 471.2L231.3 472.1L232.3 472.9L233.3 473.7L234.3 474.5L235.3 475.2L236.3 475.9L237.3 476.5L238.3 477.1L239.3 477.7L240.3 478.3L241.3 478.9L242.3 479.5L243.3 480.0L244.3 480.6L245.3 481.2L246.3 481.7L247.3 482.3L248.3 482.9L249.3 483.5L250.3 484.0L251.3 484.6L252.3 485.1L253.3 485.7L254.3 486.2L255.3 486.6L256.3 487.1L257.3 487.6L258.3 488.0L259.3 488.4L260.3 488.9L261.3 489.3L262.0 489.6L265.0 490.8L268.0 491.9L271.0 493.0L274.0 494.1L277.0 495.0L280.0 495.7L283.0 496.2L286.0 496.7L289.0 497.2L292.0 497.6L295.0 498.0L298.0 498.4L301.0 498.7L304.0 499.0L307.0 499.2L310.0 499.4L313.0 499.4L316.0 499.4L319.0 499.3L322.0 499.2L325.0 499.0L328.0 498.7L331.0 498.5L334.0 498.2L337.0 497.9L340.0 497.5L343.0 497.1L346.0 496.7L349.0 496.3L352.0 495.9L355.0 495.5L358.0 495.0L361.0 494.5L364.0 493.9L367.0 493.3L370.0 492.6L373.0 492.0L376.0 491.3L379.0 490.7L382.0 490.2L385.0 489.7L388.0 489.2L391.0 488.9L394.0 488.6L397.0 488.3L400.0 488.0L403.0 487.8L406.0 487.5L409.0 487.3L412.0 487.1L415.0 486.8L418.0 486.6L421.0 486.4L424.0 486.2L427.0 485.9L430.0 485.7L433.0 485.4L436.0 485.2L439.0 484.9L442.0 484.6L445.0 484.4L448.0 484.1L451.0 483.8L454.0 483.6L457.0 483.3L460.0 483.1L463.0 482.8L466.0 482.6L469.0 482.4L472.0 482.2L475.0 482.1L478.0 481.9L481.0 481.8L484.0 481.6L487.0 481.5L490.0 481.3L493.0 481.2L496.0 481.1L499.0 481.0L502.0 480.9L505.0 480.9L508.0 480.8L511.0 480.7L514.0 480.6L517.0 480.5L520.0 480.5L523.0 480.4L526.0 480.3L529.0 480.2L532.0 480.2L535.0 480.1L538.0 480.0L541.0 480.0L544.0 479.9L547.0 479.9L550.0 479.8L553.0 479.7L556.0 479.7L559.0 479.6L562.0 479.6L565.0 479.5L568.0 479.5L571.0 479.4L574.0 479.4L577.0 479.3L580.0 479.3L583.0 479.2L586.0 479.2L589.0 479.2L592.0 479.1L595.0 479.1L598.0 479.0L600.0 479.0L601.5 479.0L603.0 479.0L604.5 479.0L606.0 479.0L607.5 479.1L609.0 479.1L610.5 479.1L612.0 479.2L613.5 479.2L615.0 479.3L616.5 479.4L618.0 479.4L619.5 479.5L621.0 479.6L622.5 479.7L624.0 479.9L625.5 480.1L627.0 480.4L628.5 480.7L630.0 481.1L631.5 481.5L633.0 481.9L634.5 482.3L636.0 482.8L637.5 483.2L639.0 483.7L640.5 484.2L642.0 484.7L643.5 485.3L645.0 486.0L646.5 486.7L648.0 487.5L649.5 488.3L651.0 489.2L652.5 490.1L654.0 491.1L655.5 492.0L657.0 493.0L658.5 494.0L660.0 495.0L661.5 496.0L663.0 497.1L664.5 498.2L666.0 499.4L667.5 500.6L669.0 501.8L670.5 503.0L672.0 504.3L673.5 505.5L675.0 506.8L676.5 508.1L678.0 509.3L679.5 510.6L681.0 511.8L682.5 513.1L684.0 514.3L685.5 515.6L687.0 516.9L688.5 518.2L690.0 519.5L691.5 520.7L693.0 522.0L694.5 523.3L696.0 524.6L697.5 525.9L699.0 527.2L700.5 528.4L702.0 529.7L703.5 531.0L705.0 532.2L706.5 533.5L708.0 534.8L709.5 536.1L711.0 537.4L712.5 538.6L714.0 539.9L715.5 541.2L717.0 542.4L718.5 543.7L720.0 544.9L721.5 546.2L723.0 547.4L724.5 548.6L726.0 549.8L727.5 551.0L729.0 552.2L730.5 553.4L732.0 554.6L733.5 555.8L735.0 557.0L736.5 558.1L738.0 559.2L739.5 560.1L741.0 560.9L742.5 561.5L744.0 561.8L745.5 562.0L747.0 561.8L748.5 560.9L750.0 557.1L751.5 551.8L753.0 547.2L754.5 542.7L756.0 538.3L757.5 533.9L759.0 529.7L759.6 528.0" stroke="#A01A9C" stroke-dasharray="11.8 5.1"/>
<path d="M759.3 453.0H771.4" stroke="#A01A9C" stroke-dasharray="11.8 5.1"/>
<path d="M182.1 459.9H194.6" stroke="#AA2395"/>
<path d="M194.3 461.0L195.3 459.5L196.3 458.0L197.3 456.5L198.3 455.3L199.3 454.2L200.3 453.2L201.3 452.4L202.3 451.5L203.3 450.8L204.3 450.2L205.3 449.9L206.3 449.8L207.3 450.1L208.3 450.7L209.3 451.4L210.3 452.3L211.3 453.3L212.3 454.5L213.3 455.8L214.3 457.3L215.3 458.8L216.3 460.2L217.3 461.6L218.3 462.8L219.3 464.0L220.3 465.1L221.3 466.3L222.3 467.4L223.3 468.4L224.3 469.5L225.3 470.6L226.3 471.6L227.3 472.7L228.3 473.7L229.3 474.6L230.3 475.5L231.3 476.3L232.3 477.1L233.3 477.8L234.3 478.5L235.3 479.2L236.3 479.8L237.3 480.4L238.3 481.0L239.3 481.5L240.3 482.0L241.3 482.4L242.3 482.9L243.3 483.3L244.3 483.8L245.3 484.4L246.3 485.0L247.3 485.6L248.3 486.2L249.3 486.9L250.3 487.5L251.3 488.1L252.3 488.6L253.3 489.2L254.3 489.7L255.3 490.2L256.3 490.7L257.3 491.2L258.3 491.6L259.3 492.1L260.3 492.6L261.3 493.0L262.0 493.3L265.0 494.6L268.0 495.7L271.0 496.7L274.0 497.7L277.0 498.7L280.0 499.6L283.0 500.5L286.0 501.3L289.0 502.0L292.0 502.6L295.0 503.2L298.0 503.8L301.0 504.3L304.0 504.8L307.0 505.1L310.0 505.3L313.0 505.4L316.0 505.5L319.0 505.5L322.0 505.5L325.0 505.5L328.0 505.4L331.0 505.2L334.0 505.0L337.0 504.8L340.0 504.5L343.0 504.1L346.0 503.7L349.0 503.2L352.0 502.7L355.0 502.2L358.0 501.7L361.0 501.2L364.0 500.7L367.0 500.2L370.0 499.8L373.0 499.3L376.0 498.9L379.0 498.5L382.0 498.0L385.0 497.6L388.0 497.2L391.0 496.8L394.0 496.4L397.0 496.0L400.0 495.7L403.0 495.4L406.0 495.1L409.0 494.9L412.0 494.6L415.0 494.4L418.0 494.1L421.0 493.9L424.0 493.7L427.0 493.4L430.0 493.1L433.0 492.9L436.0 492.6L439.0 492.2L442.0 491.9L445.0 491.6L448.0 491.3L451.0 491.0L454.0 490.6L457.0 490.3L460.0 490.0L463.0 489.7L466.0 489.4L469.0 489.2L472.0 488.9L475.0 488.7L478.0 488.4L481.0 488.2L484.0 488.0L487.0 487.8L490.0 487.6L493.0 487.4L496.0 487.2L499.0 487.0L502.0 486.9L505.0 486.8L508.0 486.6L511.0 486.5L514.0 486.4L517.0 486.2L520.0 486.1L523.0 486.0L526.0 485.9L529.0 485.8L532.0 485.7L535.0 485.6L538.0 485.5L541.0 485.4L544.0 485.3L547.0 485.2L550.0 485.1L553.0 485.0L556.0 484.9L559.0 484.9L562.0 484.8L565.0 484.7L568.0 484.6L571.0 484.5L574.0 484.5L577.0 484.4L580.0 484.3L583.0 484.2L586.0 484.1L589.0 484.0L592.0 483.9L595.0 483.7L598.0 483.5L600.0 483.4L601.5 483.2L603.0 483.1L604.5 483.0L606.0 482.9L607.5 482.8L609.0 482.7L610.5 482.7L612.0 482.7L613.5 482.7L615.0 482.8L616.5 483.0L618.0 483.2L619.5 483.4L621.0 483.6L622.5 483.9L624.0 484.2L625.5 484.5L627.0 484.8L628.5 485.1L630.0 485.4L631.5 485.7L633.0 486.1L634.5 486.6L636.0 487.2L637.5 487.8L639.0 488.4L640.5 489.1L642.0 489.8L643.5 490.6L645.0 491.4L646.5 492.2L648.0 493.1L649.5 493.9L651.0 494.8L652.5 495.7L654.0 496.7L655.5 497.8L657.0 498.9L658.5 500.0L660.0 501.2L661.5 502.3L663.0 503.5L664.5 504.7L666.0 505.9L667.5 507.1L669.0 508.2L670.5 509.4L672.0 510.5L673.5 511.6L675.0 512.7L676.5 513.8L678.0 514.9L679.5 516.1L681.0 517.2L682.5 518.3L684.0 519.4L685.5 520.6L687.0 521.7L688.5 522.8L690.0 524.0L691.5 525.2L693.0 526.3L694.5 527.5L696.0 528.7L697.5 529.9L699.0 531.2L700.5 532.4L702.0 533.7L703.5 534.9L705.0 536.2L706.5 537.5L708.0 538.8L709.5 540.1L711.0 541.4L712.5 542.8L714.0 544.1L715.5 545.4L717.0 546.7L718.5 548.0L720.0 549.3L721.5 550.7L723.0 552.0L724.5 553.2L726.0 554.5L727.5 555.8L729.0 557.1L730.5 558.3L732.0 559.6L733.5 561.0L735.0 562.3L736.5 563.6L738.0 564.8L739.5 565.8L741.0 566.7L742.5 567.3L744.0 567.6L745.5 567.8L747.0 567.6L748.5 566.7L750.0 562.6L751.5 556.8L753.0 551.8L754.5 546.9L756.0 542.1L757.5 537.4L759.0 532.8L759.6 531.0" stroke="#AA2395"/>
<path d="M759.3 442.9H771.4" stroke="#AA2395"/>
<path d="M182.1 465.0H194.6" stroke="#B32C8E" stroke-dasharray="6.8 6.8"/>
<path d="M194.3 464.1L195.3 462.8L196.3 461.4L197.3 460.1L198.3 458.9L199.3 457.8L200.3 457.0L201.3 456.2L202.3 455.5L203.3 455.0L204.3 454.6L205.3 454.4L206.3 454.5L207.3 454.7L208.3 455.2L209.3 455.9L210.3 456.7L211.3 457.5L212.3 458.5L213.3 459.7L214.3 460.9L215.3 462.2L216.3 463.4L217.3 464.5L218.3 465.5L219.3 466.5L220.3 467.4L221.3 468.4L222.3 469.3L223.3 470.2L224.3 471.1L225.3 472.0L226.3 472.8L227.3 473.7L228.3 474.6L229.3 475.4L230.3 476.2L231.3 476.9L232.3 477.7L233.3 478.4L234.3 479.0L235.3 479.7L236.3 480.4L237.3 481.0L238.3 481.6L239.3 482.2L240.3 482.8L241.3 483.4L242.3 483.9L243.3 484.5L244.3 485.1L245.3 485.7L246.3 486.2L247.3 486.8L248.3 487.4L249.3 488.0L250.3 488.5L251.3 488.9L252.3 489.4L253.3 489.8L254.3 490.3L255.3 490.7L256.3 491.0L257.3 491.4L258.3 491.7L259.3 492.1L260.3 492.5L261.3 492.9L262.0 493.2L265.0 494.2L268.0 495.2L271.0 496.2L274.0 497.1L277.0 497.9L280.0 498.8L283.0 499.6L286.0 500.3L289.0 501.0L292.0 501.7L295.0 502.3L298.0 503.0L301.0 503.5L304.0 504.0L307.0 504.3L310.0 504.6L313.0 504.7L316.0 504.9L319.0 505.0L322.0 505.0L325.0 505.1L328.0 505.1L331.0 505.0L334.0 505.0L337.0 504.9L340.0 504.9L343.0 504.8L346.0 504.6L349.0 504.4L352.0 504.2L355.0 504.0L358.0 503.7L361.0 503.4L364.0 503.2L367.0 502.9L370.0 502.7L373.0 502.4L376.0 502.1L379.0 501.9L382.0 501.6L385.0 501.3L388.0 501.0L391.0 500.8L394.0 500.5L397.0 500.2L400.0 499.9L403.0 499.7L406.0 499.4L409.0 499.2L412.0 498.9L415.0 498.7L418.0 498.4L421.0 498.2L424.0 497.9L427.0 497.6L430.0 497.3L433.0 497.1L436.0 496.8L439.0 496.5L442.0 496.2L445.0 495.9L448.0 495.6L451.0 495.3L454.0 495.0L457.0 494.6L460.0 494.3L463.0 494.0L466.0 493.7L469.0 493.4L472.0 493.0L475.0 492.7L478.0 492.4L481.0 492.1L484.0 491.9L487.0 491.6L490.0 491.3L493.0 491.1L496.0 490.9L499.0 490.7L502.0 490.5L505.0 490.4L508.0 490.2L511.0 490.1L514.0 490.0L517.0 489.9L520.0 489.8L523.0 489.7L526.0 489.6L529.0 489.6L532.0 489.5L535.0 489.4L538.0 489.3L541.0 489.2L544.0 489.1L547.0 489.0L550.0 488.9L553.0 488.8L556.0 488.7L559.0 488.5L562.0 488.4L565.0 488.3L568.0 488.1L571.0 488.0L574.0 487.8L577.0 487.7L580.0 487.5L583.0 487.4L586.0 487.2L589.0 487.1L592.0 486.9L595.0 486.8L598.0 486.6L600.0 486.5L601.5 486.4L603.0 486.3L604.5 486.3L606.0 486.2L607.5 486.1L609.0 486.0L610.5 486.0L612.0 486.0L613.5 486.0L615.0 486.0L616.5 486.1L618.0 486.2L619.5 486.3L621.0 486.4L622.5 486.4L624.0 486.5L625.5 486.6L627.0 486.7L628.5 486.8L630.0 487.0L631.5 487.2L633.0 487.4L634.5 487.7L636.0 488.0L637.5 488.4L639.0 488.7L640.5 489.1L642.0 489.7L643.5 490.3L645.0 491.0L646.5 491.8L648.0 492.6L649.5 493.4L651.0 494.3L652.5 495.2L654.0 496.2L655.5 497.2L657.0 498.2L658.5 499.3L660.0 500.3L661.5 501.4L663.0 502.5L664.5 503.5L666.0 504.6L667.5 505.7L669.0 506.9L670.5 508.0L672.0 509.1L673.5 510.3L675.0 511.5L676.5 512.6L678.0 513.8L679.5 515.0L681.0 516.2L682.5 517.4L684.0 518.7L685.5 519.9L687.0 521.2L688.5 522.5L690.0 523.7L691.5 525.0L693.0 526.3L694.5 527.6L696.0 529.0L697.5 530.4L699.0 531.8L700.5 533.2L702.0 534.6L703.5 536.0L705.0 537.4L706.5 538.8L708.0 540.3L709.5 541.7L711.0 543.1L712.5 544.5L714.0 546.0L715.5 547.4L717.0 548.8L718.5 550.2L720.0 551.6L721.5 553.0L723.0 554.4L724.5 555.8L726.0 557.2L727.5 558.5L729.0 559.8L730.5 561.1L732.0 562.5L733.5 563.9L735.0 565.2L736.5 566.5L738.0 567.7L739.5 568.8L741.0 569.6L742.5 570.2L744.0 570.6L745.5 570.7L747.0 570.5L748.5 569.6L750.0 566.2L751.5 561.3L753.0 557.1L754.5 552.9L756.0 548.7L757.5 544.6L759.0 540.6L759.6 539.0" stroke="#B32C8E" stroke-dasharray="6.8 6.8"/>
<path d="M759.3 437.0H771.4" stroke="#B32C8E" stroke-dasharray="6.8 6.8"/>
<path d="M182.1 470.5H194.6" stroke="#BC3587" stroke-dasharray="1.7 5.1 6.8 5.1"/>
<path d="M194.3 470.0L195.3 468.9L196.3 467.8L197.3 466.7L198.3 465.7L199.3 464.8L200.3 464.0L201.3 463.4L202.3 463.1L203.3 463.0L204.3 463.0L205.3 463.1L206.3 463.2L207.3 463.4L208.3 463.6L209.3 463.9L210.3 464.3L211.3 464.7L212.3 465.1L213.3 465.7L214.3 466.2L215.3 466.8L216.3 467.5L217.3 468.1L218.3 468.8L219.3 469.4L220.3 470.1L221.3 470.7L222.3 471.4L223.3 472.1L224.3 472.7L225.3 473.4L226.3 474.1L227.3 474.8L228.3 475.5L229.3 476.2L230.3 476.9L231.3 477.6L232.3 478.2L233.3 478.9L234.3 479.5L235.3 480.2L236.3 480.8L237.3 481.5L238.3 482.2L239.3 482.9L240.3 483.6L241.3 484.2L242.3 484.9L243.3 485.5L244.3 486.1L245.3 486.7L246.3 487.3L247.3 487.8L248.3 488.3L249.3 488.7L250.3 489.1L251.3 489.5L252.3 489.8L253.3 490.2L254.3 490.5L255.3 490.8L256.3 491.1L257.3 491.4L258.3 491.7L259.3 492.0L260.3 492.3L261.3 492.6L262.0 492.8L265.0 493.6L268.0 494.3L271.0 495.0L274.0 495.7L277.0 496.3L280.0 497.0L283.0 497.7L286.0 498.4L289.0 499.1L292.0 499.8L295.0 500.5L298.0 501.1L301.0 501.7L304.0 502.2L307.0 502.7L310.0 503.0L313.0 503.3L316.0 503.5L319.0 503.8L322.0 504.0L325.0 504.3L328.0 504.5L331.0 504.6L334.0 504.8L337.0 504.9L340.0 505.0L343.0 505.0L346.0 505.0L349.0 505.0L352.0 504.9L355.0 504.8L358.0 504.8L361.0 504.7L364.0 504.6L367.0 504.5L370.0 504.4L373.0 504.3L376.0 504.2L379.0 504.1L382.0 503.9L385.0 503.8L388.0 503.6L391.0 503.5L394.0 503.3L397.0 503.2L400.0 503.0L403.0 502.8L406.0 502.6L409.0 502.4L412.0 502.2L415.0 502.0L418.0 501.8L421.0 501.5L424.0 501.3L427.0 501.0L430.0 500.8L433.0 500.5L436.0 500.2L439.0 500.0L442.0 499.7L445.0 499.4L448.0 499.2L451.0 498.9L454.0 498.6L457.0 498.3L460.0 498.0L463.0 497.7L466.0 497.4L469.0 497.0L472.0 496.7L475.0 496.3L478.0 496.0L481.0 495.7L484.0 495.4L487.0 495.1L490.0 494.8L493.0 494.5L496.0 494.3L499.0 494.1L502.0 493.9L505.0 493.7L508.0 493.6L511.0 493.4L514.0 493.3L517.0 493.2L520.0 493.1L523.0 493.0L526.0 492.9L529.0 492.8L532.0 492.7L535.0 492.6L538.0 492.5L541.0 492.4L544.0 492.3L547.0 492.2L550.0 492.0L553.0 491.8L556.0 491.7L559.0 491.5L562.0 491.3L565.0 491.1L568.0 491.0L571.0 490.8L574.0 490.6L577.0 490.4L580.0 490.2L583.0 490.0L586.0 489.9L589.0 489.7L592.0 489.5L595.0 489.3L598.0 489.1L600.0 489.0L601.5 488.9L603.0 488.8L604.5 488.7L606.0 488.6L607.5 488.5L609.0 488.4L610.5 488.3L612.0 488.2L613.5 488.1L615.0 488.1L616.5 488.0L618.0 487.9L619.5 487.8L621.0 487.7L622.5 487.6L624.0 487.5L625.5 487.5L627.0 487.5L628.5 487.5L630.0 487.6L631.5 487.7L633.0 487.9L634.5 488.1L636.0 488.3L637.5 488.6L639.0 488.8L640.5 489.1L642.0 489.4L643.5 489.9L645.0 490.5L646.5 491.1L648.0 491.9L649.5 492.6L651.0 493.5L652.5 494.4L654.0 495.3L655.5 496.2L657.0 497.2L658.5 498.1L660.0 499.0L661.5 499.9L663.0 500.9L664.5 501.9L666.0 502.9L667.5 504.0L669.0 505.1L670.5 506.3L672.0 507.4L673.5 508.6L675.0 509.8L676.5 511.1L678.0 512.3L679.5 513.6L681.0 514.9L682.5 516.2L684.0 517.5L685.5 518.9L687.0 520.3L688.5 521.8L690.0 523.2L691.5 524.7L693.0 526.2L694.5 527.6L696.0 529.1L697.5 530.6L699.0 532.0L700.5 533.5L702.0 534.9L703.5 536.4L705.0 537.9L706.5 539.3L708.0 540.8L709.5 542.3L711.0 543.8L712.5 545.3L714.0 546.8L715.5 548.3L717.0 549.7L718.5 551.2L720.0 552.7L721.5 554.1L723.0 555.6L724.5 557.0L726.0 558.4L727.5 559.8L729.0 561.1L730.5 562.4L732.0 563.8L733.5 565.2L735.0 566.6L736.5 567.9L738.0 569.0L739.5 570.1L741.0 570.9L742.5 571.5L744.0 571.9L745.5 572.0L747.0 571.7L748.5 570.9L750.0 567.9L751.5 563.7L753.0 560.1L754.5 556.6L756.0 553.1L757.5 549.7L759.0 546.3L759.6 545.0" stroke="#BC3587" stroke-dasharray="1.7 5.1 6.8 5.1"/>
<path d="M759.3 434.1H771.4" stroke="#BC3587" stroke-dasharray="1.7 5.1 6.8 5.1"/>
<path d="M182.1 472.4H194.6" stroke="#C43E7F" stroke-dasharray="11.8 5.1"/>
<path d="M194.3 479.3L195.3 478.6L196.3 478.0L197.3 477.3L198.3 476.7L199.3 476.1L200.3 475.6L201.3 475.2L202.3 475.0L203.3 475.0L204.3 475.0L205.3 475.1L206.3 475.2L207.3 475.4L208.3 475.5L209.3 475.7L210.3 475.9L211.3 476.1L212.3 476.3L213.3 476.6L214.3 476.8L215.3 477.1L216.3 477.4L217.3 477.7L218.3 478.0L219.3 478.3L220.3 478.6L221.3 478.9L222.3 479.2L223.3 479.5L224.3 479.9L225.3 480.2L226.3 480.5L227.3 480.9L228.3 481.2L229.3 481.6L230.3 481.9L231.3 482.3L232.3 482.7L233.3 483.1L234.3 483.5L235.3 483.9L236.3 484.3L237.3 484.7L238.3 485.1L239.3 485.6L240.3 486.1L241.3 486.5L242.3 487.0L243.3 487.4L244.3 487.8L245.3 488.2L246.3 488.5L247.3 488.9L248.3 489.2L249.3 489.4L250.3 489.7L251.3 489.9L252.3 490.1L253.3 490.3L254.3 490.5L255.3 490.7L256.3 490.9L257.3 491.0L258.3 491.2L259.3 491.3L260.3 491.4L261.3 491.5L262.0 491.6L265.0 492.0L268.0 492.3L271.0 492.6L274.0 492.9L277.0 493.2L280.0 493.6L283.0 493.9L286.0 494.4L289.0 495.0L292.0 495.5L295.0 496.1L298.0 496.8L301.0 497.6L304.0 498.6L307.0 499.4L310.0 500.1L313.0 500.7L316.0 501.2L319.0 501.8L322.0 502.3L325.0 502.9L328.0 503.4L331.0 503.8L334.0 504.2L337.0 504.6L340.0 504.9L343.0 505.0L346.0 505.1L349.0 505.2L352.0 505.3L355.0 505.3L358.0 505.4L361.0 505.4L364.0 505.4L367.0 505.5L370.0 505.5L373.0 505.5L376.0 505.5L379.0 505.5L382.0 505.5L385.0 505.5L388.0 505.5L391.0 505.5L394.0 505.5L397.0 505.4L400.0 505.4L403.0 505.3L406.0 505.3L409.0 505.2L412.0 505.2L415.0 505.1L418.0 505.0L421.0 505.0L424.0 504.8L427.0 504.7L430.0 504.6L433.0 504.4L436.0 504.2L439.0 504.0L442.0 503.8L445.0 503.5L448.0 503.3L451.0 503.0L454.0 502.8L457.0 502.5L460.0 502.2L463.0 501.9L466.0 501.6L469.0 501.3L472.0 501.0L475.0 500.7L478.0 500.5L481.0 500.2L484.0 499.9L487.0 499.6L490.0 499.4L493.0 499.1L496.0 498.9L499.0 498.6L502.0 498.4L505.0 498.1L508.0 497.9L511.0 497.6L514.0 497.3L517.0 497.0L520.0 496.8L523.0 496.5L526.0 496.2L529.0 495.9L532.0 495.7L535.0 495.4L538.0 495.1L541.0 494.9L544.0 494.6L547.0 494.4L550.0 494.1L553.0 493.9L556.0 493.7L559.0 493.6L562.0 493.4L565.0 493.3L568.0 493.2L571.0 493.1L574.0 493.0L577.0 492.8L580.0 492.7L583.0 492.5L586.0 492.3L589.0 492.1L592.0 491.8L595.0 491.4L598.0 491.0L600.0 490.7L601.5 490.5L603.0 490.2L604.5 490.0L606.0 489.7L607.5 489.5L609.0 489.3L610.5 489.1L612.0 488.9L613.5 488.7L615.0 488.5L616.5 488.3L618.0 488.1L619.5 487.9L621.0 487.7L622.5 487.6L624.0 487.4L625.5 487.3L627.0 487.3L628.5 487.3L630.0 487.4L631.5 487.5L633.0 487.7L634.5 487.9L636.0 488.1L637.5 488.3L639.0 488.6L640.5 488.8L642.0 489.1L643.5 489.5L645.0 490.0L646.5 490.6L648.0 491.2L649.5 491.9L651.0 492.6L652.5 493.4L654.0 494.2L655.5 495.0L657.0 495.9L658.5 496.8L660.0 497.8L661.5 498.8L663.0 499.9L664.5 501.0L666.0 502.2L667.5 503.3L669.0 504.5L670.5 505.7L672.0 506.8L673.5 508.0L675.0 509.2L676.5 510.4L678.0 511.6L679.5 512.8L681.0 514.1L682.5 515.4L684.0 516.7L685.5 518.0L687.0 519.3L688.5 520.7L690.0 522.1L691.5 523.5L693.0 524.9L694.5 526.4L696.0 527.8L697.5 529.2L699.0 530.6L700.5 532.0L702.0 533.4L703.5 534.8L705.0 536.2L706.5 537.6L708.0 539.1L709.5 540.5L711.0 541.9L712.5 543.4L714.0 544.8L715.5 546.3L717.0 547.7L718.5 549.2L720.0 550.6L721.5 552.0L723.0 553.5L724.5 554.9L726.0 556.3L727.5 557.7L729.0 559.1L730.5 560.5L732.0 561.9L733.5 563.5L735.0 565.0L736.5 566.4L738.0 567.8L739.5 569.0L741.0 569.9L742.5 570.5L744.0 570.9L745.5 571.0L747.0 570.7L748.5 569.9L750.0 566.7L751.5 562.3L753.0 558.5L754.5 554.7L756.0 551.1L757.5 547.5L759.0 543.9L759.6 542.5" stroke="#C43E7F" stroke-dasharray="11.8 5.1"/>
<path d="M759.3 426.8H771.4" stroke="#C43E7F" stroke-dasharray="11.8 5.1"/>
<path d="M182.1 470.0H194.6" stroke="#CC4778"/>
<path d="M194.3 490.5L195.3 490.2L196.3 489.9L197.3 489.6L198.3 489.3L199.3 489.0L200.3 488.8L201.3 488.6L202.3 488.4L203.3 488.3L204.3 488.2L205.3 488.2L206.3 488.2L207.3 488.3L208.3 488.4L209.3 488.5L210.3 488.7L211.3 488.8L212.3 488.9L213.3 489.1L214.3 489.2L215.3 489.3L216.3 489.4L217.3 489.5L218.3 489.6L219.3 489.7L220.3 489.7L221.3 489.7L222.3 489.8L223.3 489.8L224.3 489.8L225.3 489.9L226.3 489.9L227.3 489.9L228.3 490.0L229.3 490.0L230.3 490.0L231.3 490.0L232.3 490.1L233.3 490.1L234.3 490.1L235.3 490.1L236.3 490.2L237.3 490.2L238.3 490.2L239.3 490.2L240.3 490.3L241.3 490.3L242.3 490.3L243.3 490.3L244.3 490.4L245.3 490.4L246.3 490.4L247.3 490.4L248.3 490.5L249.3 490.5L250.3 490.5L251.3 490.5L252.3 490.5L253.3 490.6L254.3 490.6L255.3 490.6L256.3 490.6L257.3 490.6L258.3 490.7L259.3 490.7L260.3 490.7L261.3 490.7L262.0 490.7L265.0 490.8L268.0 490.8L271.0 490.8L274.0 490.9L277.0 491.0L280.0 491.0L283.0 491.2L286.0 491.5L289.0 491.9L292.0 492.3L295.0 492.8L298.0 493.5L301.0 494.5L304.0 495.8L307.0 497.0L310.0 498.0L313.0 498.8L316.0 499.6L319.0 500.4L322.0 501.1L325.0 501.9L328.0 502.6L331.0 503.2L334.0 503.8L337.0 504.3L340.0 504.7L343.0 505.1L346.0 505.3L349.0 505.5L352.0 505.6L355.0 505.8L358.0 506.0L361.0 506.1L364.0 506.2L367.0 506.4L370.0 506.5L373.0 506.6L376.0 506.8L379.0 506.9L382.0 507.0L385.0 507.1L388.0 507.2L391.0 507.3L394.0 507.3L397.0 507.4L400.0 507.5L403.0 507.6L406.0 507.7L409.0 507.7L412.0 507.8L415.0 507.9L418.0 508.0L421.0 508.0L424.0 508.0L427.0 508.0L430.0 508.0L433.0 507.9L436.0 507.8L439.0 507.7L442.0 507.5L445.0 507.3L448.0 507.1L451.0 506.9L454.0 506.6L457.0 506.4L460.0 506.2L463.0 505.9L466.0 505.7L469.0 505.4L472.0 505.2L475.0 505.0L478.0 504.8L481.0 504.6L484.0 504.4L487.0 504.2L490.0 504.0L493.0 503.8L496.0 503.5L499.0 503.3L502.0 503.0L505.0 502.7L508.0 502.4L511.0 502.0L514.0 501.6L517.0 501.2L520.0 500.7L523.0 500.3L526.0 499.8L529.0 499.4L532.0 498.9L535.0 498.5L538.0 498.1L541.0 497.7L544.0 497.3L547.0 496.9L550.0 496.6L553.0 496.3L556.0 496.1L559.0 496.0L562.0 495.9L565.0 495.8L568.0 495.8L571.0 495.8L574.0 495.8L577.0 495.7L580.0 495.6L583.0 495.5L586.0 495.3L589.0 495.0L592.0 494.6L595.0 494.0L598.0 493.3L600.0 492.7L601.5 492.3L603.0 491.9L604.5 491.5L606.0 491.1L607.5 490.7L609.0 490.3L610.5 490.0L612.0 489.7L613.5 489.3L615.0 489.0L616.5 488.6L618.0 488.3L619.5 488.0L621.0 487.7L622.5 487.5L624.0 487.3L625.5 487.2L627.0 487.1L628.5 487.1L630.0 487.1L631.5 487.3L633.0 487.4L634.5 487.6L636.0 487.8L637.5 488.1L639.0 488.3L640.5 488.6L642.0 488.9L643.5 489.3L645.0 489.7L646.5 490.2L648.0 490.8L649.5 491.4L651.0 492.1L652.5 492.8L654.0 493.5L655.5 494.3L657.0 495.1L658.5 496.1L660.0 497.1L661.5 498.2L663.0 499.4L664.5 500.6L666.0 501.8L667.5 503.0L669.0 504.2L670.5 505.4L672.0 506.5L673.5 507.7L675.0 508.9L676.5 510.1L678.0 511.3L679.5 512.5L681.0 513.7L682.5 514.9L684.0 516.2L685.5 517.4L687.0 518.7L688.5 519.9L690.0 521.2L691.5 522.5L693.0 523.8L694.5 525.1L696.0 526.4L697.5 527.8L699.0 529.1L700.5 530.4L702.0 531.8L703.5 533.2L705.0 534.5L706.5 535.9L708.0 537.3L709.5 538.7L711.0 540.1L712.5 541.5L714.0 542.9L715.5 544.3L717.0 545.7L718.5 547.1L720.0 548.5L721.5 549.9L723.0 551.4L724.5 552.8L726.0 554.2L727.5 555.6L729.0 557.0L730.5 558.5L732.0 560.0L733.5 561.7L735.0 563.4L736.5 565.0L738.0 566.5L739.5 567.9L741.0 568.9L742.5 569.5L744.0 569.9L745.5 570.0L747.0 569.7L748.5 568.9L750.0 565.5L751.5 560.9L753.0 556.9L754.5 552.9L756.0 549.0L757.5 545.2L759.0 541.5L759.6 540.0" stroke="#CC4778"/>
<path d="M759.3 422.0H771.4" stroke="#CC4778"/>
<path d="M182.1 465.4H194.6" stroke="#D35171" stroke-dasharray="6.8 6.8"/>
<path d="M194.3 502.7L195.3 502.5L196.3 502.2L197.3 501.9L198.3 501.6L199.3 501.3L200.3 501.0L201.3 500.8L202.3 500.6L203.3 500.4L204.3 500.3L205.3 500.3L206.3 500.3L207.3 500.3L208.3 500.3L209.3 500.3L210.3 500.3L211.3 500.3L212.3 500.3L213.3 500.4L214.3 500.4L215.3 500.4L216.3 500.4L217.3 500.4L218.3 500.4L219.3 500.4L220.3 500.4L221.3 500.3L222.3 500.3L223.3 500.3L224.3 500.2L225.3 500.2L226.3 500.1L227.3 500.1L228.3 500.0L229.3 500.0L230.3 499.9L231.3 499.9L232.3 499.8L233.3 499.7L234.3 499.7L235.3 499.6L236.3 499.5L237.3 499.4L238.3 499.3L239.3 499.2L240.3 499.1L241.3 499.0L242.3 498.9L243.3 498.8L244.3 498.7L245.3 498.5L246.3 498.4L247.3 498.3L248.3 498.2L249.3 498.1L250.3 498.0L251.3 497.9L252.3 497.8L253.3 497.7L254.3 497.6L255.3 497.5L256.3 497.5L257.3 497.5L258.3 497.4L259.3 497.4L260.3 497.4L261.3 497.4L262.0 497.4L265.0 497.4L268.0 497.3L271.0 497.2L274.0 497.1L277.0 497.1L280.0 497.1L283.0 497.1L286.0 497.2L289.0 497.4L292.0 497.7L295.0 498.0L298.0 498.4L301.0 499.1L304.0 499.8L307.0 500.6L310.0 501.2L313.0 501.8L316.0 502.3L319.0 502.8L322.0 503.4L325.0 503.9L328.0 504.4L331.0 504.8L334.0 505.2L337.0 505.6L340.0 506.0L343.0 506.3L346.0 506.5L349.0 506.8L352.0 507.0L355.0 507.2L358.0 507.5L361.0 507.7L364.0 507.9L367.0 508.1L370.0 508.3L373.0 508.5L376.0 508.7L379.0 508.8L382.0 509.0L385.0 509.2L388.0 509.3L391.0 509.4L394.0 509.6L397.0 509.7L400.0 509.8L403.0 509.9L406.0 510.0L409.0 510.1L412.0 510.1L415.0 510.2L418.0 510.3L421.0 510.3L424.0 510.4L427.0 510.4L430.0 510.4L433.0 510.4L436.0 510.4L439.0 510.3L442.0 510.3L445.0 510.2L448.0 510.0L451.0 509.9L454.0 509.7L457.0 509.6L460.0 509.4L463.0 509.2L466.0 509.1L469.0 508.9L472.0 508.7L475.0 508.6L478.0 508.4L481.0 508.3L484.0 508.1L487.0 508.0L490.0 507.8L493.0 507.6L496.0 507.4L499.0 507.2L502.0 507.0L505.0 506.8L508.0 506.6L511.0 506.3L514.0 506.0L517.0 505.7L520.0 505.4L523.0 505.1L526.0 504.8L529.0 504.4L532.0 504.1L535.0 503.8L538.0 503.4L541.0 503.1L544.0 502.8L547.0 502.6L550.0 502.3L553.0 502.1L556.0 501.9L559.0 501.8L562.0 501.7L565.0 501.7L568.0 501.6L571.0 501.6L574.0 501.6L577.0 501.5L580.0 501.5L583.0 501.4L586.0 501.2L589.0 501.0L592.0 500.8L595.0 500.4L598.0 499.9L600.0 499.5L601.5 499.2L603.0 498.9L604.5 498.6L606.0 498.3L607.5 498.1L609.0 497.8L610.5 497.6L612.0 497.3L613.5 497.1L615.0 496.8L616.5 496.6L618.0 496.3L619.5 496.1L621.0 495.9L622.5 495.7L624.0 495.6L625.5 495.5L627.0 495.4L628.5 495.3L630.0 495.3L631.5 495.4L633.0 495.5L634.5 495.6L636.0 495.8L637.5 496.1L639.0 496.3L640.5 496.6L642.0 496.9L643.5 497.3L645.0 497.7L646.5 498.1L648.0 498.6L649.5 499.1L651.0 499.6L652.5 500.2L654.0 500.9L655.5 501.7L657.0 502.5L658.5 503.5L660.0 504.5L661.5 505.6L663.0 506.7L664.5 507.8L666.0 509.0L667.5 510.2L669.0 511.3L670.5 512.4L672.0 513.5L673.5 514.7L675.0 515.9L676.5 517.2L678.0 518.5L679.5 519.9L681.0 521.2L682.5 522.6L684.0 524.0L685.5 525.4L687.0 526.8L688.5 528.2L690.0 529.7L691.5 531.1L693.0 532.6L694.5 534.1L696.0 535.6L697.5 537.0L699.0 538.5L700.5 540.0L702.0 541.5L703.5 542.9L705.0 544.4L706.5 545.9L708.0 547.4L709.5 548.9L711.0 550.4L712.5 551.9L714.0 553.4L715.5 554.9L717.0 556.4L718.5 557.9L720.0 559.4L721.5 560.8L723.0 562.3L724.5 563.8L726.0 565.2L727.5 566.6L729.0 568.1L730.5 569.5L732.0 571.0L733.5 572.5L735.0 574.0L736.5 575.5L738.0 576.8L739.5 578.0L741.0 578.9L742.5 579.5L744.0 579.9L745.5 580.0L747.0 579.7L748.5 578.9L750.0 575.9L751.5 571.7L753.0 568.1L754.5 564.6L756.0 561.1L757.5 557.7L759.0 554.3L759.6 553.0" stroke="#D35171" stroke-dasharray="6.8 6.8"/>
<path d="M759.3 419.3H771.4" stroke="#D35171" stroke-dasharray="6.8 6.8"/>
<path d="M182.1 460.0H194.6" stroke="#DA5A6A" stroke-dasharray="1.7 5.1 6.8 5.1"/>
<path d="M194.3 510.0L195.3 509.6L196.3 509.3L197.3 508.9L198.3 508.6L199.3 508.2L200.3 507.9L201.3 507.6L202.3 507.4L203.3 507.2L204.3 507.1L205.3 507.0L206.3 506.9L207.3 506.9L208.3 506.8L209.3 506.8L210.3 506.7L211.3 506.7L212.3 506.7L213.3 506.6L214.3 506.6L215.3 506.6L216.3 506.6L217.3 506.5L218.3 506.5L219.3 506.5L220.3 506.5L221.3 506.5L222.3 506.4L223.3 506.4L224.3 506.4L225.3 506.4L226.3 506.4L227.3 506.3L228.3 506.3L229.3 506.3L230.3 506.2L231.3 506.2L232.3 506.1L233.3 506.1L234.3 506.0L235.3 506.0L236.3 505.9L237.3 505.8L238.3 505.8L239.3 505.7L240.3 505.6L241.3 505.5L242.3 505.5L243.3 505.4L244.3 505.3L245.3 505.2L246.3 505.1L247.3 505.0L248.3 504.9L249.3 504.9L250.3 504.8L251.3 504.7L252.3 504.6L253.3 504.5L254.3 504.5L255.3 504.4L256.3 504.3L257.3 504.3L258.3 504.2L259.3 504.2L260.3 504.1L261.3 504.1L262.0 504.1L265.0 504.0L268.0 504.0L271.0 504.0L274.0 504.0L277.0 504.1L280.0 504.2L283.0 504.3L286.0 504.5L289.0 504.6L292.0 504.8L295.0 504.9L298.0 505.1L301.0 505.3L304.0 505.5L307.0 505.7L310.0 505.9L313.0 506.1L316.0 506.3L319.0 506.5L322.0 506.7L325.0 506.9L328.0 507.2L331.0 507.4L334.0 507.6L337.0 507.8L340.0 508.0L343.0 508.2L346.0 508.4L349.0 508.6L352.0 508.9L355.0 509.1L358.0 509.3L361.0 509.5L364.0 509.7L367.0 510.0L370.0 510.2L373.0 510.4L376.0 510.6L379.0 510.8L382.0 511.0L385.0 511.2L388.0 511.4L391.0 511.6L394.0 511.7L397.0 511.9L400.0 512.0L403.0 512.1L406.0 512.3L409.0 512.4L412.0 512.5L415.0 512.6L418.0 512.7L421.0 512.8L424.0 512.9L427.0 513.0L430.0 513.0L433.0 513.1L436.0 513.1L439.0 513.1L442.0 513.1L445.0 513.1L448.0 513.0L451.0 513.0L454.0 512.9L457.0 512.8L460.0 512.7L463.0 512.6L466.0 512.5L469.0 512.4L472.0 512.2L475.0 512.1L478.0 512.0L481.0 511.8L484.0 511.7L487.0 511.6L490.0 511.4L493.0 511.3L496.0 511.2L499.0 511.0L502.0 510.9L505.0 510.8L508.0 510.7L511.0 510.6L514.0 510.4L517.0 510.3L520.0 510.2L523.0 510.1L526.0 509.9L529.0 509.8L532.0 509.7L535.0 509.6L538.0 509.5L541.0 509.3L544.0 509.2L547.0 509.1L550.0 509.0L553.0 508.9L556.0 508.8L559.0 508.7L562.0 508.6L565.0 508.5L568.0 508.4L571.0 508.3L574.0 508.2L577.0 508.1L580.0 508.0L583.0 507.9L586.0 507.8L589.0 507.7L592.0 507.6L595.0 507.5L598.0 507.4L600.0 507.3L601.5 507.2L603.0 507.2L604.5 507.1L606.0 507.1L607.5 507.0L609.0 506.9L610.5 506.9L612.0 506.8L613.5 506.7L615.0 506.6L616.5 506.6L618.0 506.5L619.5 506.4L621.0 506.4L622.5 506.3L624.0 506.2L625.5 506.2L627.0 506.1L628.5 506.0L630.0 506.0L631.5 506.0L633.0 506.0L634.5 506.1L636.0 506.3L637.5 506.5L639.0 506.7L640.5 506.9L642.0 507.2L643.5 507.5L645.0 507.9L646.5 508.2L648.0 508.5L649.5 508.9L651.0 509.3L652.5 509.7L654.0 510.3L655.5 511.0L657.0 511.7L658.5 512.5L660.0 513.4L661.5 514.3L663.0 515.3L664.5 516.3L666.0 517.3L667.5 518.3L669.0 519.3L670.5 520.3L672.0 521.4L673.5 522.6L675.0 523.8L676.5 525.1L678.0 526.4L679.5 527.8L681.0 529.2L682.5 530.6L684.0 532.0L685.5 533.5L687.0 535.0L688.5 536.5L690.0 538.1L691.5 539.7L693.0 541.4L694.5 543.0L696.0 544.7L697.5 546.3L699.0 547.9L700.5 549.5L702.0 551.1L703.5 552.7L705.0 554.3L706.5 555.9L708.0 557.5L709.5 559.1L711.0 560.7L712.5 562.3L714.0 563.9L715.5 565.5L717.0 567.1L718.5 568.7L720.0 570.2L721.5 571.8L723.0 573.3L724.5 574.8L726.0 576.2L727.5 577.7L729.0 579.1L730.5 580.5L732.0 581.9L733.5 583.3L735.0 584.6L736.5 585.9L738.0 587.1L739.5 588.1L741.0 588.9L742.5 589.5L744.0 589.9L745.5 590.0L747.0 589.7L748.5 588.9L750.0 586.2L751.5 582.6L753.0 579.4L754.5 576.2L756.0 573.2L757.5 570.1L759.0 567.2L759.6 566.0" stroke="#DA5A6A" stroke-dasharray="1.7 5.1 6.8 5.1"/>
<path d="M759.3 416.5H771.4" stroke="#DA5A6A" stroke-dasharray="1.7 5.1 6.8 5.1"/>
<path d="M182.1 454.8H194.6" stroke="#E06363" stroke-dasharray="11.8 5.1"/>
<path d="M194.3 508.7L195.3 508.3L196.3 508.0L197.3 507.6L198.3 507.3L199.3 507.0L200.3 506.7L201.3 506.4L202.3 506.2L203.3 506.0L204.3 505.8L205.3 505.7L206.3 505.7L207.3 505.6L208.3 505.6L209.3 505.6L210.3 505.6L211.3 505.6L212.3 505.6L213.3 505.6L214.3 505.6L215.3 505.6L216.3 505.6L217.3 505.6L218.3 505.7L219.3 505.7L220.3 505.7L221.3 505.8L222.3 505.8L223.3 505.8L224.3 505.8L225.3 505.8L226.3 505.9L227.3 505.9L228.3 505.9L229.3 505.8L230.3 505.8L231.3 505.8L232.3 505.8L233.3 505.7L234.3 505.7L235.3 505.6L236.3 505.5L237.3 505.4L238.3 505.2L239.3 505.1L240.3 504.9L241.3 504.7L242.3 504.6L243.3 504.4L244.3 504.2L245.3 504.1L246.3 503.9L247.3 503.8L248.3 503.7L249.3 503.6L250.3 503.5L251.3 503.5L252.3 503.4L253.3 503.4L254.3 503.4L255.3 503.4L256.3 503.4L257.3 503.4L258.3 503.4L259.3 503.5L260.3 503.5L261.3 503.5L262.0 503.6L265.0 503.8L268.0 504.1L271.0 504.4L274.0 504.8L277.0 505.3L280.0 505.7L283.0 506.2L286.0 506.7L289.0 507.2L292.0 507.6L295.0 507.9L298.0 508.0L301.0 508.1L304.0 508.1L307.0 508.2L310.0 508.2L313.0 508.3L316.0 508.3L319.0 508.4L322.0 508.5L325.0 508.7L328.0 508.8L331.0 509.0L334.0 509.1L337.0 509.3L340.0 509.4L343.0 509.6L346.0 509.8L349.0 509.9L352.0 510.1L355.0 510.3L358.0 510.5L361.0 510.7L364.0 510.9L367.0 511.1L370.0 511.3L373.0 511.6L376.0 511.8L379.0 512.0L382.0 512.3L385.0 512.5L388.0 512.8L391.0 513.0L394.0 513.3L397.0 513.5L400.0 513.8L403.0 514.1L406.0 514.4L409.0 514.8L412.0 515.3L415.0 515.7L418.0 516.1L421.0 516.5L424.0 516.9L427.0 517.2L430.0 517.3L433.0 517.4L436.0 517.4L439.0 517.5L442.0 517.4L445.0 517.4L448.0 517.4L451.0 517.3L454.0 517.2L457.0 517.1L460.0 516.9L463.0 516.8L466.0 516.7L469.0 516.5L472.0 516.4L475.0 516.2L478.0 516.0L481.0 515.9L484.0 515.7L487.0 515.5L490.0 515.4L493.0 515.2L496.0 515.1L499.0 515.0L502.0 514.9L505.0 514.8L508.0 514.7L511.0 514.7L514.0 514.6L517.0 514.6L520.0 514.5L523.0 514.5L526.0 514.5L529.0 514.4L532.0 514.4L535.0 514.3L538.0 514.2L541.0 514.2L544.0 514.1L547.0 514.0L550.0 513.9L553.0 513.8L556.0 513.7L559.0 513.6L562.0 513.4L565.0 513.3L568.0 513.2L571.0 513.0L574.0 512.9L577.0 512.8L580.0 512.6L583.0 512.5L586.0 512.3L589.0 512.1L592.0 511.9L595.0 511.7L598.0 511.5L600.0 511.3L601.5 511.2L603.0 511.1L604.5 511.0L606.0 510.9L607.5 510.7L609.0 510.6L610.5 510.5L612.0 510.4L613.5 510.2L615.0 510.1L616.5 510.0L618.0 509.9L619.5 509.8L621.0 509.7L622.5 509.6L624.0 509.6L625.5 509.6L627.0 509.5L628.5 509.5L630.0 509.5L631.5 509.5L633.0 509.6L634.5 509.7L636.0 509.8L637.5 509.9L639.0 510.1L640.5 510.2L642.0 510.4L643.5 510.7L645.0 510.9L646.5 511.2L648.0 511.5L649.5 511.8L651.0 512.2L652.5 512.6L654.0 513.1L655.5 513.6L657.0 514.2L658.5 514.8L660.0 515.4L661.5 516.1L663.0 516.9L664.5 517.7L666.0 518.6L667.5 519.5L669.0 520.5L670.5 521.5L672.0 522.5L673.5 523.6L675.0 524.8L676.5 525.9L678.0 527.1L679.5 528.4L681.0 529.6L682.5 530.9L684.0 532.2L685.5 533.5L687.0 534.9L688.5 536.3L690.0 537.8L691.5 539.3L693.0 540.7L694.5 542.2L696.0 543.7L697.5 545.2L699.0 546.7L700.5 548.1L702.0 549.6L703.5 551.1L705.0 552.6L706.5 554.1L708.0 555.6L709.5 557.1L711.0 558.7L712.5 560.2L714.0 561.7L715.5 563.2L717.0 564.7L718.5 566.2L720.0 567.6L721.5 569.0L723.0 570.4L724.5 571.8L726.0 573.1L727.5 574.4L729.0 575.6L730.5 576.7L732.0 577.9L733.5 579.0L735.0 580.0L736.5 581.0L738.0 581.9L739.5 582.7L741.0 583.3L742.5 583.9L744.0 584.2L745.5 584.4L747.0 584.1L748.5 583.3L750.0 580.8L751.5 577.3L753.0 574.4L754.5 571.4L756.0 568.5L757.5 565.6L759.0 562.9L759.6 561.8" stroke="#E06363" stroke-dasharray="11.8 5.1"/>
<path d="M759.3 419.0H771.4" stroke="#E06363" stroke-dasharray="11.8 5.1"/>
<path d="M182.1 450.0H194.6" stroke="#E66C5C"/>
<path d="M194.3 507.4L195.3 507.1L196.3 506.7L197.3 506.4L198.3 506.0L199.3 505.7L200.3 505.4L201.3 505.2L202.3 505.0L203.3 504.8L204.3 504.6L205.3 504.5L206.3 504.5L207.3 504.4L208.3 504.4L209.3 504.4L210.3 504.4L211.3 504.4L212.3 504.5L213.3 504.5L214.3 504.5L215.3 504.6L216.3 504.7L217.3 504.7L218.3 504.8L219.3 504.9L220.3 505.0L221.3 505.0L222.3 505.1L223.3 505.2L224.3 505.3L225.3 505.3L226.3 505.4L227.3 505.4L228.3 505.4L229.3 505.4L230.3 505.4L231.3 505.4L232.3 505.4L233.3 505.3L234.3 505.3L235.3 505.2L236.3 505.0L237.3 504.9L238.3 504.7L239.3 504.4L240.3 504.2L241.3 503.9L242.3 503.7L243.3 503.4L244.3 503.2L245.3 502.9L246.3 502.7L247.3 502.6L248.3 502.4L249.3 502.3L250.3 502.3L251.3 502.2L252.3 502.2L253.3 502.3L254.3 502.3L255.3 502.4L256.3 502.4L257.3 502.5L258.3 502.6L259.3 502.7L260.3 502.9L261.3 503.0L262.0 503.1L265.0 503.6L268.0 504.2L271.0 504.8L274.0 505.5L277.0 506.2L280.0 506.9L283.0 507.6L286.0 508.3L289.0 509.0L292.0 509.5L295.0 509.9L298.0 510.1L301.0 510.2L304.0 510.3L307.0 510.3L310.0 510.3L313.0 510.3L316.0 510.3L319.0 510.4L322.0 510.4L325.0 510.5L328.0 510.7L331.0 510.8L334.0 510.9L337.0 511.0L340.0 511.2L343.0 511.3L346.0 511.5L349.0 511.6L352.0 511.8L355.0 511.9L358.0 512.1L361.0 512.3L364.0 512.4L367.0 512.6L370.0 512.8L373.0 513.0L376.0 513.3L379.0 513.5L382.0 513.8L385.0 514.1L388.0 514.5L391.0 514.8L394.0 515.2L397.0 515.6L400.0 516.0L403.0 516.5L406.0 517.1L409.0 517.8L412.0 518.6L415.0 519.4L418.0 520.2L421.0 520.9L424.0 521.5L427.0 522.0L430.0 522.2L433.0 522.3L436.0 522.3L439.0 522.3L442.0 522.2L445.0 522.1L448.0 522.0L451.0 521.9L454.0 521.8L457.0 521.6L460.0 521.5L463.0 521.3L466.0 521.1L469.0 520.9L472.0 520.7L475.0 520.5L478.0 520.3L481.0 520.1L484.0 519.8L487.0 519.6L490.0 519.4L493.0 519.1L496.0 519.0L499.0 518.8L502.0 518.7L505.0 518.7L508.0 518.6L511.0 518.6L514.0 518.6L517.0 518.6L520.0 518.6L523.0 518.6L526.0 518.5L529.0 518.5L532.0 518.5L535.0 518.5L538.0 518.4L541.0 518.4L544.0 518.3L547.0 518.2L550.0 518.1L553.0 518.0L556.0 517.9L559.0 517.8L562.0 517.7L565.0 517.5L568.0 517.4L571.0 517.3L574.0 517.1L577.0 517.0L580.0 516.8L583.0 516.6L586.0 516.4L589.0 516.1L592.0 515.8L595.0 515.5L598.0 515.2L600.0 515.0L601.5 514.8L603.0 514.7L604.5 514.5L606.0 514.3L607.5 514.1L609.0 514.0L610.5 513.8L612.0 513.6L613.5 513.4L615.0 513.3L616.5 513.1L618.0 513.0L619.5 512.8L621.0 512.7L622.5 512.7L624.0 512.6L625.5 512.6L627.0 512.6L628.5 512.6L630.0 512.6L631.5 512.7L633.0 512.8L634.5 512.8L636.0 512.9L637.5 513.0L639.0 513.1L640.5 513.1L642.0 513.2L643.5 513.4L645.0 513.6L646.5 513.8L648.0 514.1L649.5 514.4L651.0 514.7L652.5 515.1L654.0 515.5L655.5 515.9L657.0 516.3L658.5 516.8L660.0 517.2L661.5 517.7L663.0 518.3L664.5 519.0L666.0 519.8L667.5 520.6L669.0 521.6L670.5 522.5L672.0 523.5L673.5 524.6L675.0 525.7L676.5 526.8L678.0 527.8L679.5 528.9L681.0 530.0L682.5 531.2L684.0 532.4L685.5 533.6L687.0 534.8L688.5 536.1L690.0 537.4L691.5 538.8L693.0 540.1L694.5 541.4L696.0 542.8L697.5 544.1L699.0 545.4L700.5 546.7L702.0 548.1L703.5 549.4L705.0 550.8L706.5 552.2L708.0 553.7L709.5 555.1L711.0 556.6L712.5 558.0L714.0 559.5L715.5 560.9L717.0 562.3L718.5 563.7L720.0 565.0L721.5 566.3L723.0 567.6L724.5 568.8L726.0 570.0L727.5 571.0L729.0 572.1L730.5 573.0L732.0 573.9L733.5 574.7L735.0 575.4L736.5 576.1L738.0 576.7L739.5 577.3L741.0 577.8L742.5 578.2L744.0 578.6L745.5 578.8L747.0 578.5L748.5 577.7L750.0 575.3L751.5 572.1L753.0 569.3L754.5 566.5L756.0 563.8L757.5 561.2L759.0 558.5L759.6 557.5" stroke="#E66C5C"/>
<path d="M759.3 431.6H771.4" stroke="#E66C5C"/>
<path d="M182.1 443.0H194.6" stroke="#EB7655" stroke-dasharray="6.8 6.8"/>
<path d="M194.3 513.5L195.3 513.2L196.3 512.9L197.3 512.6L198.3 512.3L199.3 511.9L200.3 511.6L201.3 511.3L202.3 511.0L203.3 510.7L204.3 510.4L205.3 510.2L206.3 509.9L207.3 509.7L208.3 509.4L209.3 509.2L210.3 508.9L211.3 508.6L212.3 508.4L213.3 508.2L214.3 507.9L215.3 507.7L216.3 507.5L217.3 507.3L218.3 507.1L219.3 506.9L220.3 506.6L221.3 506.4L222.3 506.3L223.3 506.1L224.3 506.0L225.3 505.9L226.3 505.9L227.3 505.9L228.3 505.9L229.3 505.9L230.3 505.9L231.3 505.8L232.3 505.8L233.3 505.8L234.3 505.7L235.3 505.7L236.3 505.6L237.3 505.6L238.3 505.5L239.3 505.4L240.3 505.3L241.3 505.2L242.3 505.0L243.3 504.9L244.3 504.8L245.3 504.8L246.3 504.7L247.3 504.6L248.3 504.6L249.3 504.6L250.3 504.6L251.3 504.6L252.3 504.6L253.3 504.7L254.3 504.7L255.3 504.8L256.3 504.9L257.3 504.9L258.3 505.0L259.3 505.1L260.3 505.2L261.3 505.4L262.0 505.5L265.0 505.8L268.0 506.4L271.0 507.0L274.0 507.7L277.0 508.3L280.0 509.0L283.0 509.6L286.0 510.2L289.0 510.8L292.0 511.4L295.0 511.8L298.0 512.2L301.0 512.5L304.0 512.8L307.0 513.1L310.0 513.4L313.0 513.6L316.0 513.9L319.0 514.2L322.0 514.4L325.0 514.7L328.0 515.0L331.0 515.3L334.0 515.6L337.0 515.9L340.0 516.2L343.0 516.5L346.0 516.7L349.0 517.0L352.0 517.3L355.0 517.5L358.0 517.8L361.0 518.0L364.0 518.3L367.0 518.6L370.0 518.9L373.0 519.2L376.0 519.5L379.0 519.8L382.0 520.2L385.0 520.6L388.0 521.1L391.0 521.5L394.0 522.0L397.0 522.4L400.0 522.9L403.0 523.3L406.0 523.8L409.0 524.4L412.0 525.0L415.0 525.5L418.0 526.0L421.0 526.5L424.0 526.9L427.0 527.2L430.0 527.3L433.0 527.4L436.0 527.4L439.0 527.4L442.0 527.4L445.0 527.4L448.0 527.3L451.0 527.2L454.0 527.1L457.0 527.0L460.0 526.9L463.0 526.7L466.0 526.6L469.0 526.4L472.0 526.2L475.0 526.0L478.0 525.7L481.0 525.3L484.0 525.0L487.0 524.6L490.0 524.2L493.0 523.9L496.0 523.7L499.0 523.5L502.0 523.4L505.0 523.3L508.0 523.2L511.0 523.1L514.0 523.1L517.0 523.0L520.0 523.0L523.0 523.0L526.0 522.9L529.0 522.9L532.0 522.8L535.0 522.8L538.0 522.8L541.0 522.7L544.0 522.6L547.0 522.6L550.0 522.5L553.0 522.5L556.0 522.4L559.0 522.4L562.0 522.3L565.0 522.3L568.0 522.2L571.0 522.1L574.0 522.1L577.0 522.0L580.0 521.9L583.0 521.8L586.0 521.7L589.0 521.6L592.0 521.5L595.0 521.3L598.0 521.1L600.0 521.0L601.5 520.9L603.0 520.8L604.5 520.7L606.0 520.6L607.5 520.5L609.0 520.4L610.5 520.2L612.0 520.1L613.5 520.0L615.0 519.9L616.5 519.7L618.0 519.6L619.5 519.5L621.0 519.4L622.5 519.3L624.0 519.2L625.5 519.2L627.0 519.1L628.5 519.1L630.0 519.1L631.5 519.1L633.0 519.1L634.5 519.0L636.0 519.0L637.5 519.0L639.0 519.0L640.5 519.0L642.0 519.0L643.5 519.1L645.0 519.3L646.5 519.4L648.0 519.7L649.5 519.9L651.0 520.2L652.5 520.5L654.0 520.9L655.5 521.2L657.0 521.6L658.5 521.9L660.0 522.3L661.5 522.7L663.0 523.3L664.5 523.9L666.0 524.7L667.5 525.6L669.0 526.6L670.5 527.7L672.0 528.8L673.5 529.9L675.0 531.1L676.5 532.2L678.0 533.4L679.5 534.5L681.0 535.6L682.5 536.8L684.0 538.0L685.5 539.3L687.0 540.7L688.5 542.1L690.0 543.5L691.5 544.9L693.0 546.4L694.5 547.8L696.0 549.3L697.5 550.8L699.0 552.2L700.5 553.6L702.0 555.1L703.5 556.6L705.0 558.1L706.5 559.6L708.0 561.1L709.5 562.7L711.0 564.3L712.5 565.8L714.0 567.4L715.5 568.9L717.0 570.4L718.5 572.0L720.0 573.4L721.5 574.9L723.0 576.3L724.5 577.7L726.0 579.0L727.5 580.3L729.0 581.6L730.5 582.7L732.0 583.9L733.5 585.0L735.0 586.0L736.5 587.0L738.0 587.9L739.5 588.7L741.0 589.3L742.5 589.9L744.0 590.2L745.5 590.4L747.0 590.1L748.5 589.3L750.0 586.9L751.5 583.6L753.0 580.8L754.5 577.9L756.0 575.2L757.5 572.5L759.0 569.8L759.6 568.8" stroke="#EB7655" stroke-dasharray="6.8 6.8"/>
<path d="M759.3 450.9H771.4" stroke="#EB7655" stroke-dasharray="6.8 6.8"/>
<path d="M182.1 435.7H194.6" stroke="#F0804E" stroke-dasharray="1.7 5.1 6.8 5.1"/>
<path d="M194.3 519.5L195.3 519.3L196.3 519.0L197.3 518.8L198.3 518.5L199.3 518.1L200.3 517.8L201.3 517.4L202.3 517.1L203.3 516.7L204.3 516.3L205.3 515.9L206.3 515.4L207.3 515.0L208.3 514.5L209.3 513.9L210.3 513.4L211.3 512.9L212.3 512.3L213.3 511.8L214.3 511.3L215.3 510.9L216.3 510.4L217.3 509.9L218.3 509.3L219.3 508.8L220.3 508.3L221.3 507.8L222.3 507.4L223.3 507.1L224.3 506.8L225.3 506.6L226.3 506.5L227.3 506.4L228.3 506.4L229.3 506.3L230.3 506.3L231.3 506.3L232.3 506.2L233.3 506.2L234.3 506.2L235.3 506.2L236.3 506.2L237.3 506.2L238.3 506.3L239.3 506.3L240.3 506.3L241.3 506.4L242.3 506.4L243.3 506.5L244.3 506.5L245.3 506.6L246.3 506.6L247.3 506.7L248.3 506.7L249.3 506.8L250.3 506.9L251.3 506.9L252.3 507.0L253.3 507.1L254.3 507.1L255.3 507.2L256.3 507.3L257.3 507.4L258.3 507.5L259.3 507.5L260.3 507.6L261.3 507.7L262.0 507.8L265.0 508.1L268.0 508.5L271.0 508.9L274.0 509.3L277.0 509.8L280.0 510.3L283.0 510.8L286.0 511.3L289.0 511.8L292.0 512.3L295.0 512.8L298.0 513.3L301.0 513.8L304.0 514.3L307.0 514.8L310.0 515.3L313.0 515.8L316.0 516.2L319.0 516.7L322.0 517.2L325.0 517.7L328.0 518.2L331.0 518.6L334.0 519.1L337.0 519.6L340.0 520.0L343.0 520.4L346.0 520.8L349.0 521.2L352.0 521.6L355.0 522.0L358.0 522.4L361.0 522.7L364.0 523.1L367.0 523.5L370.0 523.9L373.0 524.3L376.0 524.7L379.0 525.1L382.0 525.5L385.0 526.0L388.0 526.5L391.0 527.0L394.0 527.4L397.0 527.8L400.0 528.2L403.0 528.5L406.0 528.8L409.0 529.1L412.0 529.3L415.0 529.5L418.0 529.8L421.0 529.9L424.0 530.1L427.0 530.2L430.0 530.3L433.0 530.4L436.0 530.4L439.0 530.4L442.0 530.4L445.0 530.4L448.0 530.4L451.0 530.4L454.0 530.3L457.0 530.2L460.0 530.1L463.0 530.0L466.0 529.9L469.0 529.7L472.0 529.5L475.0 529.3L478.0 528.9L481.0 528.5L484.0 528.1L487.0 527.6L490.0 527.2L493.0 526.8L496.0 526.5L499.0 526.2L502.0 526.1L505.0 526.0L508.0 525.9L511.0 525.8L514.0 525.7L517.0 525.6L520.0 525.5L523.0 525.5L526.0 525.4L529.0 525.3L532.0 525.3L535.0 525.2L538.0 525.1L541.0 525.1L544.0 525.1L547.0 525.0L550.0 525.0L553.0 525.0L556.0 525.0L559.0 524.9L562.0 524.9L565.0 524.9L568.0 524.9L571.0 524.9L574.0 524.9L577.0 524.9L580.0 524.9L583.0 525.0L586.0 525.0L589.0 524.9L592.0 524.9L595.0 524.9L598.0 524.9L600.0 524.9L601.5 524.9L603.0 524.9L604.5 524.8L606.0 524.8L607.5 524.7L609.0 524.7L610.5 524.6L612.0 524.5L613.5 524.5L615.0 524.4L616.5 524.3L618.0 524.2L619.5 524.1L621.0 524.0L622.5 523.9L624.0 523.8L625.5 523.7L627.0 523.7L628.5 523.6L630.0 523.5L631.5 523.4L633.0 523.3L634.5 523.2L636.0 523.2L637.5 523.1L639.0 523.0L640.5 523.0L642.0 523.0L643.5 523.0L645.0 523.1L646.5 523.3L648.0 523.5L649.5 523.7L651.0 524.0L652.5 524.3L654.0 524.6L655.5 524.9L657.0 525.3L658.5 525.6L660.0 526.0L661.5 526.5L663.0 527.1L664.5 527.8L666.0 528.7L667.5 529.7L669.0 530.8L670.5 531.9L672.0 533.1L673.5 534.4L675.0 535.7L676.5 537.0L678.0 538.3L679.5 539.6L681.0 540.9L682.5 542.2L684.0 543.6L685.5 545.0L687.0 546.5L688.5 548.0L690.0 549.5L691.5 551.1L693.0 552.7L694.5 554.2L696.0 555.8L697.5 557.4L699.0 559.0L700.5 560.5L702.0 562.1L703.5 563.7L705.0 565.3L706.5 566.9L708.0 568.6L709.5 570.3L711.0 571.9L712.5 573.6L714.0 575.3L715.5 576.9L717.0 578.6L718.5 580.2L720.0 581.9L721.5 583.5L723.0 585.0L724.5 586.6L726.0 588.1L727.5 589.6L729.0 591.1L730.5 592.5L732.0 593.9L733.5 595.3L735.0 596.7L736.5 597.9L738.0 599.1L739.5 600.1L741.0 600.9L742.5 601.5L744.0 601.9L745.5 602.0L747.0 601.7L748.5 600.9L750.0 598.4L751.5 595.1L753.0 592.2L754.5 589.3L756.0 586.5L757.5 583.8L759.0 581.1L759.6 580.0" stroke="#F0804E" stroke-dasharray="1.7 5.1 6.8 5.1"/>
<path d="M759.3 473.4H771.4" stroke="#F0804E" stroke-dasharray="1.7 5.1 6.8 5.1"/>
<path d="M182.1 427.0H194.6" stroke="#F58B47" stroke-dasharray="11.8 5.1"/>
<path d="M194.3 491.2L195.3 491.3L196.3 491.3L197.3 491.4L198.3 491.4L199.3 491.4L200.3 491.5L201.3 491.5L202.3 491.5L203.3 491.5L204.3 491.5L205.3 491.5L206.3 491.5L207.3 491.4L208.3 491.4L209.3 491.3L210.3 491.2L211.3 491.1L212.3 490.9L213.3 490.8L214.3 490.6L215.3 490.4L216.3 490.2L217.3 489.9L218.3 489.5L219.3 489.0L220.3 488.5L221.3 488.0L222.3 487.4L223.3 486.9L224.3 486.4L225.3 485.8L226.3 485.3L227.3 484.7L228.3 484.1L229.3 483.5L230.3 482.9L231.3 482.4L232.3 481.8L233.3 481.3L234.3 480.8L235.3 480.4L236.3 480.0L237.3 479.6L238.3 479.3L239.3 478.9L240.3 478.6L241.3 478.3L242.3 478.0L243.3 477.7L244.3 477.5L245.3 477.3L246.3 477.1L247.3 476.9L248.3 476.8L249.3 476.6L250.3 476.5L251.3 476.3L252.3 476.2L253.3 476.0L254.3 475.9L255.3 475.8L256.3 475.7L257.3 475.6L258.3 475.5L259.3 475.5L260.3 475.5L261.3 475.5L262.0 475.5L265.0 475.5L268.0 475.5L271.0 475.5L274.0 475.5L277.0 475.5L280.0 475.5L283.0 475.5L286.0 475.5L289.0 475.5L292.0 475.5L295.0 475.5L298.0 475.5L301.0 475.4L304.0 475.3L307.0 475.2L310.0 475.1L313.0 474.9L316.0 474.8L319.0 474.7L322.0 474.5L325.0 474.5L328.0 474.4L331.0 474.4L334.0 474.5L337.0 474.5L340.0 474.6L343.0 474.7L346.0 474.8L349.0 474.9L352.0 475.0L355.0 475.2L358.0 475.3L361.0 475.5L364.0 475.7L367.0 475.9L370.0 476.1L373.0 476.4L376.0 476.7L379.0 477.2L382.0 477.6L385.0 478.1L388.0 478.6L391.0 479.0L394.0 479.5L397.0 479.9L400.0 480.3L403.0 480.6L406.0 481.0L409.0 481.3L412.0 481.7L415.0 482.0L418.0 482.3L421.0 482.7L424.0 483.0L427.0 483.3L430.0 483.5L433.0 483.8L436.0 484.0L439.0 484.2L442.0 484.4L445.0 484.6L448.0 484.8L451.0 485.0L454.0 485.2L457.0 485.3L460.0 485.5L463.0 485.6L466.0 485.8L469.0 485.9L472.0 486.0L475.0 486.1L478.0 486.1L481.0 486.2L484.0 486.2L487.0 486.2L490.0 486.2L493.0 486.2L496.0 486.1L499.0 486.0L502.0 485.9L505.0 485.8L508.0 485.6L511.0 485.3L514.0 485.1L517.0 484.8L520.0 484.5L523.0 484.2L526.0 483.9L529.0 483.5L532.0 483.2L535.0 482.8L538.0 482.5L541.0 482.2L544.0 481.8L547.0 481.5L550.0 481.2L553.0 480.9L556.0 480.6L559.0 480.4L562.0 480.2L565.0 479.9L568.0 479.7L571.0 479.5L574.0 479.3L577.0 479.1L580.0 478.9L583.0 478.8L586.0 478.6L589.0 478.5L592.0 478.4L595.0 478.3L598.0 478.2L600.0 478.2L601.5 478.2L603.0 478.2L604.5 478.3L606.0 478.4L607.5 478.5L609.0 478.6L610.5 478.8L612.0 479.0L613.5 479.2L615.0 479.4L616.5 479.5L618.0 479.7L619.5 479.9L621.0 480.1L622.5 480.3L624.0 480.6L625.5 480.9L627.0 481.1L628.5 481.4L630.0 481.8L631.5 482.1L633.0 482.4L634.5 482.8L636.0 483.2L637.5 483.6L639.0 484.0L640.5 484.4L642.0 484.8L643.5 485.2L645.0 485.6L646.5 486.0L648.0 486.4L649.5 486.9L651.0 487.3L652.5 487.7L654.0 488.2L655.5 488.7L657.0 489.2L658.5 489.7L660.0 490.2L661.5 490.8L663.0 491.3L664.5 491.9L666.0 492.5L667.5 493.1L669.0 493.8L670.5 494.4L672.0 495.1L673.5 495.8L675.0 496.5L676.5 497.2L678.0 498.0L679.5 498.7L681.0 499.5L682.5 500.4L684.0 501.3L685.5 502.3L687.0 503.3L688.5 504.4L690.0 505.5L691.5 506.6L693.0 507.7L694.5 508.9L696.0 510.0L697.5 511.2L699.0 512.3L700.5 513.4L702.0 514.5L703.5 515.7L705.0 516.9L706.5 518.1L708.0 519.3L709.5 520.6L711.0 521.8L712.5 523.0L714.0 524.1L715.5 525.2L717.0 526.2L718.5 527.1L720.0 528.0L721.5 528.8L723.0 529.5L724.5 530.2L726.0 530.8L727.5 531.4L729.0 531.9L730.5 532.4L732.0 532.8L733.5 533.1L735.0 533.3L736.5 533.4L738.0 533.3L739.5 533.1L741.0 532.7L742.5 532.2L744.0 531.7L745.5 531.1L747.0 530.4L748.5 529.8L750.0 528.8L751.5 527.5L753.0 525.9L754.5 524.1L756.0 522.2L757.5 520.1L759.0 518.0L759.6 517.2" stroke="#F58B47" stroke-dasharray="11.8 5.1"/>
<path d="M759.3 488.0H771.4" stroke="#F58B47" stroke-dasharray="11.8 5.1"/>
<path d="M182.1 422.5H194.6" stroke="#F89540"/>
<path d="M194.3 497.5L195.3 497.7L196.3 498.0L197.3 498.2L198.3 498.4L199.3 498.5L200.3 498.7L201.3 498.8L202.3 498.9L203.3 499.0L204.3 499.0L205.3 499.0L206.3 499.0L207.3 498.9L208.3 498.7L209.3 498.5L210.3 498.3L211.3 498.0L212.3 497.7L213.3 497.4L214.3 497.0L215.3 496.6L216.3 496.1L217.3 495.6L218.3 494.9L219.3 494.2L220.3 493.4L221.3 492.6L222.3 491.8L223.3 491.0L224.3 490.2L225.3 489.5L226.3 488.8L227.3 488.0L228.3 487.3L229.3 486.6L230.3 485.8L231.3 485.1L232.3 484.4L233.3 483.7L234.3 483.0L235.3 482.3L236.3 481.6L237.3 480.9L238.3 480.2L239.3 479.6L240.3 479.1L241.3 478.7L242.3 478.3L243.3 477.9L244.3 477.6L245.3 477.2L246.3 476.9L247.3 476.5L248.3 476.2L249.3 476.0L250.3 475.7L251.3 475.5L252.3 475.3L253.3 475.1L254.3 475.0L255.3 474.8L256.3 474.7L257.3 474.6L258.3 474.5L259.3 474.4L260.3 474.3L261.3 474.2L262.0 474.2L265.0 474.0L268.0 473.8L271.0 473.6L274.0 473.4L277.0 473.3L280.0 473.2L283.0 473.1L286.0 473.0L289.0 473.0L292.0 472.9L295.0 472.8L298.0 472.7L301.0 472.6L304.0 472.5L307.0 472.4L310.0 472.3L313.0 472.2L316.0 472.0L319.0 471.9L322.0 471.8L325.0 471.8L328.0 471.7L331.0 471.7L334.0 471.8L337.0 471.8L340.0 471.9L343.0 472.0L346.0 472.2L349.0 472.3L352.0 472.5L355.0 472.7L358.0 472.9L361.0 473.1L364.0 473.3L367.0 473.5L370.0 473.7L373.0 474.0L376.0 474.4L379.0 474.9L382.0 475.3L385.0 475.8L388.0 476.3L391.0 476.8L394.0 477.3L397.0 477.7L400.0 478.0L403.0 478.3L406.0 478.5L409.0 478.8L412.0 479.0L415.0 479.2L418.0 479.4L421.0 479.6L424.0 479.9L427.0 480.1L430.0 480.3L433.0 480.5L436.0 480.7L439.0 480.9L442.0 481.1L445.0 481.3L448.0 481.5L451.0 481.8L454.0 482.0L457.0 482.2L460.0 482.4L463.0 482.5L466.0 482.7L469.0 482.9L472.0 483.1L475.0 483.2L478.0 483.4L481.0 483.5L484.0 483.7L487.0 483.8L490.0 483.9L493.0 484.0L496.0 484.0L499.0 484.0L502.0 484.0L505.0 483.9L508.0 483.8L511.0 483.7L514.0 483.6L517.0 483.4L520.0 483.3L523.0 483.1L526.0 483.0L529.0 482.8L532.0 482.6L535.0 482.4L538.0 482.3L541.0 482.1L544.0 481.9L547.0 481.8L550.0 481.6L553.0 481.4L556.0 481.3L559.0 481.1L562.0 480.9L565.0 480.7L568.0 480.6L571.0 480.4L574.0 480.2L577.0 480.0L580.0 479.8L583.0 479.7L586.0 479.5L589.0 479.4L592.0 479.2L595.0 479.1L598.0 479.0L600.0 479.0L601.5 479.0L603.0 479.1L604.5 479.2L606.0 479.4L607.5 479.6L609.0 479.8L610.5 480.1L612.0 480.4L613.5 480.7L615.0 481.0L616.5 481.3L618.0 481.6L619.5 481.9L621.0 482.2L622.5 482.5L624.0 482.8L625.5 483.1L627.0 483.4L628.5 483.8L630.0 484.2L631.5 484.5L633.0 484.9L634.5 485.3L636.0 485.7L637.5 486.1L639.0 486.5L640.5 486.9L642.0 487.4L643.5 487.9L645.0 488.3L646.5 488.9L648.0 489.4L649.5 489.9L651.0 490.5L652.5 491.1L654.0 491.7L655.5 492.3L657.0 492.9L658.5 493.6L660.0 494.2L661.5 494.9L663.0 495.6L664.5 496.3L666.0 497.0L667.5 497.8L669.0 498.6L670.5 499.4L672.0 500.3L673.5 501.1L675.0 502.0L676.5 502.9L678.0 503.8L679.5 504.7L681.0 505.6L682.5 506.6L684.0 507.5L685.5 508.5L687.0 509.6L688.5 510.6L690.0 511.7L691.5 512.7L693.0 513.8L694.5 514.9L696.0 516.0L697.5 517.1L699.0 518.3L700.5 519.4L702.0 520.5L703.5 521.8L705.0 523.0L706.5 524.3L708.0 525.6L709.5 527.0L711.0 528.3L712.5 529.7L714.0 531.0L715.5 532.4L717.0 533.7L718.5 535.0L720.0 536.2L721.5 537.4L723.0 538.6L724.5 539.7L726.0 540.8L727.5 541.8L729.0 542.6L730.5 543.5L732.0 544.2L733.5 544.9L735.0 545.5L736.5 546.0L738.0 546.5L739.5 547.0L741.0 547.5L742.5 547.9L744.0 548.3L745.5 548.5L747.0 548.2L748.5 547.4L750.0 545.3L751.5 542.5L753.0 540.1L754.5 537.7L756.0 535.3L757.5 533.0L759.0 530.7L759.6 529.8" stroke="#F89540"/>
<path d="M759.3 490.4H771.4" stroke="#F89540"/>
<path d="M182.1 423.2H194.6" stroke="#FBA139" stroke-dasharray="6.8 6.8"/>
<path d="M194.3 505.4L195.3 505.7L196.3 505.9L197.3 506.2L198.3 506.4L199.3 506.6L200.3 506.7L201.3 506.8L202.3 506.9L203.3 507.0L204.3 506.9L205.3 506.9L206.3 506.7L207.3 506.5L208.3 506.2L209.3 505.9L210.3 505.5L211.3 505.0L212.3 504.6L213.3 504.0L214.3 503.4L215.3 502.7L216.3 502.0L217.3 501.2L218.3 500.4L219.3 499.5L220.3 498.7L221.3 497.8L222.3 496.9L223.3 496.0L224.3 495.1L225.3 494.2L226.3 493.4L227.3 492.6L228.3 491.7L229.3 490.9L230.3 490.2L231.3 489.4L232.3 488.7L233.3 487.9L234.3 487.2L235.3 486.5L236.3 485.7L237.3 485.0L238.3 484.3L239.3 483.7L240.3 483.2L241.3 482.8L242.3 482.4L243.3 482.0L244.3 481.6L245.3 481.3L246.3 481.0L247.3 480.7L248.3 480.5L249.3 480.3L250.3 480.1L251.3 480.0L252.3 479.8L253.3 479.7L254.3 479.6L255.3 479.5L256.3 479.4L257.3 479.4L258.3 479.3L259.3 479.2L260.3 479.1L261.3 479.0L262.0 479.0L265.0 478.9L268.0 478.9L271.0 478.8L274.0 478.8L277.0 478.8L280.0 478.8L283.0 478.8L286.0 478.8L289.0 478.8L292.0 478.8L295.0 478.8L298.0 478.8L301.0 478.7L304.0 478.7L307.0 478.7L310.0 478.6L313.0 478.6L316.0 478.5L319.0 478.5L322.0 478.5L325.0 478.5L328.0 478.5L331.0 478.6L334.0 478.6L337.0 478.7L340.0 478.8L343.0 478.9L346.0 479.1L349.0 479.2L352.0 479.4L355.0 479.6L358.0 479.8L361.0 480.0L364.0 480.3L367.0 480.5L370.0 480.7L373.0 481.0L376.0 481.3L379.0 481.6L382.0 482.0L385.0 482.3L388.0 482.7L391.0 483.0L394.0 483.3L397.0 483.6L400.0 483.8L403.0 484.0L406.0 484.1L409.0 484.3L412.0 484.4L415.0 484.6L418.0 484.7L421.0 484.9L424.0 485.0L427.0 485.2L430.0 485.3L433.0 485.4L436.0 485.6L439.0 485.7L442.0 485.8L445.0 485.9L448.0 486.1L451.0 486.2L454.0 486.3L457.0 486.3L460.0 486.4L463.0 486.5L466.0 486.6L469.0 486.7L472.0 486.7L475.0 486.8L478.0 486.8L481.0 486.9L484.0 487.0L487.0 487.0L490.0 487.1L493.0 487.1L496.0 487.1L499.0 487.1L502.0 487.0L505.0 487.0L508.0 487.0L511.0 487.0L514.0 487.0L517.0 486.9L520.0 486.9L523.0 486.9L526.0 486.9L529.0 486.9L532.0 486.8L535.0 486.8L538.0 486.7L541.0 486.6L544.0 486.6L547.0 486.5L550.0 486.5L553.0 486.5L556.0 486.4L559.0 486.4L562.0 486.3L565.0 486.3L568.0 486.2L571.0 486.1L574.0 486.1L577.0 486.0L580.0 486.0L583.0 485.9L586.0 485.8L589.0 485.7L592.0 485.7L595.0 485.6L598.0 485.6L600.0 485.5L601.5 485.6L603.0 485.8L604.5 486.0L606.0 486.4L607.5 486.8L609.0 487.3L610.5 487.8L612.0 488.3L613.5 488.9L615.0 489.5L616.5 490.1L618.0 490.7L619.5 491.2L621.0 491.7L622.5 492.3L624.0 492.8L625.5 493.4L627.0 493.9L628.5 494.5L630.0 495.1L631.5 495.7L633.0 496.4L634.5 497.0L636.0 497.6L637.5 498.3L639.0 499.0L640.5 499.7L642.0 500.4L643.5 501.1L645.0 501.9L646.5 502.7L648.0 503.5L649.5 504.3L651.0 505.2L652.5 506.1L654.0 507.0L655.5 507.9L657.0 508.8L658.5 509.8L660.0 510.7L661.5 511.7L663.0 512.7L664.5 513.7L666.0 514.8L667.5 515.8L669.0 516.9L670.5 518.0L672.0 519.1L673.5 520.2L675.0 521.4L676.5 522.5L678.0 523.6L679.5 524.7L681.0 525.8L682.5 526.9L684.0 528.0L685.5 529.2L687.0 530.3L688.5 531.4L690.0 532.5L691.5 533.7L693.0 534.9L694.5 536.1L696.0 537.3L697.5 538.6L699.0 539.9L700.5 541.2L702.0 542.6L703.5 544.1L705.0 545.6L706.5 547.3L708.0 548.9L709.5 550.7L711.0 552.4L712.5 554.2L714.0 556.0L715.5 557.8L717.0 559.6L718.5 561.4L720.0 563.2L721.5 565.0L723.0 566.7L724.5 568.3L726.0 569.8L727.5 571.3L729.0 572.6L730.5 573.9L732.0 575.1L733.5 576.2L735.0 577.3L736.5 578.3L738.0 579.2L739.5 580.1L741.0 580.8L742.5 581.6L744.0 582.2L745.5 582.6L747.0 582.3L748.5 581.5L750.0 578.7L751.5 575.1L753.0 572.0L754.5 569.0L756.0 566.1L757.5 563.3L759.0 560.6L759.6 559.5" stroke="#FBA139" stroke-dasharray="6.8 6.8"/>
<path d="M759.3 480.7H771.4" stroke="#FBA139" stroke-dasharray="6.8 6.8"/>
<path d="M182.1 428.9H194.6" stroke="#FDAC33" stroke-dasharray="1.7 5.1 6.8 5.1"/>
<path d="M194.3 514.0L195.3 514.3L196.3 514.5L197.3 514.7L198.3 514.9L199.3 515.0L200.3 515.1L201.3 515.2L202.3 515.2L203.3 515.2L204.3 515.1L205.3 515.0L206.3 514.7L207.3 514.4L208.3 514.0L209.3 513.5L210.3 513.0L211.3 512.4L212.3 511.8L213.3 511.1L214.3 510.3L215.3 509.4L216.3 508.5L217.3 507.5L218.3 506.6L219.3 505.6L220.3 504.7L221.3 503.8L222.3 502.9L223.3 502.0L224.3 501.0L225.3 500.1L226.3 499.1L227.3 498.2L228.3 497.4L229.3 496.6L230.3 495.8L231.3 495.0L232.3 494.2L233.3 493.5L234.3 492.8L235.3 492.1L236.3 491.4L237.3 490.8L238.3 490.3L239.3 489.8L240.3 489.4L241.3 489.0L242.3 488.6L243.3 488.2L244.3 487.8L245.3 487.5L246.3 487.2L247.3 487.0L248.3 486.7L249.3 486.6L250.3 486.5L251.3 486.4L252.3 486.3L253.3 486.2L254.3 486.1L255.3 486.0L256.3 485.9L257.3 485.8L258.3 485.7L259.3 485.7L260.3 485.6L261.3 485.6L262.0 485.5L265.0 485.5L268.0 485.6L271.0 485.6L274.0 485.7L277.0 485.8L280.0 485.9L283.0 486.0L286.0 486.1L289.0 486.3L292.0 486.4L295.0 486.5L298.0 486.6L301.0 486.7L304.0 486.8L307.0 486.9L310.0 486.9L313.0 487.0L316.0 487.1L319.0 487.2L322.0 487.3L325.0 487.4L328.0 487.5L331.0 487.6L334.0 487.8L337.0 487.9L340.0 488.0L343.0 488.1L346.0 488.3L349.0 488.5L352.0 488.7L355.0 488.9L358.0 489.1L361.0 489.3L364.0 489.6L367.0 489.8L370.0 490.1L373.0 490.3L376.0 490.5L379.0 490.8L382.0 491.0L385.0 491.2L388.0 491.4L391.0 491.6L394.0 491.7L397.0 491.9L400.0 492.0L403.0 492.1L406.0 492.2L409.0 492.3L412.0 492.4L415.0 492.5L418.0 492.6L421.0 492.6L424.0 492.7L427.0 492.8L430.0 492.8L433.0 492.9L436.0 492.9L439.0 493.0L442.0 493.0L445.0 493.0L448.0 493.0L451.0 493.0L454.0 493.0L457.0 492.9L460.0 492.9L463.0 492.9L466.0 492.8L469.0 492.8L472.0 492.7L475.0 492.7L478.0 492.6L481.0 492.6L484.0 492.6L487.0 492.5L490.0 492.5L493.0 492.5L496.0 492.4L499.0 492.4L502.0 492.4L505.0 492.4L508.0 492.4L511.0 492.4L514.0 492.4L517.0 492.5L520.0 492.5L523.0 492.6L526.0 492.6L529.0 492.7L532.0 492.7L535.0 492.8L538.0 492.8L541.0 492.9L544.0 492.9L547.0 493.0L550.0 493.0L553.0 493.0L556.0 493.1L559.0 493.2L562.0 493.3L565.0 493.4L568.0 493.5L571.0 493.7L574.0 493.8L577.0 494.0L580.0 494.2L583.0 494.4L586.0 494.6L589.0 494.8L592.0 495.1L595.0 495.3L598.0 495.6L600.0 495.8L601.5 496.0L603.0 496.4L604.5 496.8L606.0 497.4L607.5 498.1L609.0 498.8L610.5 499.6L612.0 500.4L613.5 501.3L615.0 502.2L616.5 503.0L618.0 503.9L619.5 504.7L621.0 505.5L622.5 506.3L624.0 507.2L625.5 508.0L627.0 508.9L628.5 509.8L630.0 510.7L631.5 511.6L633.0 512.5L634.5 513.4L636.0 514.4L637.5 515.4L639.0 516.4L640.5 517.4L642.0 518.4L643.5 519.4L645.0 520.4L646.5 521.5L648.0 522.6L649.5 523.6L651.0 524.7L652.5 525.9L654.0 527.0L655.5 528.2L657.0 529.4L658.5 530.7L660.0 531.9L661.5 533.2L663.0 534.5L664.5 535.8L666.0 537.1L667.5 538.4L669.0 539.8L670.5 541.1L672.0 542.5L673.5 543.8L675.0 545.2L676.5 546.5L678.0 547.8L679.5 549.2L681.0 550.5L682.5 551.8L684.0 553.1L685.5 554.4L687.0 555.7L688.5 557.0L690.0 558.3L691.5 559.7L693.0 561.1L694.5 562.5L696.0 563.9L697.5 565.4L699.0 566.9L700.5 568.5L702.0 570.2L703.5 572.0L705.0 573.9L706.5 575.8L708.0 577.8L709.5 579.8L711.0 581.9L712.5 584.0L714.0 586.2L715.5 588.3L717.0 590.4L718.5 592.5L720.0 594.6L721.5 596.7L723.0 598.7L724.5 600.6L726.0 602.5L727.5 604.3L729.0 605.9L730.5 607.5L732.0 609.1L733.5 610.6L735.0 612.1L736.5 613.4L738.0 614.6L739.5 615.6L741.0 616.4L742.5 617.0L744.0 617.4L745.5 617.5L747.0 617.2L748.5 616.4L750.0 613.3L751.5 609.1L753.0 605.4L754.5 601.8L756.0 598.2L757.5 594.8L759.0 591.4L759.6 590.0" stroke="#FDAC33" stroke-dasharray="1.7 5.1 6.8 5.1"/>
<path d="M759.3 463.3H771.4" stroke="#FDAC33" stroke-dasharray="1.7 5.1 6.8 5.1"/>
<path d="M182.1 438.2H194.6" stroke="#FEB82C" stroke-dasharray="11.8 5.1"/>
<path d="M194.3 525.1L195.3 525.2L196.3 525.4L197.3 525.5L198.3 525.5L199.3 525.6L200.3 525.6L201.3 525.6L202.3 525.5L203.3 525.5L204.3 525.4L205.3 525.2L206.3 525.0L207.3 524.8L208.3 524.4L209.3 524.0L210.3 523.5L211.3 523.0L212.3 522.4L213.3 521.7L214.3 521.0L215.3 520.1L216.3 519.1L217.3 518.2L218.3 517.1L219.3 516.1L220.3 515.2L221.3 514.2L222.3 513.2L223.3 512.2L224.3 511.2L225.3 510.1L226.3 509.0L227.3 507.8L228.3 506.7L229.3 505.6L230.3 504.6L231.3 503.5L232.3 502.4L233.3 501.3L234.3 500.1L235.3 499.0L236.3 498.0L237.3 497.0L238.3 496.1L239.3 495.3L240.3 494.6L241.3 493.9L242.3 493.2L243.3 492.6L244.3 492.0L245.3 491.4L246.3 490.9L247.3 490.4L248.3 490.1L249.3 489.8L250.3 489.6L251.3 489.4L252.3 489.2L253.3 489.0L254.3 488.9L255.3 488.7L256.3 488.6L257.3 488.4L258.3 488.3L259.3 488.2L260.3 488.1L261.3 488.1L262.0 488.0L265.0 487.9L268.0 487.8L271.0 487.8L274.0 487.8L277.0 487.8L280.0 487.9L283.0 488.0L286.0 488.2L289.0 488.4L292.0 488.6L295.0 488.8L298.0 489.0L301.0 489.2L304.0 489.3L307.0 489.5L310.0 489.7L313.0 489.9L316.0 490.0L319.0 490.2L322.0 490.4L325.0 490.5L328.0 490.7L331.0 490.8L334.0 491.0L337.0 491.2L340.0 491.3L343.0 491.5L346.0 491.6L349.0 491.8L352.0 492.0L355.0 492.2L358.0 492.4L361.0 492.6L364.0 492.9L367.0 493.1L370.0 493.3L373.0 493.6L376.0 493.9L379.0 494.1L382.0 494.4L385.0 494.7L388.0 495.0L391.0 495.2L394.0 495.4L397.0 495.6L400.0 495.8L403.0 496.0L406.0 496.1L409.0 496.3L412.0 496.4L415.0 496.5L418.0 496.6L421.0 496.7L424.0 496.8L427.0 496.9L430.0 497.0L433.0 497.0L436.0 497.1L439.0 497.1L442.0 497.2L445.0 497.2L448.0 497.2L451.0 497.2L454.0 497.2L457.0 497.2L460.0 497.2L463.0 497.2L466.0 497.3L469.0 497.3L472.0 497.3L475.0 497.3L478.0 497.3L481.0 497.3L484.0 497.3L487.0 497.3L490.0 497.3L493.0 497.3L496.0 497.3L499.0 497.3L502.0 497.3L505.0 497.1L508.0 496.9L511.0 496.7L514.0 496.4L517.0 496.1L520.0 495.8L523.0 495.5L526.0 495.3L529.0 495.2L532.0 495.2L535.0 495.2L538.0 495.3L541.0 495.4L544.0 495.6L547.0 495.7L550.0 495.9L553.0 496.1L556.0 496.3L559.0 496.6L562.0 496.8L565.0 497.1L568.0 497.4L571.0 497.8L574.0 498.2L577.0 498.6L580.0 499.1L583.0 499.8L586.0 500.8L589.0 501.9L592.0 503.1L595.0 504.4L598.0 505.7L600.0 506.7L601.5 507.4L603.0 508.2L604.5 509.0L606.0 509.8L607.5 510.6L609.0 511.5L610.5 512.4L612.0 513.2L613.5 514.2L615.0 515.1L616.5 516.1L618.0 517.0L619.5 518.0L621.0 519.0L622.5 520.0L624.0 521.0L625.5 522.0L627.0 522.9L628.5 523.9L630.0 524.9L631.5 525.9L633.0 526.9L634.5 527.8L636.0 528.8L637.5 529.8L639.0 530.7L640.5 531.7L642.0 532.7L643.5 533.7L645.0 534.8L646.5 535.8L648.0 536.9L649.5 538.0L651.0 539.1L652.5 540.3L654.0 541.5L655.5 542.7L657.0 544.0L658.5 545.3L660.0 546.6L661.5 547.9L663.0 549.3L664.5 550.7L666.0 552.1L667.5 553.5L669.0 555.0L670.5 556.5L672.0 558.0L673.5 559.5L675.0 561.1L676.5 562.6L678.0 564.2L679.5 565.7L681.0 567.3L682.5 568.8L684.0 570.3L685.5 571.9L687.0 573.4L688.5 575.0L690.0 576.6L691.5 578.2L693.0 579.8L694.5 581.4L696.0 583.0L697.5 584.7L699.0 586.4L700.5 588.1L702.0 589.9L703.5 591.7L705.0 593.6L706.5 595.5L708.0 597.4L709.5 599.4L711.0 601.4L712.5 603.4L714.0 605.5L715.5 607.5L717.0 609.6L718.5 611.6L720.0 613.6L721.5 615.7L723.0 617.6L724.5 619.6L726.0 621.6L727.5 623.5L729.0 625.3L730.5 627.2L732.0 628.9L733.5 630.7L735.0 632.5L736.5 634.2L738.0 635.9L739.5 637.3L741.0 638.4L742.5 639.0L744.0 639.4L745.5 639.5L747.0 639.3L748.5 638.4L750.0 634.6L751.5 629.3L753.0 624.8L754.5 620.3L756.0 616.0L757.5 611.6L759.0 607.4L759.6 605.7" stroke="#FEB82C" stroke-dasharray="11.8 5.1"/>
<path d="M759.3 445.0H771.4" stroke="#FEB82C" stroke-dasharray="11.8 5.1"/>
<path d="M182.1 445.2H194.6" stroke="#FDC527"/>
<path d="M194.3 531.9L195.3 532.0L196.3 532.0L197.3 532.0L198.3 532.0L199.3 532.0L200.3 531.9L201.3 531.9L202.3 531.8L203.3 531.7L204.3 531.6L205.3 531.5L206.3 531.3L207.3 531.1L208.3 530.8L209.3 530.4L210.3 530.0L211.3 529.6L212.3 529.1L213.3 528.5L214.3 527.9L215.3 527.1L216.3 526.2L217.3 525.2L218.3 524.2L219.3 523.2L220.3 522.2L221.3 521.2L222.3 520.2L223.3 519.1L224.3 518.0L225.3 516.9L226.3 515.8L227.3 514.6L228.3 513.5L229.3 512.3L230.3 511.2L231.3 510.0L232.3 508.7L233.3 507.5L234.3 506.2L235.3 504.9L236.3 503.6L237.3 502.4L238.3 501.2L239.3 500.2L240.3 499.2L241.3 498.3L242.3 497.4L243.3 496.6L244.3 495.8L245.3 495.0L246.3 494.3L247.3 493.7L248.3 493.2L249.3 492.8L250.3 492.5L251.3 492.2L252.3 492.0L253.3 491.7L254.3 491.5L255.3 491.3L256.3 491.1L257.3 490.9L258.3 490.8L259.3 490.6L260.3 490.5L261.3 490.5L262.0 490.4L265.0 490.2L268.0 490.0L271.0 489.8L274.0 489.7L277.0 489.7L280.0 489.7L283.0 489.9L286.0 490.2L289.0 490.5L292.0 490.8L295.0 491.1L298.0 491.4L301.0 491.6L304.0 491.9L307.0 492.1L310.0 492.4L313.0 492.6L316.0 492.9L319.0 493.1L322.0 493.3L325.0 493.6L328.0 493.8L331.0 494.0L334.0 494.2L337.0 494.4L340.0 494.5L343.0 494.7L346.0 494.9L349.0 495.1L352.0 495.3L355.0 495.4L358.0 495.6L361.0 495.8L364.0 496.1L367.0 496.3L370.0 496.5L373.0 496.8L376.0 497.1L379.0 497.4L382.0 497.8L385.0 498.1L388.0 498.5L391.0 498.8L394.0 499.1L397.0 499.4L400.0 499.6L403.0 499.8L406.0 500.0L409.0 500.2L412.0 500.4L415.0 500.6L418.0 500.7L421.0 500.9L424.0 501.0L427.0 501.1L430.0 501.2L433.0 501.3L436.0 501.3L439.0 501.4L442.0 501.4L445.0 501.5L448.0 501.5L451.0 501.6L454.0 501.6L457.0 501.7L460.0 501.7L463.0 501.8L466.0 501.8L469.0 501.9L472.0 501.9L475.0 502.0L478.0 502.0L481.0 502.1L484.0 502.1L487.0 502.1L490.0 502.2L493.0 502.2L496.0 502.2L499.0 502.2L502.0 502.1L505.0 501.9L508.0 501.5L511.0 501.0L514.0 500.4L517.0 499.7L520.0 499.1L523.0 498.6L526.0 498.1L529.0 497.9L532.0 497.7L535.0 497.7L538.0 497.8L541.0 498.0L544.0 498.2L547.0 498.5L550.0 498.8L553.0 499.1L556.0 499.5L559.0 499.8L562.0 500.1L565.0 500.5L568.0 501.0L571.0 501.5L574.0 502.1L577.0 502.8L580.0 503.5L583.0 504.5L586.0 505.9L589.0 507.5L592.0 509.1L595.0 510.9L598.0 512.8L600.0 514.1L601.5 515.1L603.0 516.1L604.5 517.2L606.0 518.2L607.5 519.2L609.0 520.3L610.5 521.4L612.0 522.4L613.5 523.5L615.0 524.6L616.5 525.8L618.0 526.9L619.5 528.0L621.0 529.2L622.5 530.4L624.0 531.5L625.5 532.6L627.0 533.8L628.5 534.9L630.0 536.0L631.5 537.1L633.0 538.1L634.5 539.2L636.0 540.2L637.5 541.2L639.0 542.2L640.5 543.2L642.0 544.3L643.5 545.3L645.0 546.3L646.5 547.4L648.0 548.5L649.5 549.6L651.0 550.8L652.5 552.0L654.0 553.2L655.5 554.4L657.0 555.7L658.5 557.0L660.0 558.4L661.5 559.7L663.0 561.1L664.5 562.5L666.0 564.0L667.5 565.5L669.0 567.0L670.5 568.6L672.0 570.2L673.5 571.8L675.0 573.4L676.5 575.1L678.0 576.8L679.5 578.4L681.0 580.1L682.5 581.8L684.0 583.5L685.5 585.2L687.0 586.9L688.5 588.6L690.0 590.3L691.5 592.1L693.0 593.8L694.5 595.6L696.0 597.3L697.5 599.1L699.0 600.9L700.5 602.7L702.0 604.5L703.5 606.3L705.0 608.1L706.5 610.0L708.0 611.8L709.5 613.7L711.0 615.6L712.5 617.5L714.0 619.5L715.5 621.4L717.0 623.4L718.5 625.3L720.0 627.3L721.5 629.2L723.0 631.2L724.5 633.2L726.0 635.1L727.5 637.1L729.0 639.1L730.5 641.0L732.0 643.0L733.5 644.9L735.0 646.8L736.5 648.9L738.0 650.9L739.5 652.6L741.0 653.9L742.5 654.5L744.0 654.9L745.5 655.0L747.0 654.8L748.5 653.9L750.0 649.6L751.5 643.6L753.0 638.5L754.5 633.5L756.0 628.5L757.5 623.7L759.0 618.9L759.6 617.0" stroke="#FDC527"/>
<path d="M759.3 429.8H771.4" stroke="#FDC527"/>
<path d="M182.1 450.0H194.6" stroke="#FCD225" stroke-dasharray="6.8 6.8"/>
<path d="M194.3 531.6L195.3 531.6L196.3 531.6L197.3 531.6L198.3 531.5L199.3 531.4L200.3 531.2L201.3 531.1L202.3 530.9L203.3 530.7L204.3 530.5L205.3 530.3L206.3 530.1L207.3 529.8L208.3 529.5L209.3 529.1L210.3 528.6L211.3 528.1L212.3 527.6L213.3 527.0L214.3 526.4L215.3 525.7L216.3 524.9L217.3 524.1L218.3 523.2L219.3 522.4L220.3 521.5L221.3 520.6L222.3 519.7L223.3 518.8L224.3 517.8L225.3 516.9L226.3 516.0L227.3 515.1L228.3 514.2L229.3 513.3L230.3 512.3L231.3 511.4L232.3 510.4L233.3 509.4L234.3 508.4L235.3 507.5L236.3 506.5L237.3 505.5L238.3 504.5L239.3 503.6L240.3 502.7L241.3 501.9L242.3 501.1L243.3 500.4L244.3 499.7L245.3 499.0L246.3 498.4L247.3 497.9L248.3 497.4L249.3 497.0L250.3 496.6L251.3 496.3L252.3 496.1L253.3 495.8L254.3 495.6L255.3 495.4L256.3 495.2L257.3 495.1L258.3 495.0L259.3 494.8L260.3 494.7L261.3 494.7L262.0 494.6L265.0 494.4L268.0 494.4L271.0 494.4L274.0 494.4L277.0 494.5L280.0 494.8L283.0 495.1L286.0 495.5L289.0 495.9L292.0 496.3L295.0 496.7L298.0 497.1L301.0 497.5L304.0 497.9L307.0 498.3L310.0 498.7L313.0 499.1L316.0 499.4L319.0 499.7L322.0 500.0L325.0 500.3L328.0 500.5L331.0 500.8L334.0 501.0L337.0 501.2L340.0 501.4L343.0 501.6L346.0 501.8L349.0 501.9L352.0 502.1L355.0 502.3L358.0 502.5L361.0 502.7L364.0 502.9L367.0 503.1L370.0 503.4L373.0 503.6L376.0 503.9L379.0 504.3L382.0 504.6L385.0 504.9L388.0 505.2L391.0 505.5L394.0 505.8L397.0 506.1L400.0 506.3L403.0 506.5L406.0 506.7L409.0 506.8L412.0 507.0L415.0 507.1L418.0 507.3L421.0 507.4L424.0 507.5L427.0 507.6L430.0 507.6L433.0 507.7L436.0 507.7L439.0 507.7L442.0 507.8L445.0 507.8L448.0 507.8L451.0 507.8L454.0 507.7L457.0 507.7L460.0 507.6L463.0 507.6L466.0 507.5L469.0 507.4L472.0 507.3L475.0 507.2L478.0 507.1L481.0 507.0L484.0 506.9L487.0 506.8L490.0 506.7L493.0 506.6L496.0 506.5L499.0 506.4L502.0 506.3L505.0 506.1L508.0 505.8L511.0 505.4L514.0 505.0L517.0 504.5L520.0 504.1L523.0 503.7L526.0 503.4L529.0 503.1L532.0 503.0L535.0 503.0L538.0 503.0L541.0 503.1L544.0 503.3L547.0 503.5L550.0 503.8L553.0 504.1L556.0 504.4L559.0 504.7L562.0 505.0L565.0 505.4L568.0 505.8L571.0 506.3L574.0 506.8L577.0 507.3L580.0 507.7L583.0 508.4L586.0 509.3L589.0 510.4L592.0 511.5L595.0 512.7L598.0 514.1L600.0 515.1L601.5 515.9L603.0 516.8L604.5 517.9L606.0 519.1L607.5 520.3L609.0 521.6L610.5 523.0L612.0 524.4L613.5 525.9L615.0 527.3L616.5 528.8L618.0 530.2L619.5 531.6L621.0 532.9L622.5 534.2L624.0 535.6L625.5 536.9L627.0 538.2L628.5 539.6L630.0 540.9L631.5 542.3L633.0 543.6L634.5 544.9L636.0 546.2L637.5 547.5L639.0 548.8L640.5 550.1L642.0 551.4L643.5 552.6L645.0 553.9L646.5 555.2L648.0 556.5L649.5 557.8L651.0 559.1L652.5 560.4L654.0 561.8L655.5 563.1L657.0 564.5L658.5 565.9L660.0 567.3L661.5 568.8L663.0 570.2L664.5 571.7L666.0 573.2L667.5 574.7L669.0 576.2L670.5 577.7L672.0 579.3L673.5 580.9L675.0 582.4L676.5 584.0L678.0 585.6L679.5 587.3L681.0 588.9L682.5 590.5L684.0 592.2L685.5 593.8L687.0 595.5L688.5 597.2L690.0 598.9L691.5 600.6L693.0 602.3L694.5 604.1L696.0 605.8L697.5 607.6L699.0 609.3L700.5 611.1L702.0 612.9L703.5 614.7L705.0 616.6L706.5 618.4L708.0 620.2L709.5 622.1L711.0 624.0L712.5 625.9L714.0 627.9L715.5 629.9L717.0 631.9L718.5 633.9L720.0 635.9L721.5 637.9L723.0 639.9L724.5 641.9L726.0 643.9L727.5 645.9L729.0 647.9L730.5 649.9L732.0 651.8L733.5 653.8L735.0 655.8L736.5 657.9L738.0 660.0L739.5 661.8L741.0 663.1L742.5 663.8L744.0 664.1L745.5 664.2L747.0 664.0L748.5 663.1L750.0 658.8L751.5 652.7L753.0 647.6L754.5 642.4L756.0 637.4L757.5 632.5L759.0 627.6L759.6 625.7" stroke="#FCD225" stroke-dasharray="6.8 6.8"/>
<path d="M759.3 421.1H771.4" stroke="#FCD225" stroke-dasharray="6.8 6.8"/>
<path d="M182.1 451.0H194.6" stroke="#F8DF25" stroke-dasharray="1.7 5.1 6.8 5.1"/>
<path d="M194.3 531.0L195.3 530.9L196.3 530.7L197.3 530.5L198.3 530.2L199.3 530.0L200.3 529.7L201.3 529.4L202.3 529.1L203.3 528.7L204.3 528.4L205.3 528.1L206.3 527.7L207.3 527.3L208.3 526.9L209.3 526.5L210.3 526.0L211.3 525.5L212.3 525.0L213.3 524.4L214.3 523.9L215.3 523.3L216.3 522.8L217.3 522.2L218.3 521.5L219.3 520.9L220.3 520.2L221.3 519.6L222.3 518.9L223.3 518.2L224.3 517.5L225.3 516.8L226.3 516.1L227.3 515.3L228.3 514.6L229.3 513.8L230.3 513.0L231.3 512.2L232.3 511.5L233.3 510.7L234.3 510.0L235.3 509.3L236.3 508.6L237.3 507.8L238.3 507.1L239.3 506.4L240.3 505.7L241.3 505.0L242.3 504.4L243.3 503.8L244.3 503.3L245.3 502.9L246.3 502.5L247.3 502.1L248.3 501.7L249.3 501.3L250.3 501.0L251.3 500.7L252.3 500.4L253.3 500.2L254.3 500.1L255.3 500.0L256.3 499.9L257.3 499.8L258.3 499.7L259.3 499.6L260.3 499.5L261.3 499.5L262.0 499.5L265.0 499.5L268.0 499.6L271.0 499.9L274.0 500.3L277.0 500.7L280.0 501.2L283.0 501.6L286.0 502.2L289.0 502.8L292.0 503.3L295.0 503.8L298.0 504.3L301.0 504.8L304.0 505.3L307.0 505.8L310.0 506.2L313.0 506.7L316.0 507.1L319.0 507.5L322.0 507.8L325.0 508.1L328.0 508.3L331.0 508.6L334.0 508.8L337.0 509.0L340.0 509.2L343.0 509.4L346.0 509.6L349.0 509.8L352.0 509.9L355.0 510.1L358.0 510.3L361.0 510.5L364.0 510.7L367.0 510.9L370.0 511.1L373.0 511.3L376.0 511.6L379.0 511.8L382.0 512.1L385.0 512.3L388.0 512.6L391.0 512.8L394.0 513.0L397.0 513.2L400.0 513.4L403.0 513.6L406.0 513.7L409.0 513.8L412.0 514.0L415.0 514.1L418.0 514.2L421.0 514.3L424.0 514.3L427.0 514.4L430.0 514.5L433.0 514.5L436.0 514.5L439.0 514.5L442.0 514.5L445.0 514.4L448.0 514.4L451.0 514.3L454.0 514.1L457.0 514.0L460.0 513.8L463.0 513.6L466.0 513.4L469.0 513.2L472.0 512.9L475.0 512.6L478.0 512.4L481.0 512.1L484.0 511.9L487.0 511.6L490.0 511.4L493.0 511.1L496.0 510.9L499.0 510.8L502.0 510.6L505.0 510.4L508.0 510.3L511.0 510.2L514.0 510.0L517.0 509.9L520.0 509.8L523.0 509.7L526.0 509.6L529.0 509.5L532.0 509.4L535.0 509.4L538.0 509.3L541.0 509.3L544.0 509.3L547.0 509.4L550.0 509.5L553.0 509.7L556.0 509.9L559.0 510.1L562.0 510.4L565.0 510.7L568.0 510.9L571.0 511.2L574.0 511.5L577.0 511.8L580.0 512.0L583.0 512.3L586.0 512.6L589.0 513.1L592.0 513.7L595.0 514.5L598.0 515.3L600.0 516.0L601.5 516.7L603.0 517.5L604.5 518.6L606.0 519.9L607.5 521.3L609.0 522.9L610.5 524.5L612.0 526.2L613.5 527.9L615.0 529.6L616.5 531.3L618.0 532.9L619.5 534.5L621.0 536.0L622.5 537.5L624.0 539.0L625.5 540.5L627.0 542.0L628.5 543.5L630.0 545.0L631.5 546.5L633.0 548.0L634.5 549.5L636.0 551.0L637.5 552.5L639.0 554.0L640.5 555.5L642.0 556.9L643.5 558.4L645.0 559.8L646.5 561.2L648.0 562.6L649.5 564.0L651.0 565.4L652.5 566.8L654.0 568.2L655.5 569.7L657.0 571.1L658.5 572.5L660.0 574.0L661.5 575.5L663.0 576.9L664.5 578.4L666.0 579.9L667.5 581.4L669.0 582.9L670.5 584.4L672.0 585.9L673.5 587.4L675.0 588.9L676.5 590.5L678.0 592.0L679.5 593.6L681.0 595.2L682.5 596.8L684.0 598.4L685.5 600.0L687.0 601.6L688.5 603.3L690.0 604.9L691.5 606.6L693.0 608.3L694.5 610.0L696.0 611.7L697.5 613.5L699.0 615.2L700.5 617.0L702.0 618.8L703.5 620.6L705.0 622.4L706.5 624.3L708.0 626.1L709.5 628.0L711.0 629.9L712.5 631.9L714.0 633.9L715.5 635.9L717.0 638.0L718.5 640.1L720.0 642.1L721.5 644.1L723.0 646.2L724.5 648.2L726.0 650.2L727.5 652.2L729.0 654.3L730.5 656.3L732.0 658.3L733.5 660.2L735.0 662.3L736.5 664.5L738.0 666.7L739.5 668.5L741.0 669.9L742.5 670.6L744.0 670.9L745.5 671.0L747.0 670.8L748.5 669.9L750.0 665.5L751.5 659.4L753.0 654.1L754.5 648.9L756.0 643.8L757.5 638.8L759.0 633.9L759.6 632.0" stroke="#F8DF25" stroke-dasharray="1.7 5.1 6.8 5.1"/>
<path d="M759.3 414.7H771.4" stroke="#F8DF25" stroke-dasharray="1.7 5.1 6.8 5.1"/>
<path d="M182.1 446.7H194.6" stroke="#F4ED27" stroke-dasharray="11.8 5.1"/>
<path d="M194.3 529.5L195.3 529.0L196.3 528.5L197.3 528.0L198.3 527.5L199.3 527.0L200.3 526.6L201.3 526.3L202.3 525.9L203.3 525.6L204.3 525.3L205.3 525.0L206.3 524.7L207.3 524.3L208.3 524.0L209.3 523.6L210.3 523.3L211.3 522.9L212.3 522.5L213.3 522.1L214.3 521.7L215.3 521.3L216.3 520.9L217.3 520.5L218.3 520.0L219.3 519.6L220.3 519.1L221.3 518.6L222.3 518.1L223.3 517.6L224.3 517.1L225.3 516.6L226.3 516.0L227.3 515.4L228.3 514.9L229.3 514.3L230.3 513.7L231.3 513.1L232.3 512.5L233.3 512.0L234.3 511.4L235.3 510.9L236.3 510.4L237.3 509.9L238.3 509.4L239.3 508.8L240.3 508.3L241.3 507.8L242.3 507.3L243.3 506.9L244.3 506.6L245.3 506.2L246.3 505.9L247.3 505.6L248.3 505.3L249.3 505.0L250.3 504.8L251.3 504.5L252.3 504.3L253.3 504.2L254.3 504.1L255.3 504.0L256.3 503.9L257.3 503.9L258.3 503.9L259.3 503.9L260.3 503.9L261.3 503.9L262.0 503.9L265.0 504.1L268.0 504.4L271.0 504.9L274.0 505.5L277.0 506.1L280.0 506.7L283.0 507.3L286.0 508.1L289.0 508.8L292.0 509.5L295.0 510.1L298.0 510.6L301.0 511.1L304.0 511.5L307.0 512.0L310.0 512.4L313.0 512.8L316.0 513.2L319.0 513.6L322.0 513.9L325.0 514.2L328.0 514.5L331.0 514.7L334.0 515.0L337.0 515.2L340.0 515.4L343.0 515.6L346.0 515.7L349.0 515.9L352.0 516.0L355.0 516.2L358.0 516.3L361.0 516.5L364.0 516.7L367.0 516.8L370.0 517.0L373.0 517.2L376.0 517.4L379.0 517.6L382.0 517.8L385.0 518.0L388.0 518.2L391.0 518.4L394.0 518.5L397.0 518.7L400.0 518.8L403.0 519.0L406.0 519.1L409.0 519.3L412.0 519.4L415.0 519.5L418.0 519.6L421.0 519.8L424.0 519.9L427.0 519.9L430.0 520.0L433.0 520.1L436.0 520.1L439.0 520.1L442.0 520.1L445.0 520.0L448.0 519.9L451.0 519.8L454.0 519.7L457.0 519.5L460.0 519.3L463.0 519.1L466.0 518.9L469.0 518.6L472.0 518.4L475.0 518.1L478.0 517.8L481.0 517.5L484.0 517.2L487.0 517.0L490.0 516.7L493.0 516.5L496.0 516.2L499.0 516.0L502.0 515.9L505.0 515.7L508.0 515.6L511.0 515.5L514.0 515.5L517.0 515.4L520.0 515.4L523.0 515.3L526.0 515.2L529.0 515.2L532.0 515.1L535.0 515.0L538.0 514.9L541.0 514.8L544.0 514.8L547.0 514.8L550.0 514.8L553.0 514.9L556.0 515.0L559.0 515.2L562.0 515.3L565.0 515.5L568.0 515.7L571.0 515.8L574.0 516.0L577.0 516.3L580.0 516.6L583.0 516.9L586.0 517.2L589.0 517.5L592.0 518.0L595.0 518.7L598.0 519.5L600.0 520.1L601.5 520.7L603.0 521.6L604.5 522.7L606.0 523.9L607.5 525.3L609.0 526.9L610.5 528.5L612.0 530.2L613.5 531.9L615.0 533.7L616.5 535.5L618.0 537.3L619.5 539.0L621.0 540.6L622.5 542.2L624.0 543.8L625.5 545.5L627.0 547.1L628.5 548.7L630.0 550.2L631.5 551.8L633.0 553.3L634.5 554.8L636.0 556.3L637.5 557.8L639.0 559.2L640.5 560.7L642.0 562.1L643.5 563.5L645.0 564.9L646.5 566.3L648.0 567.7L649.5 569.0L651.0 570.4L652.5 571.7L654.0 573.1L655.5 574.5L657.0 575.9L658.5 577.3L660.0 578.7L661.5 580.2L663.0 581.6L664.5 583.1L666.0 584.5L667.5 586.0L669.0 587.5L670.5 589.0L672.0 590.5L673.5 592.0L675.0 593.5L676.5 595.0L678.0 596.5L679.5 598.1L681.0 599.7L682.5 601.2L684.0 602.8L685.5 604.4L687.0 606.1L688.5 607.7L690.0 609.4L691.5 611.1L693.0 612.8L694.5 614.6L696.0 616.3L697.5 618.1L699.0 619.8L700.5 621.6L702.0 623.4L703.5 625.2L705.0 627.0L706.5 628.8L708.0 630.7L709.5 632.6L711.0 634.6L712.5 636.6L714.0 638.6L715.5 640.7L717.0 642.8L718.5 644.9L720.0 647.0L721.5 649.1L723.0 651.1L724.5 653.2L726.0 655.3L727.5 657.3L729.0 659.4L730.5 661.4L732.0 663.5L733.5 665.5L735.0 667.7L736.5 670.0L738.0 672.3L739.5 674.3L741.0 675.7L742.5 676.4L744.0 676.8L745.5 676.9L747.0 676.6L748.5 675.8L750.0 671.2L751.5 664.8L753.0 659.4L754.5 653.9L756.0 648.6L757.5 643.4L759.0 638.3L759.6 636.3" stroke="#F4ED27" stroke-dasharray="11.8 5.1"/>
<path d="M759.3 413.5H771.4" stroke="#F4ED27" stroke-dasharray="11.8 5.1"/>
<path d="M182.1 443.7H194.6" stroke="#F0F921"/>
<path d="M194.3 527.0L195.3 525.9L196.3 524.9L197.3 523.9L198.3 523.0L199.3 522.2L200.3 521.7L201.3 521.4L202.3 521.2L203.3 521.0L204.3 520.8L205.3 520.7L206.3 520.5L207.3 520.4L208.3 520.3L209.3 520.2L210.3 520.0L211.3 519.9L212.3 519.8L213.3 519.6L214.3 519.4L215.3 519.2L216.3 518.9L217.3 518.6L218.3 518.3L219.3 518.1L220.3 517.8L221.3 517.5L222.3 517.2L223.3 516.9L224.3 516.5L225.3 516.2L226.3 515.8L227.3 515.5L228.3 515.1L229.3 514.6L230.3 514.2L231.3 513.8L232.3 513.4L233.3 513.0L234.3 512.6L235.3 512.2L236.3 511.9L237.3 511.5L238.3 511.2L239.3 510.9L240.3 510.6L241.3 510.2L242.3 510.0L243.3 509.7L244.3 509.5L245.3 509.2L246.3 509.0L247.3 508.8L248.3 508.6L249.3 508.4L250.3 508.2L251.3 508.1L252.3 508.0L253.3 507.9L254.3 507.8L255.3 507.8L256.3 507.8L257.3 507.8L258.3 507.9L259.3 508.0L260.3 508.0L261.3 508.2L262.0 508.2L265.0 508.6L268.0 509.2L271.0 509.8L274.0 510.5L277.0 511.3L280.0 512.1L283.0 512.9L286.0 513.9L289.0 514.8L292.0 515.7L295.0 516.3L298.0 516.8L301.0 517.2L304.0 517.5L307.0 517.8L310.0 518.0L313.0 518.4L316.0 518.7L319.0 519.0L322.0 519.3L325.0 519.6L328.0 519.9L331.0 520.2L334.0 520.5L337.0 520.7L340.0 520.9L343.0 521.0L346.0 521.1L349.0 521.3L352.0 521.4L355.0 521.5L358.0 521.6L361.0 521.7L364.0 521.8L367.0 521.9L370.0 522.1L373.0 522.2L376.0 522.3L379.0 522.5L382.0 522.6L385.0 522.7L388.0 522.9L391.0 523.0L394.0 523.1L397.0 523.3L400.0 523.4L403.0 523.5L406.0 523.7L409.0 523.9L412.0 524.0L415.0 524.2L418.0 524.4L421.0 524.5L424.0 524.7L427.0 524.8L430.0 524.9L433.0 525.0L436.0 525.1L439.0 525.1L442.0 525.1L445.0 525.1L448.0 525.0L451.0 524.9L454.0 524.8L457.0 524.7L460.0 524.5L463.0 524.3L466.0 524.2L469.0 524.0L472.0 523.8L475.0 523.6L478.0 523.4L481.0 523.1L484.0 522.9L487.0 522.7L490.0 522.6L493.0 522.4L496.0 522.2L499.0 522.0L502.0 521.9L505.0 521.8L508.0 521.6L511.0 521.5L514.0 521.4L517.0 521.2L520.0 521.1L523.0 521.0L526.0 520.8L529.0 520.7L532.0 520.6L535.0 520.5L538.0 520.4L541.0 520.3L544.0 520.2L547.0 520.1L550.0 520.1L553.0 520.1L556.0 520.1L559.0 520.1L562.0 520.2L565.0 520.2L568.0 520.3L571.0 520.3L574.0 520.5L577.0 520.9L580.0 521.4L583.0 521.9L586.0 522.6L589.0 523.2L592.0 523.9L595.0 525.1L598.0 526.5L600.0 527.5L601.5 528.3L603.0 529.2L604.5 530.1L606.0 531.2L607.5 532.3L609.0 533.5L610.5 534.7L612.0 536.0L613.5 537.5L615.0 539.1L616.5 540.9L618.0 542.7L619.5 544.4L621.0 546.1L622.5 547.8L624.0 549.5L625.5 551.2L627.0 552.9L628.5 554.5L630.0 556.0L631.5 557.4L633.0 558.8L634.5 560.1L636.0 561.4L637.5 562.7L639.0 564.0L640.5 565.2L642.0 566.5L643.5 567.8L645.0 569.1L646.5 570.3L648.0 571.5L649.5 572.8L651.0 574.0L652.5 575.3L654.0 576.5L655.5 577.8L657.0 579.1L658.5 580.4L660.0 581.8L661.5 583.2L663.0 584.6L664.5 586.0L666.0 587.4L667.5 588.9L669.0 590.3L670.5 591.8L672.0 593.3L673.5 594.8L675.0 596.4L676.5 597.9L678.0 599.4L679.5 601.0L681.0 602.6L682.5 604.2L684.0 605.8L685.5 607.4L687.0 609.0L688.5 610.7L690.0 612.4L691.5 614.2L693.0 615.9L694.5 617.7L696.0 619.4L697.5 621.2L699.0 623.0L700.5 624.7L702.0 626.5L703.5 628.3L705.0 630.1L706.5 632.0L708.0 633.9L709.5 635.8L711.0 637.8L712.5 639.9L714.0 642.0L715.5 644.1L717.0 646.2L718.5 648.4L720.0 650.5L721.5 652.6L723.0 654.7L724.5 656.8L726.0 658.9L727.5 661.0L729.0 663.1L730.5 665.2L732.0 667.3L733.5 669.4L735.0 671.7L736.5 674.2L738.0 676.7L739.5 678.8L741.0 680.3L742.5 681.1L744.0 681.4L745.5 681.5L747.0 681.3L748.5 680.4L750.0 675.6L751.5 668.9L753.0 663.2L754.5 657.5L756.0 651.9L757.5 646.5L759.0 641.1L759.6 639.0" stroke="#F0F921"/>
<path d="M759.3 412.8H771.4" stroke="#F0F921"/>
</g>
<g fill="none" stroke-linecap="butt">
<path d="M182.1 761.18H771.4" stroke="#F58B47" stroke-width="2.9" opacity="0.55"/>
<path d="M182.1 761.18H771.4" stroke="#F0F921" stroke-width="2.3"/>
</g>
<g fill="none" stroke="#000" stroke-width="1.85" stroke-linecap="round" stroke-linejoin="round">
<rect x="172.00" y="106.70" width="610.00" height="875.35"/>
<path d="M172.00 397.20H782.00M172.00 691.75H782.00"/>
<path d="M172.00 109.25H161.30M172.00 175.89H161.30M172.00 242.53H161.30M172.00 309.16H161.30M172.00 375.80H161.30M172.00 400.00H161.30M172.00 467.50H161.30M172.00 535.00H161.30M172.00 602.50H161.30M172.00 670.00H161.30M172.00 694.55H161.30M172.00 761.18H161.30M172.00 827.80H161.30M172.00 894.43H161.30M172.00 961.06H161.30M191.40 982.05V992.65M305.52 982.05V992.65M419.64 982.05V992.65M533.76 982.05V992.65M647.88 982.05V992.65M762.00 982.05V992.65"/>
</g>
<g style="filter:grayscale(1)">
<g text-anchor="end">
<text transform="translate(150.6,119.5) scale(1,1.08)">0.5</text>
<text transform="translate(150.6,186.2) scale(1,1.08)">0</text>
<text transform="translate(150.6,252.8) scale(1,1.08)">−0.5</text>
<text transform="translate(150.6,319.5) scale(1,1.08)">−1</text>
<text transform="translate(150.6,386.1) scale(1,1.08)">−1.5</text>
<text transform="translate(150.6,410.3) scale(1,1.08)">0.5</text>
<text transform="translate(150.6,477.8) scale(1,1.08)">0</text>
<text transform="translate(150.6,545.3) scale(1,1.08)">−0.5</text>
<text transform="translate(150.6,612.8) scale(1,1.08)">−1</text>
<text transform="translate(150.6,680.3) scale(1,1.08)">−1.5</text>
<text transform="translate(150.6,704.8) scale(1,1.08)">0.5</text>
<text transform="translate(150.6,771.5) scale(1,1.08)">0</text>
<text transform="translate(150.6,838.1) scale(1,1.08)">−0.5</text>
<text transform="translate(150.6,904.7) scale(1,1.08)">−1</text>
<text transform="translate(150.6,971.4) scale(1,1.08)">−1.5</text>
</g>
<g text-anchor="middle">
<text transform="translate(191.4,1021.9) scale(1,1.08)">0.0</text>
<text transform="translate(305.5,1021.9) scale(1,1.08)">0.2</text>
<text transform="translate(419.6,1021.9) scale(1,1.08)">0.4</text>
<text transform="translate(533.8,1021.9) scale(1,1.08)">0.6</text>
<text transform="translate(647.9,1021.9) scale(1,1.08)">0.8</text>
<text transform="translate(762.0,1021.9) scale(1,1.08)">1.0</text>
<text x="494.9" y="375.0">c_age = 0–6</text>
<text x="494.9" y="669.5">c_age = 7–18</text>
<text x="494.9" y="959.85">c_age = other</text>
<text x="476.7" y="1064" style="font-size:27.15px">s: income share earned by the woman</text>
</g>
<g transform="translate(59.8,706.8) rotate(-90)"><text x="0" y="0">clr [g</text><text x="45.6" y="-9.5">^</text><text x="57.7" y="5.8" style="font-size:18.3px">c_age, East</text><text x="155" y="0" style="font-family:'Liberation Serif',serif;font-size:33.5px">(</text><text x="166.8" y="0">year</text><text x="219.3" y="0" style="font-family:'Liberation Serif',serif;font-size:33.5px">)</text><text x="229.2" y="0">]</text></g>
</g>
</svg></body></html>
